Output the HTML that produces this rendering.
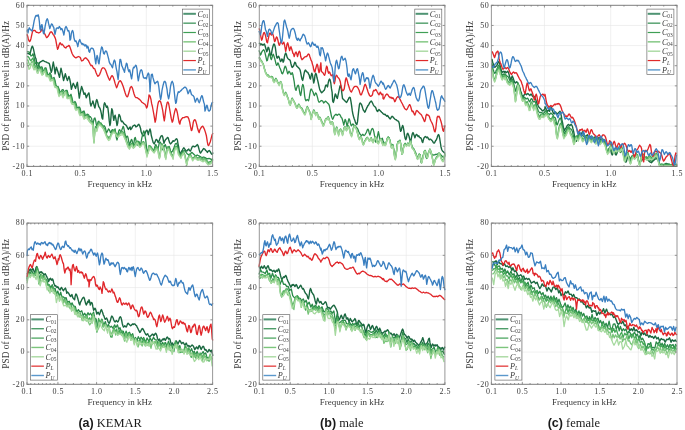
<!DOCTYPE html>
<html><head><meta charset="utf-8"><style>
html,body{margin:0;padding:0;background:#fff;width:685px;height:430px;overflow:hidden}
svg{display:block;will-change:transform;font-family:"Liberation Serif",serif}
</style></head><body>
<svg width="685" height="430" viewBox="0 0 685 430">
<line x1="80.03" y1="5.30" x2="80.03" y2="166.40" stroke="#e6e6e6" stroke-width="0.6"/>
<line x1="146.31" y1="5.30" x2="146.31" y2="166.40" stroke="#e6e6e6" stroke-width="0.6"/>
<line x1="27.00" y1="146.26" x2="212.60" y2="146.26" stroke="#e6e6e6" stroke-width="0.6"/>
<line x1="27.00" y1="126.12" x2="212.60" y2="126.12" stroke="#e6e6e6" stroke-width="0.6"/>
<line x1="27.00" y1="105.99" x2="212.60" y2="105.99" stroke="#e6e6e6" stroke-width="0.6"/>
<line x1="27.00" y1="85.85" x2="212.60" y2="85.85" stroke="#e6e6e6" stroke-width="0.6"/>
<line x1="27.00" y1="65.71" x2="212.60" y2="65.71" stroke="#e6e6e6" stroke-width="0.6"/>
<line x1="27.00" y1="45.58" x2="212.60" y2="45.58" stroke="#e6e6e6" stroke-width="0.6"/>
<line x1="27.00" y1="25.44" x2="212.60" y2="25.44" stroke="#e6e6e6" stroke-width="0.6"/>
<polyline points="27.0,53.1 27.7,53.3 28.4,53.6 29.1,54.0 29.8,54.3 30.5,52.0 31.2,49.0 31.8,47.0 32.3,46.2 32.9,47.2 33.5,49.1 34.3,53.1 35.1,56.4 35.6,58.0 36.0,58.8 36.4,61.3 36.8,65.4 37.2,69.4 37.5,70.9 37.9,68.8 38.3,66.0 38.9,64.0 39.6,62.6 40.3,62.0 41.0,61.7 41.7,61.2 42.4,60.6 43.0,60.5 43.7,60.8 44.4,61.3 45.1,61.7 45.8,61.9 46.5,62.2 47.2,62.6 47.9,62.8 48.6,63.1 49.3,63.6 50.0,66.3 50.6,69.5 51.3,72.3 52.0,70.0 52.6,66.0 53.3,62.0 54.2,67.0 55.1,73.8 55.8,70.0 56.4,67.2 58.0,72.0 59.5,77.4 60.2,73.0 61.0,68.2 62.3,74.0 63.6,80.5 64.5,77.0 65.3,73.8 66.4,77.5 67.4,80.5 68.2,78.5 68.9,76.4 69.7,79.0 70.5,83.0 71.4,89.3 72.3,86.0 73.3,83.3 74.5,86.0 75.6,88.4 76.5,85.0 77.4,82.3 78.3,90.0 79.3,98.1 80.4,92.0 81.6,86.5 82.8,90.0 84.0,94.4 85.0,93.0 85.6,95.0 86.3,97.7 87.5,95.0 88.6,93.0 89.0,93.0 89.7,98.2 90.3,103.5 91.0,106.1 91.6,104.1 92.3,102.8 92.9,100.9 93.6,103.5 94.2,106.1 94.9,108.0 95.5,104.8 96.2,100.9 96.8,99.6 97.5,101.5 98.1,104.1 98.8,106.7 99.4,107.4 100.1,108.7 100.7,110.6 101.4,113.9 102.0,117.8 102.7,119.1 103.3,111.3 104.0,104.8 104.6,102.8 105.3,104.1 105.9,106.1 106.6,107.4 107.2,106.1 107.9,108.0 108.6,113.9 109.2,120.4 109.9,125.6 110.5,123.0 111.2,113.9 111.8,108.7 112.5,110.6 113.1,115.8 113.8,120.4 114.4,117.1 115.1,115.2 115.7,117.8 116.4,121.7 117.0,125.6 117.7,123.0 118.3,117.8 119.0,114.5 119.6,115.2 120.3,117.1 120.9,120.4 121.6,121.7 122.2,121.1 123.2,122.4 123.9,123.7 124.8,124.3 125.8,125.0 126.8,126.3 127.6,128.2 128.4,129.5 129.1,128.2 130.1,126.9 130.7,129.5 131.8,128.2 132.7,126.3 133.6,125.6 134.6,125.0 135.3,125.6 135.9,126.9 137.0,126.3 137.9,125.0 138.8,124.3 139.6,125.6 140.5,128.2 141.1,131.5 141.8,133.4 142.4,134.7 143.1,136.0 144.0,135.4 145.0,133.4 146.1,130.8 147.0,130.2 147.7,132.1 148.3,134.7 149.0,131.6 150.0,128.9 150.6,130.9 151.3,135.5 152.3,139.4 153.2,142.6 154.2,143.9 155.3,141.3 156.2,139.4 157.1,140.0 158.1,142.6 159.2,140.7 160.1,138.1 161.0,136.1 162.0,135.5 162.7,136.8 163.3,140.0 164.0,143.3 164.6,141.3 165.7,139.4 166.6,138.7 167.5,137.4 168.3,138.1 168.8,140.0 169.6,142.6 170.5,143.9 171.2,143.3 172.2,142.0 173.1,140.7 174.0,141.3 174.8,140.7 175.7,139.4 176.6,138.7 177.4,140.0 177.9,143.3 178.7,147.2 179.2,151.1 179.9,153.7 180.9,152.4 182.2,150.5 183.2,148.5 183.9,147.8 184.8,149.1 185.8,150.5 186.8,151.1 187.8,149.8 188.8,149.1 189.4,150.5 190.4,151.1 191.0,149.8 191.8,147.8 192.4,146.5 193.3,146.2 194.4,146.9 195.3,146.5 196.2,145.9 197.2,144.6 197.9,145.2 198.5,147.2 199.2,149.8 199.8,151.8 200.5,153.1 201.8,151.1 202.7,149.8 203.7,148.5 204.8,149.1 205.7,150.5 206.6,151.1 207.4,152.4 208.3,151.1 209.2,150.5 210.3,151.8 211.3,153.7 212.2,154.4 213.0,152.4" fill="none" stroke="#1a6840" stroke-width="1.40" stroke-linejoin="round"/>
<polyline points="27.0,51.5 28.0,51.8 29.0,51.9 30.0,53.5 31.0,56.0 32.0,55.6 33.0,53.8 34.0,57.1 35.0,62.4 36.0,63.9 37.0,62.8 38.0,62.7 39.0,65.6 40.0,68.0 41.0,67.0 42.0,67.0 43.0,70.3 44.0,71.1 45.0,68.0 46.0,67.8 47.0,71.7 48.0,75.2 49.0,74.7 50.0,72.8 51.0,75.0 52.0,78.6 53.0,78.3 54.0,77.5 55.0,80.4 56.0,85.3 57.0,86.9 58.0,86.4 59.0,88.9 60.0,91.9 61.0,92.3 62.0,89.9 63.0,89.5 64.0,91.3 65.0,91.6 66.0,90.5 67.0,90.3 68.0,93.7 69.0,96.7 70.0,95.7 71.0,94.3 72.0,98.0 73.0,102.6 74.0,102.8 75.0,101.5 76.0,103.4 77.0,107.3 78.0,108.4 79.0,106.9 80.0,107.9 81.0,111.9 82.0,113.3 83.0,111.4 84.0,111.0 85.0,114.3 86.0,116.1 87.0,114.2 88.0,114.3 89.0,115.5 89.0,117.2 90.3,116.6 91.6,118.5 92.3,122.4 92.9,124.4 93.6,121.1 94.2,118.5 94.9,117.9 95.5,119.8 96.2,123.7 96.8,125.7 97.5,123.7 98.1,121.8 98.8,121.1 99.4,122.4 100.1,124.4 100.7,123.1 101.4,123.7 102.0,125.0 103.1,126.3 104.0,125.7 104.6,126.3 105.3,127.6 105.9,130.2 106.6,132.9 107.2,131.6 107.9,130.2 108.6,128.9 109.2,129.6 109.9,130.9 110.5,132.9 111.2,132.2 111.8,130.2 112.5,129.6 113.1,130.2 113.8,131.6 114.4,130.2 115.1,128.9 115.7,133.5 116.4,138.1 117.0,140.0 117.7,136.8 118.3,132.9 119.0,130.2 119.6,129.6 120.3,130.9 120.9,131.6 121.6,130.9 122.2,128.9 123.2,126.3 123.9,128.3 124.8,132.9 125.5,136.1 126.1,138.1 126.8,136.1 127.5,136.1 128.1,138.1 128.8,142.0 129.4,145.2 130.1,143.3 130.7,141.3 131.4,139.4 132.0,140.0 132.7,143.3 133.3,145.9 134.0,142.6 134.6,138.1 135.3,137.4 135.9,140.0 136.6,143.9 137.2,145.2 137.9,143.3 138.5,141.3 139.2,142.0 139.8,144.6 140.5,145.9 141.1,142.0 141.8,138.1 142.4,135.5 143.1,132.9 143.7,130.9 144.4,132.2 145.0,136.1 145.7,140.0 146.4,145.9 147.0,151.1 147.7,153.7 148.3,149.8 149.0,146.5 149.0,147.2 150.0,145.9 151.0,147.2 151.9,149.1 152.9,151.1 154.0,149.8 154.9,146.5 155.8,144.6 156.6,146.5 157.5,149.1 158.4,147.2 159.2,143.3 160.1,142.0 161.0,143.3 161.8,147.2 162.7,149.8 163.6,147.8 164.4,145.9 165.3,144.6 166.2,147.2 167.0,150.5 167.9,149.8 168.6,147.2 169.2,146.5 169.9,148.5 170.5,151.1 171.4,152.4 172.5,151.1 173.5,149.1 174.4,146.5 175.3,143.9 176.4,143.3 177.4,145.2 178.3,149.8 179.2,153.7 180.3,155.0 181.3,153.7 182.2,151.8 183.2,151.1 184.2,150.5 185.2,151.1 186.1,152.4 187.1,153.7 188.1,154.4 189.1,155.0 190.1,154.4 191.0,153.1 192.0,152.4 193.3,153.7 194.6,155.0 195.9,155.7 197.2,155.0 198.5,155.7 199.8,156.3 201.1,157.0 202.4,157.6 203.7,157.0 205.0,157.6 206.4,158.3 207.7,158.9 209.0,158.3 210.3,158.9 211.6,159.6 213.0,158.9" fill="none" stroke="#2a8a48" stroke-width="1.30" stroke-linejoin="round"/>
<polyline points="27.0,56.9 28.0,56.5 29.0,57.6 30.0,59.7 31.0,60.7 32.0,59.1 33.0,58.0 34.0,62.1 35.0,66.3 36.0,66.2 37.0,65.6 38.0,66.6 39.0,68.7 40.0,69.3 41.0,68.3 42.0,69.6 43.0,72.8 44.0,72.1 45.0,68.8 46.0,70.1 47.0,74.3 48.0,76.4 49.0,75.3 50.0,74.8 51.0,77.8 52.0,80.1 53.0,78.9 54.0,79.2 55.0,83.2 56.0,87.2 57.0,87.5 58.0,87.8 59.0,91.6 60.0,94.1 61.0,93.1 62.0,91.0 63.0,92.1 64.0,93.8 65.0,92.6 66.0,91.3 67.0,92.6 68.0,96.3 69.0,97.9 70.0,96.3 71.0,96.3 72.0,100.8 73.0,104.1 74.0,103.4 75.0,103.2 76.0,106.2 77.0,109.2 78.0,109.0 79.0,108.3 80.0,110.6 81.0,114.1 82.0,114.1 83.0,112.5 84.0,113.6 85.0,116.8 86.0,117.1 87.0,115.3 88.0,116.2 89.0,117.2 89.0,118.6 90.3,120.7 91.6,121.9 92.9,123.3 93.6,137.3 94.0,141.1 94.5,134.8 94.9,129.8 95.5,126.4 96.2,126.9 96.8,129.2 98.1,124.2 99.4,122.6 100.7,123.0 102.0,124.8 103.3,127.1 104.6,129.1 105.9,133.2 107.2,136.4 108.6,137.4 109.9,136.7 111.2,134.1 112.5,131.3 113.8,130.0 115.1,131.1 116.4,133.9 117.7,134.1 119.0,133.7 120.3,132.6 121.6,132.1 122.9,131.7 124.2,134.3 125.5,137.6 126.8,141.1 128.1,144.8 129.4,145.8 130.7,144.8 132.0,143.2 133.3,146.6 134.6,144.7 135.9,142.4 137.2,141.0 138.5,142.7 139.8,144.9 141.1,144.1 142.4,142.1 143.7,141.7 145.0,145.0 146.4,152.0 147.0,154.4 147.7,151.4 149.0,147.8 149.0,145.5 150.3,146.2 151.6,147.7 152.9,149.8 154.2,149.7 155.5,147.4 156.8,146.7 158.1,148.9 158.8,153.8 159.4,156.9 160.1,154.5 160.7,149.2 161.4,144.9 162.0,143.7 163.3,146.4 164.6,150.6 165.3,155.5 165.9,156.7 166.6,151.6 167.2,147.1 168.6,146.5 169.9,150.5 171.2,153.5 172.5,155.6 173.1,156.7 173.8,151.2 175.1,147.0 176.4,146.3 177.4,148.0 178.3,151.7 179.6,154.6 180.9,155.2 182.2,152.9 183.5,152.1 184.8,154.3 186.1,160.7 186.8,163.1 187.5,159.5 188.8,156.1 190.1,153.6 191.4,156.5 192.7,158.5 194.0,157.3 195.3,155.8 196.6,157.2 197.9,158.1 199.2,157.5 200.5,158.0 201.8,158.2 203.1,159.9 204.4,158.2 205.7,159.1 207.0,160.7 208.3,162.7 209.6,161.9 210.9,161.2 212.2,160.1 213.0,159.6" fill="none" stroke="#45a858" stroke-width="1.30" stroke-linejoin="round"/>
<polyline points="27.0,60.1 28.0,60.0 29.0,63.6 30.0,65.2 31.0,63.3 32.0,61.2 33.0,62.6 34.0,67.1 35.0,68.4 36.0,67.1 37.0,68.7 38.0,70.9 39.0,70.5 40.0,69.2 41.0,70.0 42.0,73.0 43.0,74.5 44.0,71.5 45.0,69.7 46.0,73.4 47.0,76.6 48.0,76.1 49.0,75.6 50.0,77.8 51.0,80.5 52.0,80.2 53.0,78.7 54.0,81.7 55.0,86.3 56.0,87.7 57.0,87.0 58.0,89.7 59.0,95.0 60.0,95.2 61.0,92.5 62.0,92.4 63.0,95.5 64.0,95.5 65.0,92.0 66.0,92.2 67.0,95.9 68.0,98.6 69.0,97.6 70.0,96.6 71.0,99.3 72.0,103.5 73.0,104.2 74.0,103.2 75.0,105.7 76.0,109.3 77.0,109.7 78.0,108.5 79.0,110.2 80.0,114.0 81.0,115.2 82.0,113.5 83.0,113.9 84.0,117.0 85.0,118.5 86.0,116.5 87.0,116.3 88.0,118.2 89.0,118.6 89.0,120.9 90.3,122.2 91.6,122.4 92.9,124.4 93.6,139.0 94.0,142.8 94.5,136.2 94.9,130.5 95.5,128.3 96.2,128.9 96.8,130.2 98.1,125.1 99.4,123.5 100.7,124.8 102.0,126.5 103.3,128.7 104.6,131.3 105.9,134.1 107.2,137.2 108.6,138.9 109.9,138.0 111.2,134.7 112.5,132.0 113.8,131.2 115.1,132.6 116.4,135.8 117.7,136.0 119.0,135.4 120.3,133.7 121.6,132.8 122.9,133.1 124.2,135.5 125.5,139.2 126.8,143.1 128.1,146.6 129.4,147.3 130.7,146.2 132.0,144.8 133.3,148.0 134.6,146.9 135.9,143.4 137.2,142.2 138.5,144.3 139.8,147.0 141.1,145.6 142.4,142.7 143.7,142.8 145.0,146.6 146.4,152.9 147.0,155.5 147.7,152.9 149.0,149.5 149.0,146.4 150.3,147.4 151.6,148.8 152.9,151.4 154.2,152.1 155.5,148.9 156.8,147.8 158.1,150.8 158.8,155.8 159.4,158.1 160.1,155.2 160.7,150.1 161.4,146.6 162.0,144.7 163.3,148.2 164.6,151.3 165.3,157.3 165.9,157.9 166.6,153.5 167.2,149.2 168.6,148.3 169.9,151.6 171.2,154.4 172.5,156.9 173.1,157.9 173.8,152.6 175.1,148.4 176.4,147.6 177.4,149.1 178.3,152.4 179.6,155.9 180.9,157.1 182.2,154.7 183.5,152.5 184.8,155.8 186.1,161.5 186.8,164.8 187.5,160.5 188.8,156.5 190.1,156.0 191.4,157.0 192.7,159.5 194.0,158.5 195.3,156.5 196.6,157.8 197.9,159.9 199.2,158.7 200.5,159.7 201.8,159.5 203.1,160.6 204.4,159.0 205.7,160.9 207.0,161.5 208.3,164.5 209.6,162.8 210.9,163.0 212.2,160.8 213.0,160.4" fill="none" stroke="#78c47a" stroke-width="1.30" stroke-linejoin="round"/>
<polyline points="27.0,62.6 28.0,64.9 29.0,69.3 30.0,68.3 31.0,64.7 32.0,64.7 33.0,67.6 34.0,69.9 35.0,69.0 36.0,69.2 37.0,72.9 38.0,73.4 39.0,70.4 40.0,69.9 41.0,73.1 42.0,75.3 43.0,74.1 44.0,71.4 45.0,72.2 46.0,76.2 47.0,76.7 48.0,75.6 49.0,77.7 50.0,80.9 51.0,81.2 52.0,79.4 53.0,80.2 54.0,84.9 55.0,87.5 56.0,86.9 57.0,87.9 58.0,92.9 59.0,96.7 60.0,94.5 61.0,92.8 62.0,95.3 63.0,97.8 64.0,95.1 65.0,91.9 66.0,94.7 67.0,98.7 68.0,98.7 69.0,97.1 70.0,98.7 71.0,102.4 72.0,104.2 73.0,103.4 74.0,104.7 75.0,108.9 76.0,110.5 77.0,108.9 78.0,109.4 79.0,113.4 80.0,115.7 81.0,114.5 82.0,113.8 83.0,116.8 84.0,119.3 85.0,118.1 86.0,116.4 87.0,118.4 88.0,119.9 89.0,119.8 89.0,121.0 90.3,122.7 91.6,123.8 92.9,126.0 93.6,139.7 94.0,143.0 94.5,136.4 94.9,132.2 95.5,128.9 96.2,129.5 96.8,131.7 98.1,126.5 99.4,125.0 100.7,125.9 102.0,127.4 103.3,128.7 104.6,131.9 105.9,135.4 107.2,138.3 108.6,140.5 109.9,139.8 111.2,135.8 112.5,133.4 113.8,132.5 115.1,133.5 116.4,135.7 117.7,137.4 119.0,136.3 120.3,135.3 121.6,134.8 122.9,134.6 124.2,137.5 125.5,140.1 126.8,143.8 128.1,147.3 129.4,149.2 130.7,147.2 132.0,145.0 133.3,148.3 134.6,147.0 135.9,144.7 137.2,142.8 138.5,145.6 139.8,147.2 141.1,146.1 142.4,144.0 143.7,143.3 145.0,147.5 146.4,154.0 147.0,157.0 147.7,154.1 149.0,150.5 149.0,147.8 150.3,148.6 151.6,150.2 152.9,151.5 154.2,153.0 155.5,150.6 156.8,149.2 158.1,151.4 158.8,156.8 159.4,158.8 160.1,156.9 160.7,151.4 161.4,147.1 162.0,145.6 163.3,149.1 164.6,153.2 165.3,157.3 165.9,159.5 166.6,153.8 167.2,149.6 168.6,149.1 169.9,152.9 171.2,155.7 172.5,157.3 173.1,159.3 173.8,153.4 175.1,149.6 176.4,147.8 177.4,150.5 178.3,154.5 179.6,156.5 180.9,158.4 182.2,155.0 183.5,153.4 184.8,156.6 186.1,162.5 186.8,165.3 187.5,161.6 188.8,157.9 190.1,156.1 191.4,157.9 192.7,160.9 194.0,158.9 195.3,158.4 196.6,159.6 197.9,160.3 199.2,159.7 200.5,160.4 201.8,161.2 203.1,161.8 204.4,160.5 205.7,161.9 207.0,163.6 208.3,165.0 209.6,164.3 210.9,163.9 212.2,162.1 213.0,161.5" fill="none" stroke="#a5d99e" stroke-width="1.30" stroke-linejoin="round"/>
<polyline points="27.0,34.3 27.7,36.3 28.3,38.9 29.0,40.8 29.6,41.5 30.3,40.8 30.9,38.9 31.6,35.6 32.5,31.7 33.5,30.4 34.6,30.4 35.5,31.1 36.4,32.4 37.4,32.4 38.7,33.0 40.0,32.4 41.1,31.1 41.7,29.1 42.4,29.8 43.3,31.1 43.9,33.0 45.0,34.3 45.9,36.3 46.6,37.6 47.2,37.3 48.1,36.3 49.2,34.3 50.2,32.4 51.1,31.7 52.0,32.4 53.1,34.3 54.1,35.6 55.0,37.6 55.7,39.5 56.3,42.8 57.0,46.7 57.6,49.3 58.3,48.0 58.9,45.4 59.6,43.5 60.2,42.8 60.9,44.1 61.5,44.8 62.2,44.1 63.2,45.4 64.1,46.7 64.8,47.4 65.8,48.0 66.8,46.7 68.1,46.1 69.0,45.4 69.8,46.7 70.7,49.3 72.0,53.2 73.3,55.8 74.6,57.1 75.9,57.8 77.2,57.1 78.5,56.5 79.8,57.1 80.4,57.8 81.1,59.7 81.7,61.0 83.0,60.4 84.4,58.4 85.7,57.8 87.0,59.1 88.3,60.4 89.7,63.2 90.3,64.5 91.0,65.8 91.6,65.2 92.3,65.8 92.9,67.1 93.6,68.5 94.2,68.5 94.9,69.1 95.5,71.1 96.2,73.0 97.1,75.0 97.9,76.3 98.8,75.6 99.7,74.3 100.7,71.7 101.6,69.1 102.7,67.8 103.6,67.8 104.6,68.5 105.7,70.4 106.6,73.0 107.5,75.6 108.6,78.2 109.6,80.2 110.5,78.2 111.4,76.3 112.2,75.6 113.1,76.9 113.8,78.9 114.4,80.8 115.1,83.4 116.6,87.8 117.4,85.9 118.3,83.3 119.2,81.3 120.3,80.7 121.3,82.0 122.2,83.9 123.2,86.5 124.2,89.8 125.2,93.0 126.1,95.6 127.1,96.9 127.8,96.3 128.8,93.0 129.7,89.8 130.4,87.2 131.4,86.5 132.3,87.8 133.1,90.4 134.0,93.7 134.9,96.3 135.9,97.6 137.0,97.6 137.9,98.2 138.8,98.9 139.8,99.6 140.9,100.9 141.8,102.2 142.7,102.8 143.7,103.5 144.8,104.1 145.7,105.4 146.6,108.0 147.3,106.7 147.9,102.8 148.7,98.2 149.0,95.0 149.7,95.6 150.3,96.9 151.0,99.5 151.6,103.4 152.3,106.0 153.6,113.0 154.5,118.2 155.1,122.2 155.8,119.6 156.6,113.0 157.5,106.5 158.1,103.3 158.8,101.3 159.7,100.7 160.7,102.0 161.6,105.2 162.7,110.4 163.6,116.9 164.3,120.9 164.9,116.9 165.7,110.4 166.6,105.2 167.2,102.6 167.9,102.0 168.6,103.3 169.2,106.5 170.1,111.7 171.2,118.2 172.2,122.2 172.9,120.9 173.8,115.6 174.8,111.1 175.7,108.5 176.6,109.8 177.4,113.0 178.3,118.2 179.2,122.8 179.9,124.1 180.5,120.9 181.6,118.9 182.9,117.6 184.2,117.6 185.5,116.9 186.8,116.7 187.8,116.9 188.8,118.9 189.7,122.2 190.4,126.1 191.4,130.6 192.0,130.0 192.7,126.1 193.3,122.2 194.0,120.2 194.9,119.6 195.7,120.9 196.6,124.1 197.5,128.0 198.5,131.3 199.2,132.6 199.8,130.0 200.9,128.0 201.8,126.7 202.7,126.1 203.5,127.4 204.4,129.3 205.3,131.9 206.4,135.8 207.3,141.7 207.9,145.0 208.6,145.6 209.2,144.3 210.3,141.7 211.3,137.8 212.2,134.5 213.0,133.2" fill="none" stroke="#e0262a" stroke-width="1.35" stroke-linejoin="round"/>
<polyline points="27.0,31.7 27.5,29.8 28.0,33.0 28.6,29.8 29.3,27.8 30.6,29.8 32.0,31.1 32.9,27.8 34.2,20.6 35.1,17.4 36.1,15.4 37.2,16.1 38.1,14.8 38.7,16.7 39.4,21.9 40.0,29.1 40.7,30.4 41.3,25.2 42.0,24.6 42.6,27.8 43.3,33.0 43.9,33.7 44.6,29.8 45.2,25.9 46.3,20.6 47.2,18.7 47.9,20.0 48.5,23.2 49.2,25.9 49.8,28.5 50.7,25.9 51.5,23.9 52.4,24.6 53.1,26.5 53.7,27.2 54.4,31.1 55.0,34.3 55.7,31.1 56.3,28.5 57.2,27.8 58.3,28.5 59.3,26.5 60.2,27.8 60.9,29.8 61.5,28.5 62.2,29.1 63.2,32.4 63.9,35.0 64.5,31.1 65.2,27.8 66.1,26.5 66.8,27.8 67.4,29.8 68.1,31.1 68.7,30.4 69.4,33.0 70.0,40.2 70.7,38.9 71.3,33.7 72.0,31.1 72.6,30.4 73.3,32.4 73.9,37.6 74.6,40.2 75.2,41.5 75.9,40.8 76.5,42.1 77.2,44.1 77.8,46.7 78.5,42.8 79.1,40.8 79.8,39.5 80.4,41.5 81.1,42.8 81.7,44.1 82.4,43.5 83.0,44.8 83.7,44.1 84.4,45.4 85.0,46.1 85.7,44.8 86.3,45.4 87.0,48.0 87.6,46.1 88.3,47.4 88.9,51.3 89.7,52.2 90.3,49.6 91.3,48.2 92.3,48.2 93.2,48.9 94.0,50.9 94.5,54.1 95.1,59.3 95.8,63.9 96.4,58.7 97.1,55.4 97.7,57.4 98.4,62.6 99.0,63.9 99.7,58.7 100.3,53.5 101.0,49.6 101.6,46.9 102.3,47.6 102.9,50.2 103.6,53.5 104.3,54.1 104.9,52.2 105.7,50.9 106.6,51.5 107.2,53.5 107.9,56.1 108.6,58.7 109.2,61.9 110.1,63.9 110.9,64.5 111.8,66.5 112.5,67.8 113.1,64.5 113.8,61.3 114.4,60.0 115.1,61.3 115.7,65.2 116.4,69.1 117.0,71.7 117.7,76.9 118.1,79.5 118.7,74.3 119.4,65.2 120.0,59.3 120.5,59.3 121.2,61.9 121.8,65.8 122.5,67.1 123.2,69.1 123.9,70.4 124.5,72.4 125.1,68.5 125.8,65.8 126.4,63.2 127.1,63.9 127.7,67.8 128.4,70.4 129.0,71.7 129.7,69.8 130.4,73.0 131.0,76.3 131.6,78.9 132.3,74.3 132.9,69.1 133.6,67.1 134.2,67.8 134.9,66.5 135.7,65.2 136.3,65.8 137.0,69.1 137.6,76.3 138.3,80.8 138.9,77.6 139.6,73.7 140.5,70.4 141.4,69.8 142.1,71.1 142.7,74.3 143.5,77.6 144.4,78.2 145.3,77.6 146.4,78.9 147.0,76.3 147.7,74.3 148.3,73.0 149.0,74.3 149.0,76.1 149.7,83.9 150.0,91.7 150.6,82.6 151.3,74.8 152.3,74.1 152.9,77.4 154.0,81.3 154.9,83.9 155.8,82.6 156.8,81.9 157.6,81.3 158.1,82.6 158.8,86.5 159.4,91.7 160.1,96.9 160.7,99.5 161.4,95.6 162.0,90.4 163.1,85.2 164.0,81.9 164.9,81.3 165.7,82.6 166.3,85.8 167.0,89.1 167.6,94.3 168.6,98.9 169.2,96.3 169.9,91.7 170.5,86.5 171.4,82.6 172.2,81.3 173.1,83.2 173.8,87.1 174.4,93.0 175.1,99.5 175.7,103.4 176.4,102.1 177.0,96.9 177.7,93.7 178.3,91.7 179.2,92.4 180.3,91.1 181.3,90.4 182.2,89.1 183.2,88.5 183.9,87.8 184.8,87.1 185.8,87.5 186.8,89.1 187.5,91.7 188.1,93.7 188.8,92.4 189.4,90.4 190.1,89.8 190.7,91.7 191.4,94.3 192.0,95.0 193.1,95.6 194.0,96.9 194.6,99.5 195.3,102.1 195.9,100.8 196.6,98.9 197.2,98.2 197.9,99.5 198.5,101.5 199.2,102.8 199.8,101.5 200.9,97.6 201.8,95.6 202.4,96.3 203.1,99.5 203.7,102.1 204.4,104.1 205.0,111.1 205.7,109.1 206.4,105.9 207.0,105.2 207.7,107.8 208.3,110.4 209.2,111.1 210.3,109.8 210.9,106.5 211.6,103.9 212.2,102.6 213.0,102.0" fill="none" stroke="#3a7fc0" stroke-width="1.35" stroke-linejoin="round"/>
<path d="M27.00 166.40v-2.20M27.00 5.30v2.20M33.63 166.40v-1.30M33.63 5.30v1.30M40.26 166.40v-1.30M40.26 5.30v1.30M46.89 166.40v-1.30M46.89 5.30v1.30M53.51 166.40v-1.30M53.51 5.30v1.30M60.14 166.40v-1.30M60.14 5.30v1.30M66.77 166.40v-1.30M66.77 5.30v1.30M73.40 166.40v-1.30M73.40 5.30v1.30M80.03 166.40v-2.20M80.03 5.30v2.20M93.29 166.40v-1.30M93.29 5.30v1.30M106.54 166.40v-1.30M106.54 5.30v1.30M119.80 166.40v-1.30M119.80 5.30v1.30M133.06 166.40v-1.30M133.06 5.30v1.30M146.31 166.40v-2.20M146.31 5.30v2.20M159.57 166.40v-1.30M159.57 5.30v1.30M172.83 166.40v-1.30M172.83 5.30v1.30M186.09 166.40v-1.30M186.09 5.30v1.30M199.34 166.40v-1.30M199.34 5.30v1.30M212.60 166.40v-2.20M212.60 5.30v2.20M27.00 166.40h2.20M212.60 166.40h-2.20M27.00 146.26h2.20M212.60 146.26h-2.20M27.00 126.12h2.20M212.60 126.12h-2.20M27.00 105.99h2.20M212.60 105.99h-2.20M27.00 85.85h2.20M212.60 85.85h-2.20M27.00 65.71h2.20M212.60 65.71h-2.20M27.00 45.58h2.20M212.60 45.58h-2.20M27.00 25.44h2.20M212.60 25.44h-2.20M27.00 5.30h2.20M212.60 5.30h-2.20" stroke="#555" stroke-width="0.6" fill="none"/>
<path d="M26.50 5.30H213.10M26.50 166.40H213.10" stroke="#6e6e6e" stroke-width="0.9" fill="none"/>
<path d="M27.00 5.30V166.40M212.60 5.30V166.40" stroke="#8c8c8c" stroke-width="0.9" fill="none"/>
<g font-size="8" fill="#3a3a3a"><text x="27.25" y="176.40" text-anchor="middle" letter-spacing="0.5">0.1</text><text x="80.28" y="176.40" text-anchor="middle" letter-spacing="0.5">0.5</text><text x="146.56" y="176.40" text-anchor="middle" letter-spacing="0.5">1.0</text><text x="212.85" y="176.40" text-anchor="middle" letter-spacing="0.5">1.5</text><text x="25.00" y="168.70" text-anchor="end" letter-spacing="0.6">-20</text><text x="25.00" y="148.56" text-anchor="end" letter-spacing="0.6">-10</text><text x="25.00" y="128.43" text-anchor="end" letter-spacing="0.6">0</text><text x="25.00" y="108.29" text-anchor="end" letter-spacing="0.6">10</text><text x="25.00" y="88.15" text-anchor="end" letter-spacing="0.6">20</text><text x="25.00" y="68.01" text-anchor="end" letter-spacing="0.6">30</text><text x="25.00" y="47.88" text-anchor="end" letter-spacing="0.6">40</text><text x="25.00" y="27.74" text-anchor="end" letter-spacing="0.6">50</text><text x="25.00" y="7.60" text-anchor="end" letter-spacing="0.6">60</text></g>
<text x="119.80" y="186.80" text-anchor="middle" font-size="9" fill="#3a3a3a">Frequency in kHz</text>
<text transform="translate(8.70 85.85) rotate(-90)" text-anchor="middle" font-size="9.3" fill="#3a3a3a">PSD of pressure level in dB(A)/Hz</text>
<rect x="182.50" y="9.10" width="27.00" height="65.40" fill="#fff" stroke="#555" stroke-width="0.6"/>
<line x1="183.30" y1="13.80" x2="195.90" y2="13.80" stroke="#4f9473" stroke-width="2.00"/>
<text x="197.50" y="16.60" font-size="8.2" fill="#3a3a3a"><tspan font-style="italic">C</tspan><tspan font-size="5.4" dy="1.5">01</tspan></text>
<line x1="183.30" y1="23.15" x2="195.90" y2="23.15" stroke="#2f8c4e" stroke-width="1.20"/>
<text x="197.50" y="25.95" font-size="8.2" fill="#3a3a3a"><tspan font-style="italic">C</tspan><tspan font-size="5.4" dy="1.5">02</tspan></text>
<line x1="183.30" y1="32.50" x2="195.90" y2="32.50" stroke="#3f9f55" stroke-width="1.20"/>
<text x="197.50" y="35.30" font-size="8.2" fill="#3a3a3a"><tspan font-style="italic">C</tspan><tspan font-size="5.4" dy="1.5">03</tspan></text>
<line x1="183.30" y1="41.85" x2="195.90" y2="41.85" stroke="#7cc57c" stroke-width="1.40"/>
<text x="197.50" y="44.65" font-size="8.2" fill="#3a3a3a"><tspan font-style="italic">C</tspan><tspan font-size="5.4" dy="1.5">04</tspan></text>
<line x1="183.30" y1="51.20" x2="195.90" y2="51.20" stroke="#a8d9a0" stroke-width="1.40"/>
<text x="197.50" y="54.00" font-size="8.2" fill="#3a3a3a"><tspan font-style="italic">C</tspan><tspan font-size="5.4" dy="1.5">05</tspan></text>
<line x1="183.30" y1="60.55" x2="195.90" y2="60.55" stroke="#e02a2a" stroke-width="1.20"/>
<text x="197.50" y="63.35" font-size="8.2" fill="#3a3a3a"><tspan font-style="italic">P</tspan><tspan font-size="5.4" dy="1.5" font-style="italic">L</tspan></text>
<line x1="183.30" y1="69.90" x2="195.90" y2="69.90" stroke="#5a98cc" stroke-width="1.40"/>
<text x="197.50" y="72.70" font-size="8.2" fill="#3a3a3a"><tspan font-style="italic">P</tspan><tspan font-size="5.4" dy="1.5" font-style="italic">U</tspan></text>
<line x1="312.33" y1="5.30" x2="312.33" y2="166.40" stroke="#e6e6e6" stroke-width="0.6"/>
<line x1="378.61" y1="5.30" x2="378.61" y2="166.40" stroke="#e6e6e6" stroke-width="0.6"/>
<line x1="259.30" y1="146.26" x2="444.90" y2="146.26" stroke="#e6e6e6" stroke-width="0.6"/>
<line x1="259.30" y1="126.12" x2="444.90" y2="126.12" stroke="#e6e6e6" stroke-width="0.6"/>
<line x1="259.30" y1="105.99" x2="444.90" y2="105.99" stroke="#e6e6e6" stroke-width="0.6"/>
<line x1="259.30" y1="85.85" x2="444.90" y2="85.85" stroke="#e6e6e6" stroke-width="0.6"/>
<line x1="259.30" y1="65.71" x2="444.90" y2="65.71" stroke="#e6e6e6" stroke-width="0.6"/>
<line x1="259.30" y1="45.58" x2="444.90" y2="45.58" stroke="#e6e6e6" stroke-width="0.6"/>
<line x1="259.30" y1="25.44" x2="444.90" y2="25.44" stroke="#e6e6e6" stroke-width="0.6"/>
<polyline points="259.0,43.9 259.7,43.3 260.3,43.9 261.0,44.6 261.6,43.9 262.3,44.6 262.9,45.2 263.6,44.6 264.2,43.9 264.9,45.2 265.5,47.2 266.2,49.8 266.8,51.7 267.5,49.8 268.1,47.2 268.8,47.8 269.4,50.4 270.1,53.7 270.7,55.6 271.4,54.3 272.0,50.4 272.7,47.2 273.3,45.2 274.0,43.9 274.6,44.6 275.3,47.2 275.9,51.7 276.6,56.9 277.2,58.2 277.9,56.9 278.6,56.3 279.2,57.6 279.9,59.6 280.5,61.5 281.2,60.9 281.8,58.9 282.5,59.6 283.1,62.2 283.8,60.9 284.4,56.9 285.1,54.3 285.7,53.0 286.4,54.3 287.0,56.9 287.7,58.2 288.3,58.9 289.0,59.6 289.6,59.6 290.3,60.9 290.9,63.5 291.6,66.1 292.2,67.4 292.9,66.7 293.5,66.1 294.2,64.1 294.8,62.2 295.5,62.8 296.1,64.8 296.8,66.1 297.5,66.7 298.1,67.4 298.8,68.0 299.4,68.7 300.1,70.0 300.7,72.6 301.4,76.5 302.0,79.1 302.7,80.4 303.3,77.8 304.0,73.9 304.6,71.3 305.3,70.0 305.9,70.6 306.6,71.9 307.2,71.9 307.9,72.6 308.5,73.9 309.2,75.2 309.8,77.8 310.5,79.1 311.1,75.8 311.8,73.2 312.4,74.5 313.1,79.1 313.7,83.0 314.4,80.4 315.0,75.2 315.7,73.2 316.4,74.5 317.0,77.8 317.7,80.4 318.3,83.0 319.0,86.3 319.6,88.9 320.3,90.8 320.9,91.5 321.0,92.1 321.7,92.8 322.3,92.1 323.0,91.5 323.6,90.8 324.3,90.2 324.9,88.2 325.6,85.6 326.2,85.0 326.9,85.6 327.5,86.9 328.2,83.0 328.8,80.4 329.5,79.1 330.1,79.8 330.8,83.0 331.4,88.2 332.1,92.1 332.7,101.1 333.4,102.4 334.0,100.4 334.7,96.5 335.3,93.9 336.0,95.2 336.6,97.2 337.3,98.5 337.9,95.9 338.6,92.6 339.9,86.3 340.6,85.0 341.2,88.2 342.5,98.5 343.2,99.1 343.8,99.8 344.5,100.4 345.1,101.1 345.8,101.7 346.4,102.4 347.1,101.7 347.7,100.4 348.4,99.1 349.0,97.8 349.7,97.2 350.3,97.8 351.0,101.7 351.6,105.6 352.3,110.9 352.9,114.1 353.6,116.7 354.2,118.7 354.9,120.6 355.5,122.6 356.2,123.9 356.8,124.5 357.5,121.9 358.1,116.1 358.8,109.6 359.5,104.3 360.1,103.0 360.8,103.7 361.4,104.3 362.1,106.3 362.7,108.2 363.4,110.2 364.0,110.9 364.7,112.2 365.3,111.5 366.0,109.6 366.6,108.2 367.3,106.9 367.9,105.6 368.6,105.0 369.2,103.7 369.9,102.4 370.5,101.7 371.2,101.1 371.8,101.7 372.5,103.0 373.1,104.3 373.8,105.6 374.4,106.3 375.1,106.9 375.7,107.6 376.4,109.6 377.0,110.9 377.7,111.5 378.4,110.2 379.0,109.6 379.7,110.2 380.3,110.9 381.0,111.5 381.6,112.2 382.3,112.8 382.9,113.5 383.6,114.1 384.2,114.5 385.0,114.1 385.6,115.0 386.3,115.6 386.9,116.3 387.6,115.6 388.2,116.3 388.9,117.6 389.5,118.2 390.2,118.9 390.8,118.2 391.5,116.9 392.1,116.3 392.8,116.7 393.4,117.6 394.1,118.2 394.7,118.9 395.4,119.6 396.0,119.6 396.7,120.2 397.3,120.9 398.0,120.9 398.6,121.5 399.3,123.5 399.9,128.0 400.6,131.3 401.2,130.6 401.9,127.4 402.6,125.4 403.2,126.7 403.9,130.6 404.5,135.2 405.2,138.5 405.8,139.8 406.5,137.8 407.1,133.9 407.8,133.2 408.4,134.5 409.1,136.5 409.7,139.1 410.4,141.7 411.0,140.4 411.7,136.5 412.3,133.9 413.0,132.6 413.6,133.9 414.3,135.8 414.9,137.8 415.6,135.8 416.2,134.5 416.9,134.5 417.5,135.8 418.2,136.5 418.8,135.8 419.5,137.1 420.1,137.8 420.8,137.8 421.5,139.1 422.1,141.7 422.8,142.4 423.4,139.8 424.1,137.8 424.7,137.1 425.4,136.5 426.0,137.1 426.7,137.8 427.3,137.1 428.0,137.8 428.6,139.1 429.3,139.8 429.9,139.1 430.6,139.1 431.2,139.8 431.9,140.4 432.5,141.1 433.2,142.4 433.8,143.0 434.5,143.0 435.1,141.7 435.8,140.4 436.4,139.8 437.1,137.8 437.7,135.8 438.4,134.5 439.0,135.2 439.7,138.5 440.4,143.0 441.0,146.9 441.7,149.5 442.3,150.8 443.0,151.5 443.6,152.1 444.3,152.8 445.0,153.4" fill="none" stroke="#1a6840" stroke-width="1.40" stroke-linejoin="round"/>
<polyline points="259.0,50.4 259.7,52.4 260.3,55.0 261.0,54.3 261.6,52.4 262.3,51.1 262.9,50.4 263.6,49.8 264.2,50.4 264.9,52.4 265.5,55.0 266.2,58.2 266.8,60.9 267.5,60.2 268.1,56.9 268.8,54.3 269.4,53.0 270.1,55.6 270.7,58.2 271.4,59.6 272.0,57.6 272.7,55.0 273.3,54.3 274.0,56.3 274.6,58.2 275.3,60.9 275.9,63.5 276.6,65.4 277.2,64.8 277.9,62.8 278.6,64.1 279.2,66.1 279.9,68.0 280.5,69.3 281.2,71.3 281.8,73.2 282.5,73.9 283.1,72.6 283.8,70.6 284.4,68.0 285.1,66.1 285.7,66.7 286.4,68.7 287.0,71.3 287.7,73.9 288.3,72.6 289.0,71.3 289.6,71.9 290.3,73.2 290.9,74.5 291.6,73.9 292.2,72.6 292.9,74.5 293.5,77.8 294.2,81.7 294.8,86.4 295.5,89.7 296.1,90.3 296.8,87.7 297.5,85.8 298.1,85.1 298.8,86.4 299.4,90.3 300.1,94.2 300.7,95.6 301.4,91.6 302.0,87.1 302.7,84.5 303.3,85.1 304.0,89.0 304.6,95.6 305.3,99.5 305.9,100.8 306.6,100.1 307.2,99.5 307.9,100.1 308.5,100.8 309.2,98.2 309.8,94.2 310.5,90.3 311.1,89.0 311.8,89.7 312.4,91.0 313.1,92.3 313.7,94.2 314.4,95.6 315.0,94.2 315.7,92.9 316.4,93.6 317.0,95.6 317.7,98.2 318.3,100.8 319.0,102.1 319.6,102.1 320.3,101.4 320.9,100.8 321.6,100.5 322.2,100.8 323.0,101.4 323.6,103.0 324.3,102.4 324.9,101.7 325.6,101.1 326.2,101.7 326.9,102.4 327.5,103.0 328.2,103.7 328.8,104.3 329.5,106.3 330.1,109.6 330.8,112.8 331.4,116.1 332.1,118.0 332.7,119.3 333.4,118.0 334.0,116.1 334.7,115.4 335.3,114.8 336.0,114.1 336.6,114.8 337.3,115.4 337.9,114.8 338.6,114.1 339.2,114.1 339.9,114.8 340.6,116.1 341.2,117.4 341.9,118.0 342.5,120.0 343.2,122.6 343.8,125.2 344.5,121.9 345.1,119.3 345.8,120.6 346.4,123.2 347.1,126.5 347.7,123.9 348.4,120.6 349.0,118.7 349.7,120.0 350.3,122.6 351.0,125.2 351.6,125.8 352.3,124.5 352.9,123.9 353.6,124.5 354.2,125.8 354.9,126.5 355.5,125.8 356.2,127.1 356.8,127.8 357.5,128.5 358.1,129.8 358.8,131.7 359.5,133.0 360.1,134.3 360.8,135.0 361.4,135.6 362.1,135.0 362.7,134.3 363.4,135.0 364.0,135.6 364.7,135.0 365.3,134.3 366.0,133.0 366.6,131.7 367.3,129.8 367.9,129.1 368.6,130.4 369.2,133.0 369.9,135.0 370.5,133.0 371.2,130.4 371.8,129.1 372.5,128.5 373.1,129.1 373.8,131.7 374.4,135.0 375.1,139.5 375.7,142.1 376.4,140.8 377.0,138.2 377.7,135.0 378.4,131.7 379.0,134.3 379.7,138.2 380.3,140.2 381.0,139.5 381.6,138.9 382.3,138.2 382.9,140.2 383.6,142.1 384.2,143.4 385.0,144.1 385.6,144.1 386.3,142.2 386.9,139.6 387.6,137.6 388.2,136.9 388.9,137.6 389.5,138.9 390.2,141.5 390.8,144.1 391.5,146.7 392.1,145.4 392.8,144.8 393.4,147.4 394.1,151.3 394.7,155.2 395.4,156.5 396.0,153.9 396.7,149.3 397.3,144.1 398.0,141.5 398.6,142.2 399.3,140.9 399.9,140.6 400.6,143.5 401.2,149.3 401.9,154.2 402.6,152.6 403.2,148.7 403.9,145.8 404.5,144.5 405.2,143.9 405.8,144.5 406.5,144.8 407.1,144.1 407.8,143.2 408.4,143.5 409.1,144.8 409.7,142.4 410.4,141.1 411.0,142.4 411.7,145.4 412.3,147.4 413.0,148.0 413.6,148.7 414.3,149.7 414.9,151.3 415.6,152.6 416.2,154.2 416.9,156.5 417.5,157.8 418.2,157.1 418.8,154.9 419.5,154.2 420.1,154.9 420.8,161.7 421.5,163.0 422.1,160.4 422.8,157.1 423.4,154.9 424.1,152.6 424.7,151.3 425.4,152.6 426.0,157.1 426.7,158.5 427.3,156.5 428.0,154.2 428.6,152.6 429.3,151.3 429.9,150.6 430.6,151.9 431.2,154.2 431.9,154.9 432.5,154.7 433.8,155.2 435.1,154.5 436.4,154.5 437.7,153.9 439.0,153.2 440.4,154.5 441.7,155.8 443.0,157.1 444.3,157.8 445.0,155.2" fill="none" stroke="#2a8a48" stroke-width="1.30" stroke-linejoin="round"/>
<polyline points="259.0,57.0 259.7,57.8 260.3,59.5 261.0,60.3 261.6,61.0 262.3,62.4 262.9,63.3 263.6,64.9 264.2,67.7 264.9,69.8 265.5,71.7 266.2,73.2 266.8,74.3 267.5,75.7 268.1,74.9 268.8,75.5 269.4,77.1 270.1,76.6 270.7,77.0 271.4,76.3 272.0,76.5 272.7,77.0 273.3,80.1 274.0,80.9 274.6,80.4 275.3,79.2 275.9,78.3 276.6,79.4 277.2,80.7 277.9,82.4 278.6,83.3 279.2,84.8 279.9,82.7 280.5,81.5 281.2,82.0 281.8,84.4 282.5,89.0 283.1,91.6 283.8,94.1 284.4,94.6 285.1,92.9 285.7,92.2 286.4,93.5 287.0,95.3 287.7,97.3 288.3,98.9 289.0,101.9 289.6,103.4 290.3,104.6 290.9,102.6 291.6,99.1 292.2,98.0 292.9,99.4 293.5,100.2 294.2,102.0 294.8,102.8 295.5,104.4 296.1,106.3 296.8,107.7 297.5,106.6 298.1,105.1 298.8,104.0 299.4,105.3 300.1,106.4 300.7,107.1 301.4,107.8 302.0,108.3 302.7,109.6 303.3,111.6 304.0,112.3 304.6,114.0 305.3,113.2 305.9,110.4 306.6,108.3 307.2,106.4 307.9,107.6 308.5,109.0 309.2,110.6 309.8,111.7 310.5,114.4 311.1,119.0 311.8,116.2 312.4,113.1 313.1,111.7 313.7,109.8 314.4,110.6 315.0,113.0 315.7,114.7 316.4,112.9 317.0,112.5 317.7,114.3 318.3,117.0 319.0,118.8 319.6,117.0 320.3,117.7 320.9,119.4 321.6,120.7 322.2,122.5 323.0,124.8 323.6,124.8 324.3,123.3 324.9,120.7 325.6,119.3 326.2,118.2 326.9,118.9 327.5,117.9 328.2,116.6 328.8,117.8 329.5,120.5 330.1,122.4 330.8,123.1 331.4,122.4 332.1,121.7 332.7,122.5 333.4,124.4 334.0,129.1 334.7,134.2 335.3,132.6 336.0,128.5 336.6,126.9 337.3,128.1 337.9,131.7 338.6,134.2 339.2,132.7 339.9,129.7 340.6,128.9 341.2,130.0 341.9,131.0 342.5,134.1 343.2,132.7 343.8,128.2 344.5,127.0 345.1,126.7 345.8,128.3 346.4,130.0 347.1,128.4 347.7,127.1 348.4,125.7 349.0,126.8 349.7,129.0 350.3,132.5 351.0,134.0 351.6,135.4 352.3,132.4 352.9,129.3 353.6,126.9 354.2,125.9 354.9,125.7 355.5,127.1 356.2,128.1 356.8,130.1 357.5,132.6 358.1,134.8 358.8,137.3 359.5,138.5 360.1,138.1 360.8,136.6 361.4,137.5 362.1,139.2 362.7,143.1 363.4,144.2 364.0,143.2 364.7,140.8 365.3,140.2 366.0,138.6 366.6,137.8 367.3,137.3 367.9,138.1 368.6,139.3 369.2,140.5 369.9,140.0 370.5,138.8 371.2,137.6 371.8,139.2 372.5,141.4 373.1,142.0 373.8,140.3 374.4,138.7 375.1,136.8 375.7,137.1 376.4,139.2 377.0,140.9 377.7,142.4 378.4,143.0 379.0,141.2 379.7,139.8 380.3,138.9 381.0,139.4 381.6,141.2 382.3,142.8 382.9,144.5 383.6,143.7 384.2,142.9 385.0,144.6 385.6,143.8 386.3,142.6 386.9,139.2 387.6,137.8 388.2,137.1 388.9,137.5 389.5,139.2 390.2,141.7 390.8,144.4 391.5,147.3 392.1,145.3 392.8,144.4 393.4,147.3 394.1,152.3 394.7,157.0 395.4,158.3 396.0,155.1 396.7,149.6 397.3,144.2 398.0,142.1 398.6,142.1 399.3,141.2 399.9,140.1 400.6,142.9 401.2,148.5 401.9,153.8 402.6,153.1 403.2,148.7 403.9,145.7 404.5,144.1 405.2,143.2 405.8,144.3 406.5,145.3 407.1,144.6 407.8,143.2 408.4,144.1 409.1,144.7 409.7,142.0 410.4,141.0 411.0,142.1 411.7,145.3 412.3,147.4 413.0,148.3 413.6,148.8 414.3,149.9 414.9,152.4 415.6,153.9 416.2,154.6 416.9,156.9 417.5,158.1 418.2,157.7 418.8,154.2 419.5,154.2 420.1,154.8 420.8,158.4 421.5,162.2 422.1,160.1 422.8,156.9 423.4,154.6 424.1,151.6 424.7,150.5 425.4,150.5 426.0,153.0 426.7,155.5 427.3,157.4 428.0,155.3 428.6,152.2 429.3,150.3 429.9,149.1 430.6,150.6 431.2,152.3 431.9,154.4 432.5,158.6 433.2,162.2 433.8,164.0 434.5,162.5 435.1,160.1 435.8,158.3 436.4,157.1 437.1,156.5 437.7,156.2 438.4,154.1 439.0,152.9 439.7,153.6 440.4,155.2 441.0,157.6 441.7,159.0 442.3,159.5 443.0,161.0 443.6,159.5 444.3,155.6 445.0,153.3" fill="none" stroke="#45a858" stroke-width="1.30" stroke-linejoin="round"/>
<polyline points="259.0,57.7 259.7,58.5 260.3,59.8 261.0,60.6 261.6,61.1 262.3,62.8 262.9,64.0 263.6,65.8 264.2,68.3 264.9,70.2 265.5,72.7 266.2,74.2 266.8,74.9 267.5,75.9 268.1,75.0 268.8,77.0 269.4,76.8 270.1,77.1 270.7,77.0 271.4,76.9 272.0,77.2 272.7,78.0 273.3,81.0 274.0,81.5 274.6,80.9 275.3,80.4 275.9,79.4 276.6,79.6 277.2,81.8 277.9,83.1 278.6,83.5 279.2,85.1 279.9,82.9 280.5,81.8 281.2,82.7 281.8,84.9 282.5,89.3 283.1,91.3 283.8,94.0 284.4,95.3 285.1,93.6 285.7,93.0 286.4,94.4 287.0,96.3 287.7,97.5 288.3,99.1 289.0,102.4 289.6,104.6 290.3,105.3 290.9,103.0 291.6,100.1 292.2,98.8 292.9,99.8 293.5,101.0 294.2,101.8 294.8,103.2 295.5,105.3 296.1,106.7 296.8,108.3 297.5,107.4 298.1,105.6 298.8,105.1 299.4,105.4 300.1,106.7 300.7,107.8 301.4,108.6 302.0,109.2 302.7,110.9 303.3,111.5 304.0,113.3 304.6,114.2 305.3,114.1 305.9,110.8 306.6,108.5 307.2,107.2 307.9,108.2 308.5,109.5 309.2,111.3 309.8,112.3 310.5,115.0 311.1,119.1 311.8,117.0 312.4,113.9 313.1,112.4 313.7,110.3 314.4,111.7 315.0,113.1 315.7,114.9 316.4,114.1 317.0,113.0 317.7,114.7 318.3,117.6 319.0,119.4 319.6,117.7 320.3,118.2 320.9,119.9 321.6,121.3 322.2,123.1 323.0,126.1 323.6,125.8 324.3,124.0 324.9,120.9 325.6,119.2 326.2,119.1 326.9,119.8 327.5,118.3 328.2,117.2 328.8,118.8 329.5,120.7 330.1,122.8 330.8,123.8 331.4,123.8 332.1,122.4 332.7,122.3 333.4,125.1 334.0,129.6 334.7,134.2 335.3,133.6 336.0,129.2 336.6,128.1 337.3,129.4 337.9,131.5 338.6,134.9 339.2,132.9 339.9,130.7 340.6,129.4 341.2,130.1 341.9,132.2 342.5,135.0 343.2,132.9 343.8,129.1 344.5,128.4 345.1,127.3 345.8,128.7 346.4,130.9 347.1,129.7 347.7,127.5 348.4,126.5 349.0,128.0 349.7,130.3 350.3,133.4 351.0,135.1 351.6,136.2 352.3,133.0 352.9,130.1 353.6,128.0 354.2,126.1 354.9,126.2 355.5,127.7 356.2,128.8 356.8,130.9 357.5,133.5 358.1,135.8 358.8,138.6 359.5,139.5 360.1,137.9 360.8,136.9 361.4,137.5 362.1,140.7 362.7,143.7 363.4,144.9 364.0,143.7 364.7,141.2 365.3,140.3 366.0,139.8 366.6,138.2 367.3,137.4 367.9,138.2 368.6,139.5 369.2,141.1 369.9,139.9 370.5,138.6 371.2,138.1 371.8,139.8 372.5,141.8 373.1,142.4 373.8,141.4 374.4,138.8 375.1,136.6 375.7,137.7 376.4,139.6 377.0,141.3 377.7,143.1 378.4,143.4 379.0,142.0 379.7,140.1 380.3,139.4 381.0,139.1 381.6,141.4 382.3,143.3 382.9,144.5 383.6,144.1 384.2,143.3 385.0,145.3 385.6,144.9 386.3,143.1 386.9,140.0 387.6,138.3 388.2,137.8 388.9,138.7 389.5,139.4 390.2,142.2 390.8,145.2 391.5,147.8 392.1,145.9 392.8,145.6 393.4,148.4 394.1,152.6 394.7,158.1 395.4,159.4 396.0,155.8 396.7,150.1 397.3,145.0 398.0,142.1 398.6,143.1 399.3,141.4 399.9,141.0 400.6,143.4 401.2,148.6 401.9,153.6 402.6,153.1 403.2,149.5 403.9,145.9 404.5,144.4 405.2,144.5 405.8,144.7 406.5,146.0 407.1,145.0 407.8,143.5 408.4,144.6 409.1,145.9 409.7,142.7 410.4,141.2 411.0,143.1 411.7,146.5 412.3,148.2 413.0,149.1 413.6,149.3 414.3,150.8 414.9,152.4 415.6,153.9 416.2,155.2 416.9,157.8 417.5,159.1 418.2,158.2 418.8,155.0 419.5,154.3 420.1,155.0 420.8,159.7 421.5,162.5 422.1,160.7 422.8,158.2 423.4,155.7 424.1,153.0 424.7,150.6 425.4,151.6 426.0,153.8 426.7,156.2 427.3,158.3 428.0,156.3 428.6,152.4 429.3,151.1 429.9,149.0 430.6,150.5 431.2,152.2 431.9,155.0 432.5,158.9 433.2,163.3 433.8,164.9 434.5,162.8 435.1,160.2 435.8,159.0 436.4,158.3 437.1,157.4 437.7,156.2 438.4,154.8 439.0,153.4 439.7,153.9 440.4,156.0 441.0,158.1 441.7,159.5 442.3,160.5 443.0,161.3 443.6,159.8 444.3,156.7 445.0,153.9" fill="none" stroke="#78c47a" stroke-width="1.30" stroke-linejoin="round"/>
<polyline points="259.0,58.0 259.7,59.0 260.3,60.3 261.0,61.8 261.6,61.8 262.3,63.1 262.9,64.4 263.6,65.7 264.2,68.9 264.9,70.2 265.5,73.2 266.2,74.2 266.8,75.6 267.5,76.4 268.1,76.1 268.8,77.2 269.4,77.3 270.1,77.0 270.7,77.6 271.4,77.6 272.0,78.2 272.7,78.9 273.3,81.5 274.0,82.7 274.6,82.3 275.3,80.8 275.9,79.6 276.6,80.9 277.2,81.8 277.9,83.4 278.6,84.5 279.2,85.7 279.9,83.6 280.5,82.4 281.2,82.9 281.8,85.3 282.5,90.0 283.1,92.5 283.8,95.3 284.4,95.7 285.1,94.3 285.7,93.8 286.4,94.5 287.0,97.0 287.7,98.1 288.3,99.7 289.0,102.4 289.6,104.6 290.3,105.0 290.9,103.3 291.6,100.8 292.2,99.3 292.9,99.7 293.5,101.4 294.2,102.4 294.8,103.7 295.5,105.6 296.1,107.1 296.8,108.1 297.5,108.0 298.1,107.0 298.8,105.2 299.4,106.1 300.1,107.7 300.7,108.1 301.4,108.8 302.0,110.1 302.7,111.5 303.3,112.6 304.0,113.4 304.6,115.0 305.3,114.8 305.9,112.2 306.6,109.5 307.2,107.6 307.9,108.9 308.5,110.4 309.2,112.0 309.8,112.7 310.5,116.2 311.1,119.7 311.8,117.2 312.4,114.1 313.1,112.6 313.7,111.2 314.4,111.9 315.0,113.6 315.7,115.9 316.4,114.2 317.0,112.9 317.7,115.4 318.3,118.5 319.0,119.2 319.6,118.0 320.3,118.5 320.9,121.1 321.6,122.3 322.2,123.6 323.0,125.7 323.6,125.7 324.3,124.3 324.9,121.5 325.6,119.4 326.2,119.8 326.9,119.5 327.5,118.4 328.2,117.7 328.8,119.4 329.5,120.8 330.1,123.2 330.8,124.4 331.4,124.2 332.1,122.0 332.7,123.0 333.4,125.8 334.0,130.2 334.7,134.9 335.3,133.6 336.0,129.9 336.6,128.2 337.3,129.2 337.9,132.3 338.6,136.0 339.2,133.9 339.9,130.8 340.6,129.9 341.2,131.4 341.9,132.1 342.5,135.7 343.2,133.5 343.8,129.4 344.5,128.2 345.1,127.5 345.8,128.9 346.4,130.5 347.1,129.6 347.7,127.3 348.4,127.4 349.0,128.5 349.7,129.9 350.3,133.9 351.0,135.3 351.6,136.9 352.3,133.7 352.9,130.2 353.6,128.2 354.2,127.0 354.9,126.1 355.5,128.1 356.2,128.7 356.8,131.3 357.5,133.3 358.1,136.0 358.8,138.7 359.5,139.7 360.1,138.5 360.8,137.4 361.4,138.1 362.1,141.2 362.7,144.5 363.4,144.9 364.0,144.1 364.7,141.7 365.3,141.1 366.0,140.0 366.6,139.2 367.3,138.2 367.9,138.5 368.6,139.6 369.2,141.2 369.9,141.2 370.5,139.1 371.2,138.8 371.8,140.0 372.5,141.9 373.1,143.0 373.8,141.1 374.4,139.7 375.1,137.7 375.7,138.6 376.4,140.2 377.0,142.5 377.7,143.3 378.4,144.1 379.0,142.9 379.7,141.1 380.3,139.9 381.0,139.7 381.6,141.7 382.3,144.1 382.9,145.7 383.6,144.7 384.2,143.8 385.0,145.8 385.6,145.2 386.3,143.0 386.9,140.4 387.6,138.4 388.2,138.4 388.9,138.5 389.5,140.4 390.2,143.1 390.8,145.9 391.5,148.3 392.1,146.6 392.8,146.1 393.4,149.0 394.1,153.4 394.7,158.2 395.4,160.0 396.0,155.4 396.7,150.4 397.3,145.9 398.0,142.7 398.6,143.2 399.3,142.4 399.9,141.4 400.6,143.6 401.2,148.8 401.9,154.2 402.6,153.7 403.2,150.4 403.9,146.4 404.5,145.7 405.2,145.1 405.8,145.3 406.5,146.5 407.1,145.6 407.8,144.0 408.4,144.5 409.1,146.0 409.7,143.8 410.4,142.1 411.0,143.1 411.7,146.5 412.3,148.6 413.0,149.0 413.6,150.0 414.3,150.8 414.9,153.5 415.6,154.2 416.2,155.4 416.9,158.5 417.5,159.5 418.2,158.8 418.8,155.8 419.5,155.2 420.1,156.1 420.8,159.4 421.5,163.2 422.1,161.8 422.8,158.3 423.4,156.3 424.1,152.7 424.7,151.6 425.4,151.5 426.0,154.8 426.7,156.8 427.3,158.0 428.0,156.4 428.6,153.6 429.3,151.0 429.9,149.9 430.6,151.3 431.2,152.9 431.9,155.8 432.5,159.2 433.2,163.6 433.8,165.5 434.5,163.5 435.1,160.7 435.8,159.3 436.4,158.6 437.1,157.7 437.7,157.5 438.4,155.4 439.0,153.4 439.7,154.9 440.4,156.9 441.0,158.7 441.7,160.0 442.3,161.2 443.0,161.9 443.6,160.5 444.3,157.2 445.0,154.2" fill="none" stroke="#a5d99e" stroke-width="1.30" stroke-linejoin="round"/>
<polyline points="259.0,28.5 259.7,29.8 260.3,33.0 261.0,37.6 261.6,40.2 262.3,38.9 262.9,35.6 263.6,33.0 264.2,32.4 264.9,33.7 265.5,35.6 266.2,38.9 266.8,42.1 267.5,42.8 268.1,39.5 268.8,36.3 269.4,33.7 270.1,33.0 270.7,34.3 271.4,35.0 272.0,34.3 272.7,33.7 273.3,35.6 274.0,38.9 274.6,41.5 275.3,40.8 275.9,38.2 276.6,36.9 277.2,37.6 277.9,40.2 278.6,43.5 279.2,45.4 279.9,44.1 280.5,42.1 281.2,41.5 281.8,42.8 282.5,44.1 283.1,43.5 283.8,42.1 284.4,44.1 285.1,48.0 285.7,51.3 286.4,48.0 287.0,44.1 287.7,42.8 288.3,44.8 289.0,48.0 289.6,50.6 290.3,48.0 290.9,46.7 291.6,48.7 292.2,50.6 292.9,53.2 293.5,53.9 294.2,56.5 294.8,54.5 295.5,52.6 296.1,51.9 296.8,53.9 297.5,56.5 298.1,54.5 298.8,51.9 299.4,51.3 300.1,52.6 300.7,56.5 301.4,58.4 302.0,59.7 303.3,58.4 304.6,57.1 305.9,56.5 306.6,56.5 307.2,55.8 307.9,54.5 308.5,53.9 309.2,54.5 309.8,56.5 310.5,58.4 311.1,60.4 311.8,61.5 312.4,64.1 313.1,66.1 313.7,69.3 314.4,71.9 315.0,71.9 315.7,68.7 316.4,66.1 317.0,64.1 317.7,65.4 318.3,69.3 319.0,72.6 319.6,71.3 320.3,66.1 320.9,62.8 321.0,64.8 321.4,71.3 322.0,71.9 322.6,72.6 323.3,73.2 323.9,74.5 324.6,75.2 325.3,73.2 326.0,68.7 326.6,66.1 327.3,67.4 327.9,71.3 328.6,73.2 329.2,71.9 329.9,72.6 330.5,74.5 331.2,75.8 331.8,75.2 332.5,74.5 333.1,76.5 333.8,81.7 334.4,83.7 335.1,80.4 335.7,76.5 336.4,75.2 337.0,75.8 337.7,77.1 338.3,77.8 339.0,78.5 339.6,79.8 340.3,81.7 340.9,85.6 341.6,88.2 342.2,90.2 342.9,90.8 343.5,90.2 344.2,88.9 344.9,84.3 345.5,79.8 346.2,77.8 346.8,79.1 347.5,81.7 348.1,84.3 348.8,86.3 349.4,88.2 350.1,90.2 350.7,91.5 351.4,92.1 352.0,90.8 352.7,89.5 353.3,88.2 354.2,86.9 355.2,86.3 356.2,86.3 357.2,86.9 358.1,88.2 359.1,90.2 359.8,92.8 360.5,94.7 361.4,94.7 362.4,92.1 363.4,89.5 364.0,86.9 364.7,85.0 365.3,84.3 366.0,85.6 366.6,87.6 367.3,89.5 367.9,91.5 368.6,93.4 369.5,95.4 370.5,96.3 371.6,95.8 372.5,94.7 373.1,91.5 373.8,90.2 374.4,90.8 375.1,90.2 375.7,89.5 376.4,90.2 377.0,91.5 377.7,92.8 378.4,94.1 379.0,94.7 379.7,93.4 380.3,92.1 381.0,93.4 381.6,94.7 382.9,94.1 383.0,98.5 383.7,99.1 384.3,97.8 385.0,96.5 385.6,95.2 386.3,94.5 386.9,93.9 387.6,94.5 388.2,95.2 388.9,96.5 389.5,97.1 390.2,97.8 390.8,97.1 391.5,97.8 392.1,98.5 392.8,97.8 393.4,98.5 394.1,99.8 394.7,101.7 395.4,101.1 396.0,99.1 396.7,97.8 397.3,97.1 398.0,96.5 398.6,97.1 399.3,97.8 399.9,99.1 400.6,100.4 401.2,101.7 401.9,103.0 402.6,104.3 403.2,105.6 403.9,106.9 404.5,108.2 405.2,108.9 405.8,109.4 406.5,109.8 407.1,109.1 407.8,107.8 408.4,106.5 409.1,105.2 409.7,104.6 410.4,105.9 411.0,107.8 411.7,110.4 412.3,111.7 413.0,111.1 413.6,112.4 414.3,114.3 414.9,115.0 415.6,113.0 416.2,111.1 416.9,110.4 417.5,111.1 418.2,111.7 418.8,112.4 419.5,113.0 420.1,113.7 420.8,114.3 421.5,115.0 422.1,116.3 422.8,117.6 423.4,118.9 424.1,120.9 424.7,121.5 425.4,119.6 426.0,115.6 426.7,114.3 427.3,115.0 428.0,115.0 428.6,115.6 429.3,116.3 429.9,118.2 430.6,120.2 431.2,121.5 431.9,122.8 432.5,124.1 433.2,126.1 433.8,128.7 434.5,131.3 435.1,131.9 435.8,128.7 436.4,122.8 437.1,117.6 437.7,116.3 438.4,116.9 439.0,116.3 439.7,117.6 440.4,119.6 441.0,121.5 441.7,124.1 442.3,127.4 443.0,130.6 443.6,131.3 444.3,128.0 445.0,125.4" fill="none" stroke="#e0262a" stroke-width="1.35" stroke-linejoin="round"/>
<polyline points="259.0,31.1 259.7,33.0 260.3,35.0 261.0,32.4 261.6,27.2 262.3,23.2 262.9,21.3 263.6,20.6 264.2,21.9 264.9,25.9 265.5,29.8 266.2,31.1 266.8,33.7 267.5,36.3 268.1,32.4 268.8,29.8 269.4,29.1 270.1,29.8 270.7,30.4 271.4,32.4 272.0,34.3 272.7,33.0 273.3,31.1 274.0,29.1 274.6,27.2 275.7,25.2 276.6,23.2 277.5,22.6 278.3,23.9 278.8,27.8 279.6,33.0 280.2,37.6 280.9,40.8 281.4,42.8 282.1,40.8 282.7,35.0 283.4,27.2 284.0,21.3 284.7,20.0 285.3,21.9 286.0,24.6 286.6,27.2 287.3,29.1 287.9,31.7 288.6,35.6 289.2,38.2 289.9,35.6 290.5,31.7 291.2,29.8 291.8,29.1 292.6,28.5 293.5,28.5 294.2,29.8 294.8,31.7 295.5,34.3 296.1,37.6 296.8,39.5 297.5,40.2 298.1,38.2 298.8,38.9 299.4,40.2 300.1,40.8 300.7,38.9 301.4,38.2 302.0,36.9 302.7,35.0 303.3,34.3 304.0,35.0 304.6,35.6 305.3,37.6 305.9,40.2 306.6,42.8 307.2,44.1 307.9,43.5 308.5,42.8 309.2,44.1 309.8,45.4 310.5,46.7 311.1,46.1 311.8,43.5 312.4,42.1 313.1,43.5 313.7,44.8 314.4,45.4 315.0,44.1 315.7,45.4 316.4,46.7 317.0,47.4 317.7,46.1 318.3,47.4 319.0,50.0 319.6,54.5 320.3,55.8 320.9,51.9 321.0,47.8 321.7,48.5 322.3,47.8 323.0,49.1 323.6,51.7 324.3,54.3 324.9,56.9 325.6,60.9 326.2,58.2 326.9,54.3 327.5,53.0 328.2,54.3 328.8,56.9 329.5,59.6 330.1,62.2 330.8,64.1 331.4,65.4 332.1,67.4 332.7,71.3 333.4,77.8 334.0,81.7 334.7,75.2 335.3,66.1 336.0,61.5 336.6,60.2 337.3,62.8 337.9,66.1 338.6,68.7 339.2,68.0 339.9,63.5 340.6,59.6 341.2,56.9 341.9,56.3 342.5,58.2 343.2,60.2 343.8,59.6 344.5,58.9 345.1,58.2 345.8,60.2 346.4,63.5 347.1,68.7 347.7,75.2 348.4,76.5 349.0,73.9 349.7,75.2 350.3,77.8 351.0,79.8 351.6,76.5 352.3,71.3 352.9,69.3 353.6,68.7 354.2,70.6 354.9,72.6 355.5,73.9 356.2,71.3 356.8,69.3 357.5,68.7 358.1,71.3 358.8,75.2 359.5,79.1 360.1,84.3 360.8,80.4 361.4,76.5 362.1,73.9 362.7,72.6 363.4,74.5 364.0,79.1 364.7,81.7 365.3,80.4 366.0,78.5 366.6,77.8 367.3,78.5 367.9,77.8 368.6,79.1 369.2,83.0 369.9,88.2 370.5,85.6 371.2,81.7 371.8,79.1 372.5,76.5 373.1,75.2 373.8,76.5 374.4,79.1 375.1,81.7 375.7,83.0 376.4,83.7 377.0,84.3 377.7,85.6 378.4,86.3 379.0,85.0 379.7,83.7 380.3,82.4 381.0,81.1 381.6,81.7 382.3,83.0 382.9,84.3 383.0,82.8 383.7,84.1 384.3,86.1 385.0,88.0 385.6,89.3 386.3,88.7 386.9,87.4 387.6,86.1 388.2,85.4 388.9,86.1 389.5,87.4 390.2,88.0 390.8,86.7 391.5,85.4 392.1,84.1 392.8,82.8 393.4,81.5 394.1,80.2 394.7,80.9 395.4,82.2 396.0,83.5 396.7,84.8 397.3,87.4 398.0,90.6 398.6,94.5 399.3,97.1 399.9,97.8 400.6,97.1 401.2,95.8 401.9,92.6 402.6,88.0 403.2,85.4 403.9,84.8 404.5,86.1 405.2,88.0 405.8,90.6 406.5,92.6 407.1,93.9 407.8,95.2 408.4,94.5 409.1,93.2 409.7,94.5 410.4,95.2 411.0,93.2 411.7,91.3 412.3,89.3 413.0,88.0 413.6,87.4 414.3,88.7 414.9,91.9 415.6,95.2 416.2,97.8 416.9,99.1 417.5,100.4 418.2,101.1 418.8,100.4 419.5,97.8 420.1,93.2 420.8,90.0 421.5,88.7 422.1,88.0 422.8,86.7 423.4,86.1 424.1,86.7 424.7,88.7 425.4,92.6 426.0,96.5 426.7,100.4 427.3,104.3 428.0,107.6 428.6,108.2 429.3,105.6 429.9,101.1 430.6,97.1 431.2,93.2 431.9,90.6 432.5,90.6 433.2,92.6 433.8,95.2 434.5,97.8 435.1,100.4 435.8,103.0 436.4,106.9 437.1,109.5 437.7,110.2 438.4,109.5 439.0,108.9 439.7,105.6 440.4,100.4 441.0,97.1 441.7,95.8 442.3,97.1 443.0,98.5 443.6,99.1 444.3,100.4 445.0,101.7" fill="none" stroke="#3a7fc0" stroke-width="1.35" stroke-linejoin="round"/>
<path d="M259.30 166.40v-2.20M259.30 5.30v2.20M265.93 166.40v-1.30M265.93 5.30v1.30M272.56 166.40v-1.30M272.56 5.30v1.30M279.19 166.40v-1.30M279.19 5.30v1.30M285.81 166.40v-1.30M285.81 5.30v1.30M292.44 166.40v-1.30M292.44 5.30v1.30M299.07 166.40v-1.30M299.07 5.30v1.30M305.70 166.40v-1.30M305.70 5.30v1.30M312.33 166.40v-2.20M312.33 5.30v2.20M325.59 166.40v-1.30M325.59 5.30v1.30M338.84 166.40v-1.30M338.84 5.30v1.30M352.10 166.40v-1.30M352.10 5.30v1.30M365.36 166.40v-1.30M365.36 5.30v1.30M378.61 166.40v-2.20M378.61 5.30v2.20M391.87 166.40v-1.30M391.87 5.30v1.30M405.13 166.40v-1.30M405.13 5.30v1.30M418.39 166.40v-1.30M418.39 5.30v1.30M431.64 166.40v-1.30M431.64 5.30v1.30M444.90 166.40v-2.20M444.90 5.30v2.20M259.30 166.40h2.20M444.90 166.40h-2.20M259.30 146.26h2.20M444.90 146.26h-2.20M259.30 126.12h2.20M444.90 126.12h-2.20M259.30 105.99h2.20M444.90 105.99h-2.20M259.30 85.85h2.20M444.90 85.85h-2.20M259.30 65.71h2.20M444.90 65.71h-2.20M259.30 45.58h2.20M444.90 45.58h-2.20M259.30 25.44h2.20M444.90 25.44h-2.20M259.30 5.30h2.20M444.90 5.30h-2.20" stroke="#555" stroke-width="0.6" fill="none"/>
<path d="M258.80 5.30H445.40M258.80 166.40H445.40" stroke="#6e6e6e" stroke-width="0.9" fill="none"/>
<path d="M259.30 5.30V166.40M444.90 5.30V166.40" stroke="#8c8c8c" stroke-width="0.9" fill="none"/>
<g font-size="8" fill="#3a3a3a"><text x="259.55" y="176.40" text-anchor="middle" letter-spacing="0.5">0.1</text><text x="312.58" y="176.40" text-anchor="middle" letter-spacing="0.5">0.5</text><text x="378.86" y="176.40" text-anchor="middle" letter-spacing="0.5">1.0</text><text x="445.15" y="176.40" text-anchor="middle" letter-spacing="0.5">1.5</text><text x="257.30" y="168.70" text-anchor="end" letter-spacing="0.6">-20</text><text x="257.30" y="148.56" text-anchor="end" letter-spacing="0.6">-10</text><text x="257.30" y="128.43" text-anchor="end" letter-spacing="0.6">0</text><text x="257.30" y="108.29" text-anchor="end" letter-spacing="0.6">10</text><text x="257.30" y="88.15" text-anchor="end" letter-spacing="0.6">20</text><text x="257.30" y="68.01" text-anchor="end" letter-spacing="0.6">30</text><text x="257.30" y="47.88" text-anchor="end" letter-spacing="0.6">40</text><text x="257.30" y="27.74" text-anchor="end" letter-spacing="0.6">50</text><text x="257.30" y="7.60" text-anchor="end" letter-spacing="0.6">60</text></g>
<text x="352.10" y="186.80" text-anchor="middle" font-size="9" fill="#3a3a3a">Frequency in kHz</text>
<text transform="translate(241.00 85.85) rotate(-90)" text-anchor="middle" font-size="9.3" fill="#3a3a3a">PSD of pressure level in dB(A)/Hz</text>
<rect x="414.80" y="9.10" width="27.00" height="65.40" fill="#fff" stroke="#555" stroke-width="0.6"/>
<line x1="415.60" y1="13.80" x2="428.20" y2="13.80" stroke="#4f9473" stroke-width="2.00"/>
<text x="429.80" y="16.60" font-size="8.2" fill="#3a3a3a"><tspan font-style="italic">C</tspan><tspan font-size="5.4" dy="1.5">01</tspan></text>
<line x1="415.60" y1="23.15" x2="428.20" y2="23.15" stroke="#2f8c4e" stroke-width="1.20"/>
<text x="429.80" y="25.95" font-size="8.2" fill="#3a3a3a"><tspan font-style="italic">C</tspan><tspan font-size="5.4" dy="1.5">02</tspan></text>
<line x1="415.60" y1="32.50" x2="428.20" y2="32.50" stroke="#3f9f55" stroke-width="1.20"/>
<text x="429.80" y="35.30" font-size="8.2" fill="#3a3a3a"><tspan font-style="italic">C</tspan><tspan font-size="5.4" dy="1.5">03</tspan></text>
<line x1="415.60" y1="41.85" x2="428.20" y2="41.85" stroke="#7cc57c" stroke-width="1.40"/>
<text x="429.80" y="44.65" font-size="8.2" fill="#3a3a3a"><tspan font-style="italic">C</tspan><tspan font-size="5.4" dy="1.5">04</tspan></text>
<line x1="415.60" y1="51.20" x2="428.20" y2="51.20" stroke="#a8d9a0" stroke-width="1.40"/>
<text x="429.80" y="54.00" font-size="8.2" fill="#3a3a3a"><tspan font-style="italic">C</tspan><tspan font-size="5.4" dy="1.5">05</tspan></text>
<line x1="415.60" y1="60.55" x2="428.20" y2="60.55" stroke="#e02a2a" stroke-width="1.20"/>
<text x="429.80" y="63.35" font-size="8.2" fill="#3a3a3a"><tspan font-style="italic">P</tspan><tspan font-size="5.4" dy="1.5" font-style="italic">L</tspan></text>
<line x1="415.60" y1="69.90" x2="428.20" y2="69.90" stroke="#5a98cc" stroke-width="1.40"/>
<text x="429.80" y="72.70" font-size="8.2" fill="#3a3a3a"><tspan font-style="italic">P</tspan><tspan font-size="5.4" dy="1.5" font-style="italic">U</tspan></text>
<line x1="544.43" y1="5.30" x2="544.43" y2="166.40" stroke="#e6e6e6" stroke-width="0.6"/>
<line x1="610.71" y1="5.30" x2="610.71" y2="166.40" stroke="#e6e6e6" stroke-width="0.6"/>
<line x1="491.40" y1="146.26" x2="677.00" y2="146.26" stroke="#e6e6e6" stroke-width="0.6"/>
<line x1="491.40" y1="126.12" x2="677.00" y2="126.12" stroke="#e6e6e6" stroke-width="0.6"/>
<line x1="491.40" y1="105.99" x2="677.00" y2="105.99" stroke="#e6e6e6" stroke-width="0.6"/>
<line x1="491.40" y1="85.85" x2="677.00" y2="85.85" stroke="#e6e6e6" stroke-width="0.6"/>
<line x1="491.40" y1="65.71" x2="677.00" y2="65.71" stroke="#e6e6e6" stroke-width="0.6"/>
<line x1="491.40" y1="45.58" x2="677.00" y2="45.58" stroke="#e6e6e6" stroke-width="0.6"/>
<line x1="491.40" y1="25.44" x2="677.00" y2="25.44" stroke="#e6e6e6" stroke-width="0.6"/>
<polyline points="491.9,58.9 492.5,61.5 492.9,62.8 493.6,64.8 494.2,66.1 494.9,67.4 495.5,66.7 496.2,66.1 496.8,65.4 497.5,64.1 498.1,62.2 498.8,61.5 499.4,62.8 500.1,65.4 500.7,68.0 501.4,70.6 502.0,72.6 502.7,71.9 503.3,71.3 504.0,71.9 504.6,72.6 505.0,71.3 505.7,72.0 506.3,72.6 507.0,72.0 507.6,71.3 508.3,72.0 508.9,73.9 509.6,76.5 510.2,78.5 510.9,79.8 511.5,77.8 512.2,75.9 512.8,77.2 513.5,79.1 514.1,81.1 514.8,82.4 515.4,83.0 516.1,82.4 516.7,81.7 517.4,82.4 518.0,83.7 518.7,85.0 519.3,86.3 520.0,88.2 520.6,90.9 521.3,92.8 521.9,94.8 522.6,96.1 523.2,96.7 523.9,95.4 524.6,94.1 525.2,93.5 525.9,94.1 526.5,94.8 527.2,94.1 527.8,93.5 528.5,94.1 529.1,94.8 529.8,95.4 530.4,94.8 531.1,94.1 531.7,94.8 532.4,96.1 533.0,96.7 533.7,96.1 534.3,96.7 535.0,98.0 535.6,99.3 536.3,101.3 536.9,103.2 537.6,104.5 538.2,105.8 538.9,107.1 539.5,107.8 540.2,108.5 540.8,109.1 541.5,109.8 542.1,110.4 542.8,111.1 543.5,110.4 544.1,109.8 544.8,109.1 545.0,106.7 545.7,108.0 546.3,109.3 547.0,110.6 547.6,111.3 548.3,110.6 548.9,110.0 549.6,111.3 550.2,108.7 550.9,106.7 551.5,108.0 552.2,110.0 552.8,111.9 553.5,113.2 554.1,113.9 554.8,112.6 555.4,111.9 556.1,112.6 556.7,114.5 557.4,113.9 558.0,113.2 558.7,112.6 559.3,111.9 560.0,111.3 560.6,112.6 561.3,115.8 561.9,119.8 562.6,123.0 563.2,126.3 563.9,129.5 564.6,130.8 565.2,128.9 565.9,128.3 566.5,127.0 567.2,125.7 567.8,125.0 568.5,124.4 569.1,125.0 569.8,125.7 570.4,125.0 571.1,124.4 571.7,125.0 572.4,126.3 573.0,128.9 573.7,131.6 574.3,134.8 575.0,138.1 575.6,140.7 576.3,141.3 576.9,139.4 577.6,136.8 578.2,134.8 578.9,133.5 579.5,132.9 580.2,134.2 580.8,135.5 581.5,134.2 582.1,132.2 582.8,131.6 583.5,132.9 584.1,134.8 584.8,136.1 585.4,136.8 586.1,136.1 586.7,135.5 587.4,134.8 588.0,136.1 588.7,138.1 589.3,139.4 590.0,138.1 590.6,136.8 591.3,136.1 591.9,136.8 592.6,138.1 593.2,138.7 593.9,138.1 594.5,137.4 595.2,136.8 595.8,137.4 596.5,138.7 597.1,139.4 597.8,138.7 598.4,138.1 599.1,137.4 599.7,138.1 600.4,139.4 601.0,140.0 601.7,139.4 602.4,138.7 603.0,139.4 603.7,140.0 604.3,140.7 605.0,142.0 605.6,144.6 606.3,147.8 606.9,151.1 607.6,152.4 608.2,151.1 609.0,148.5 609.6,147.8 610.3,149.1 610.9,151.1 611.6,153.7 612.2,155.0 612.9,153.7 613.5,151.8 614.2,151.1 614.8,152.4 615.5,154.4 616.1,155.0 616.8,153.7 617.4,151.8 618.1,150.5 618.7,149.8 619.4,150.5 620.0,151.8 620.7,152.4 621.3,151.1 622.0,150.5 622.6,151.1 623.3,153.1 623.9,155.0 624.6,157.6 625.2,160.2 625.9,162.2 626.6,160.9 627.2,158.3 627.9,157.0 628.5,156.3 629.2,157.0 629.8,158.3 630.5,158.9 631.1,157.6 631.8,156.3 632.4,155.7 633.1,156.3 633.7,157.0 634.4,157.6 635.0,158.3 635.7,157.0 636.3,156.3 637.0,157.0 637.6,158.3 638.3,160.2 638.9,162.8 639.6,163.5 640.2,162.2 641.6,160.2 643.3,159.4 644.9,158.6 646.5,157.0 647.3,158.6 648.1,160.2 649.8,161.9 651.4,162.7 653.0,161.1 654.7,159.4 656.3,158.6 657.9,159.4 659.5,164.3 661.2,165.5 662.8,165.1 664.4,164.3 666.1,163.5 667.7,163.9 669.3,164.7 670.9,165.5 672.6,165.9 674.2,166.2 675.8,165.9 676.6,165.3" fill="none" stroke="#1a6840" stroke-width="1.40" stroke-linejoin="round"/>
<polyline points="491.9,63.3 492.5,66.5 492.9,68.3 493.2,69.4 493.6,70.7 493.8,71.5 494.2,72.5 494.5,73.1 494.9,73.4 495.1,73.1 495.5,72.2 495.8,71.6 496.2,70.6 496.4,70.0 496.8,69.3 497.1,68.6 497.5,67.7 497.7,66.9 498.1,65.9 498.4,65.5 498.8,65.1 499.0,65.3 499.4,66.3 499.7,67.2 500.1,68.8 500.3,69.8 500.7,71.2 501.0,72.1 501.4,73.5 501.6,74.3 502.0,75.3 502.3,75.4 502.7,74.8 502.9,74.4 503.3,74.0 503.6,74.1 504.0,74.5 504.3,74.7 504.6,75.1 504.9,74.7 505.0,73.6 505.7,74.6 506.3,75.5 507.0,76.1 507.6,76.3 508.3,76.9 508.9,78.3 509.6,80.0 510.2,80.8 510.9,81.2 511.5,79.9 512.2,79.1 512.8,80.4 513.5,82.4 514.1,85.5 514.8,88.5 515.4,91.2 516.1,90.0 516.7,87.0 517.4,85.0 518.0,84.3 518.7,85.6 519.3,87.8 520.0,90.3 520.6,92.6 521.3,94.6 521.9,96.5 522.6,98.1 523.2,98.2 523.9,97.2 524.6,97.3 525.2,97.9 525.9,98.8 526.5,98.9 527.2,98.2 527.8,98.4 528.5,99.7 529.1,101.2 529.8,101.9 530.4,100.3 531.1,98.8 531.7,98.6 532.4,99.9 533.0,101.4 533.7,101.9 534.3,101.7 535.0,101.5 535.6,102.8 536.3,104.8 536.9,107.1 537.6,108.9 538.2,110.5 538.9,111.8 539.5,112.5 540.2,112.6 540.8,112.3 541.5,112.4 542.1,112.9 542.8,113.4 543.5,113.3 544.1,112.7 544.8,112.0 545.0,110.6 545.4,110.9 545.7,111.0 546.1,111.3 546.3,111.5 546.7,111.7 547.0,112.2 547.4,112.8 547.6,113.3 548.0,113.6 548.3,113.7 548.7,113.8 548.9,113.8 549.3,114.4 549.6,114.8 550.0,114.1 550.2,113.7 550.6,113.2 550.9,112.9 551.3,113.5 551.5,113.6 551.9,113.9 552.2,114.1 552.6,114.4 552.8,114.9 553.2,115.5 553.5,116.1 553.9,116.9 554.1,117.5 554.5,117.7 554.8,117.7 555.4,117.8 556.1,121.1 556.7,124.5 557.4,124.8 558.0,122.9 558.7,120.8 559.3,119.3 560.0,118.1 560.6,118.2 561.3,120.6 561.9,123.9 562.6,127.1 563.2,130.4 563.9,133.1 564.6,133.5 565.2,131.9 565.9,131.2 566.5,129.9 567.2,128.3 567.8,127.4 568.5,126.7 569.1,127.4 569.8,128.3 570.4,128.8 571.1,129.1 571.7,130.0 572.4,131.6 573.0,134.2 573.7,136.8 574.3,138.9 575.0,139.5 575.6,139.8 576.3,139.6 576.9,138.8 577.6,137.9 578.2,137.2 578.9,135.9 579.5,134.6 580.2,134.7 580.8,135.8 581.5,135.9 582.1,135.7 582.8,135.7 583.5,136.1 584.1,136.9 584.8,137.3 585.4,137.4 586.1,137.6 586.7,138.1 587.4,138.0 588.0,138.2 588.7,138.7 589.3,139.1 590.0,138.7 590.6,138.5 591.3,138.8 591.9,138.8 592.6,138.9 593.2,139.0 593.9,138.9 594.5,139.2 595.2,139.4 595.8,140.1 596.5,140.2 597.1,140.0 597.8,139.3 598.4,139.2 599.1,139.5 599.7,140.4 600.4,141.4 601.0,141.2 601.7,140.3 602.4,139.6 603.0,140.3 603.7,141.2 604.3,142.1 605.0,143.2 605.6,145.5 606.3,148.4 606.9,151.4 607.6,152.7 608.2,151.7 609.0,149.7 609.6,148.7 610.3,148.3 610.9,148.8 611.6,150.5 612.2,152.1 612.9,152.5 613.5,152.0 614.2,151.4 614.8,151.5 615.5,152.3 616.1,153.0 616.8,152.5 617.4,150.9 618.1,149.6 618.7,149.5 619.4,150.7 620.0,151.2 620.7,150.9 621.3,149.9 622.0,149.9 622.6,151.1 623.3,153.9 623.9,156.8 624.6,159.1 625.2,159.9 625.9,159.8 626.6,158.2 627.2,156.2 627.9,155.8 628.5,156.3 629.2,158.1 629.8,160.0 630.5,161.0 631.1,159.4 631.8,157.5 632.4,156.3 633.1,156.3 633.7,157.0 634.4,157.9 635.0,158.0 635.7,156.7 636.3,155.7 637.0,156.4 637.6,157.7 638.3,159.9 638.9,163.1 639.6,164.4 640.2,162.8 641.6,157.7 643.3,158.0 644.9,158.2 646.5,158.1 647.3,158.8 648.1,159.5 649.8,160.0 651.4,161.2 653.0,159.6 654.7,158.0 656.3,156.8 657.1,157.4 657.9,159.1 658.7,162.2 659.5,165.0 661.2,165.8 662.8,165.4 664.4,164.8 666.1,164.5 667.7,164.8 669.3,165.2 670.9,165.8 672.6,165.9 674.2,165.9 675.8,165.9 676.6,165.5" fill="none" stroke="#2a8a48" stroke-width="1.30" stroke-linejoin="round"/>
<polyline points="491.9,66.5 492.5,71.3 493.2,75.1 493.8,77.5 494.5,79.0 495.1,79.3 495.8,76.7 496.4,73.6 497.1,71.6 497.7,69.3 498.4,67.6 499.0,67.5 499.7,69.8 500.3,71.6 501.0,74.7 501.6,75.8 502.3,77.1 502.9,75.5 503.6,76.3 504.3,76.6 504.9,77.5 505.0,75.1 505.7,75.5 506.3,77.3 507.0,79.5 507.6,80.2 508.3,82.2 508.9,81.9 509.6,82.2 510.2,82.6 510.9,80.8 511.5,81.5 512.2,81.4 512.8,82.8 513.5,84.4 514.1,89.2 514.8,94.0 515.4,98.9 516.1,98.3 516.7,91.4 517.4,87.1 518.0,82.9 518.7,85.4 519.3,88.6 520.0,91.6 520.6,93.6 521.3,95.2 521.9,97.4 522.6,98.4 523.2,98.3 523.9,98.3 524.6,99.2 525.2,102.3 525.9,103.6 526.5,102.1 527.2,101.4 527.8,102.9 528.5,104.7 529.1,108.3 529.8,108.0 530.4,104.8 531.1,102.3 531.7,102.0 532.4,103.7 533.0,105.5 533.7,107.5 534.3,106.3 535.0,104.6 535.6,105.1 536.3,107.7 536.9,110.2 537.6,112.9 538.2,114.2 538.9,115.4 539.5,116.4 540.2,116.7 540.8,114.4 541.5,114.2 542.1,114.0 542.8,114.0 543.5,114.6 544.1,115.2 544.8,114.5 545.4,113.2 546.1,113.0 546.7,112.3 547.4,114.0 548.0,116.1 548.7,116.5 549.3,118.1 550.0,118.7 550.6,118.7 551.3,119.8 551.9,117.9 552.6,116.4 553.2,116.9 553.9,119.8 554.5,121.3 555.4,122.7 556.1,130.4 556.7,135.6 557.4,136.4 558.0,133.7 558.7,128.6 559.3,126.3 560.0,124.4 560.6,123.3 561.3,124.2 561.9,126.7 562.6,130.3 563.2,134.5 563.9,136.6 564.6,135.6 565.2,133.8 565.9,132.8 566.5,132.6 567.2,130.0 567.8,129.0 568.5,127.2 569.1,128.2 569.8,130.5 570.4,132.4 571.1,133.8 571.7,134.7 572.4,136.4 573.0,139.2 573.7,142.2 574.3,142.0 575.0,139.8 575.6,136.8 576.3,136.2 576.9,135.7 577.6,138.1 578.2,139.2 578.9,136.4 579.5,135.3 580.2,134.1 580.8,135.1 581.5,136.6 582.1,138.0 582.8,138.9 583.5,139.2 584.1,138.4 584.8,136.5 585.4,135.8 586.1,137.1 586.7,139.0 587.4,140.3 588.0,138.5 588.7,138.4 589.3,137.4 590.0,137.2 590.6,139.1 591.3,140.1 591.9,139.7 592.6,138.0 593.2,137.2 593.9,137.9 594.5,139.5 595.2,141.4 595.8,141.8 596.5,139.7 597.1,139.4 597.8,139.0 598.4,139.5 599.1,140.8 599.7,140.9 600.4,142.3 601.0,140.3 601.7,140.1 602.4,138.6 603.0,140.1 603.7,140.6 604.3,142.6 605.0,142.7 605.6,144.2 606.3,147.4 606.9,149.9 607.6,152.1 608.2,150.5 609.0,149.5 609.6,148.3 610.3,146.3 610.9,143.6 611.6,145.1 612.2,146.9 612.9,149.9 613.5,151.6 614.2,149.9 614.8,149.2 615.5,148.2 616.1,148.9 616.8,148.8 617.4,148.7 618.1,147.7 618.7,147.3 619.4,149.2 620.0,149.6 620.7,146.9 621.3,146.2 622.0,146.9 622.6,150.0 623.3,153.8 623.9,157.2 624.6,159.5 625.2,157.2 625.9,155.6 626.6,153.3 627.2,152.1 627.9,152.6 628.5,154.6 629.2,157.5 629.8,159.9 630.5,161.8 631.1,159.5 631.8,157.7 632.4,155.9 633.1,155.1 633.7,155.3 634.4,156.3 635.0,155.8 635.7,154.7 636.3,153.6 637.0,154.8 637.6,154.7 638.3,157.9 638.9,161.9 639.6,164.2 640.2,162.5 641.6,153.5 643.3,154.1 644.9,157.0 646.5,157.3 648.1,157.3 649.8,155.5 651.4,158.2 653.0,155.6 654.7,154.9 656.3,153.3 657.1,154.2 657.9,156.9 658.7,161.7 659.5,165.0 661.2,163.9 662.8,164.2 664.4,164.4 666.1,164.4 667.7,164.3 669.3,163.9 670.9,165.2 672.6,163.7 674.2,164.4 675.8,164.9 676.6,163.6" fill="none" stroke="#45a858" stroke-width="1.30" stroke-linejoin="round"/>
<polyline points="491.9,69.2 492.5,72.2 493.2,75.9 493.8,79.7 494.5,80.7 495.1,80.0 495.8,78.0 496.4,75.0 497.1,73.7 497.7,71.0 498.4,70.5 499.0,69.1 499.7,71.4 500.3,74.4 501.0,76.1 501.6,78.3 502.3,79.4 502.9,77.3 503.6,77.6 504.3,77.9 504.9,78.2 505.0,76.1 505.7,78.2 506.3,79.2 507.0,81.6 507.6,82.7 508.3,83.6 508.9,83.8 509.6,84.6 510.2,83.8 510.9,82.7 511.5,82.9 512.2,82.8 512.8,84.7 513.5,86.8 514.1,91.0 514.8,95.6 515.4,101.7 516.1,99.5 516.7,93.1 517.4,87.7 518.0,85.0 518.7,85.7 519.3,90.1 520.0,92.8 520.6,94.8 521.3,96.6 521.9,98.9 522.6,101.1 523.2,99.7 523.9,99.2 524.6,101.4 525.2,103.0 525.9,104.7 526.5,103.9 527.2,103.2 527.8,104.7 528.5,106.5 529.1,108.6 529.8,110.4 530.4,107.0 531.1,104.5 531.7,103.1 532.4,105.1 533.0,107.7 533.7,109.1 534.3,107.7 535.0,105.4 535.6,107.6 536.3,108.7 536.9,111.8 537.6,114.1 538.2,116.1 538.9,117.4 539.5,117.9 540.2,117.0 540.8,116.3 541.5,116.0 542.1,116.1 542.8,115.9 543.5,117.2 544.1,115.7 544.8,115.5 545.4,115.4 546.1,114.8 546.7,113.6 547.4,115.4 548.0,116.9 548.7,118.3 549.3,119.0 550.0,120.1 550.6,120.5 551.3,120.8 551.9,119.8 552.6,118.4 553.2,118.7 553.9,121.2 554.5,123.8 555.4,125.2 556.1,132.1 556.7,136.2 557.4,138.1 558.0,135.0 558.7,130.7 559.3,127.9 560.0,126.6 560.6,125.0 561.3,126.1 561.9,128.4 562.6,132.8 563.2,135.3 563.9,137.0 564.6,136.4 565.2,135.2 565.9,135.2 566.5,133.1 567.2,131.3 567.8,129.8 568.5,129.6 569.1,129.9 569.8,131.4 570.4,133.8 571.1,135.3 571.7,136.5 572.4,137.5 573.0,140.5 573.7,143.7 574.3,143.4 575.0,141.0 575.6,138.7 576.3,137.3 576.9,138.4 577.6,139.6 578.2,140.0 578.9,138.4 579.5,136.4 580.2,135.2 580.8,135.6 581.5,138.3 582.1,139.6 582.8,141.1 583.5,140.2 584.1,138.8 584.8,138.7 585.4,138.2 586.1,138.8 586.7,141.3 587.4,141.4 588.0,141.0 588.7,138.8 589.3,138.9 590.0,140.0 590.6,141.1 591.3,141.7 591.9,141.4 592.6,139.6 593.2,139.2 593.9,140.5 594.5,141.7 595.2,142.0 595.8,143.1 596.5,142.1 597.1,140.3 597.8,140.4 598.4,141.1 599.1,142.0 599.7,143.1 600.4,144.4 601.0,142.6 601.7,141.0 602.4,140.4 603.0,140.9 603.7,143.0 604.3,143.9 605.0,144.8 605.6,146.9 606.3,149.7 606.9,151.4 607.6,152.9 608.2,152.9 609.0,151.4 609.6,149.7 610.3,147.4 610.9,145.5 611.6,146.1 612.2,148.0 612.9,151.0 613.5,152.1 614.2,151.8 614.8,151.0 615.5,149.4 616.1,150.5 616.8,151.5 617.4,149.9 618.1,148.5 618.7,149.5 619.4,150.5 620.0,151.0 620.7,149.4 621.3,148.9 622.0,149.5 622.6,150.6 623.3,154.5 623.9,158.5 624.6,160.9 625.2,160.1 625.9,157.5 626.6,154.9 627.2,153.9 627.9,154.6 628.5,156.1 629.2,160.1 629.8,162.7 630.5,163.8 631.1,162.0 631.8,159.3 632.4,157.2 633.1,156.1 633.7,156.7 634.4,158.0 635.0,157.1 635.7,156.8 636.3,154.8 637.0,155.1 637.6,156.7 638.3,159.1 638.9,163.4 639.6,165.2 640.2,163.1 641.6,155.1 643.3,156.6 644.9,157.5 646.5,159.9 648.1,158.8 649.8,157.3 651.4,160.0 653.0,157.5 654.7,155.9 656.3,154.5 657.1,155.5 657.9,158.2 658.7,162.9 659.5,165.8 661.2,165.8 662.8,165.8 664.4,165.4 666.1,165.8 667.7,165.6 669.3,165.6 670.9,165.8 672.6,165.5 674.2,165.8 675.8,165.8 676.6,165.3" fill="none" stroke="#78c47a" stroke-width="1.30" stroke-linejoin="round"/>
<polyline points="491.9,70.2 492.5,74.1 493.2,78.0 493.8,79.6 494.5,82.2 495.1,81.3 495.8,78.8 496.4,75.7 497.1,73.9 497.7,72.2 498.4,70.6 499.0,70.3 499.7,71.7 500.3,74.4 501.0,77.1 501.6,78.7 502.3,80.1 502.9,79.1 503.6,78.0 504.3,78.3 504.9,79.8 505.0,77.6 505.7,79.0 506.3,80.3 507.0,82.6 507.6,83.2 508.3,84.3 508.9,84.5 509.6,85.4 510.2,84.9 510.9,83.8 511.5,82.9 512.2,84.0 512.8,85.6 513.5,87.4 514.1,91.8 514.8,97.2 515.4,101.9 516.1,99.9 516.7,94.3 517.4,89.6 518.0,85.6 518.7,86.8 519.3,90.1 520.0,93.3 520.6,95.5 521.3,97.8 521.9,100.1 522.6,101.4 523.2,100.8 523.9,100.1 524.6,102.0 525.2,104.6 525.9,105.6 526.5,104.6 527.2,103.8 527.8,105.9 528.5,107.7 529.1,110.5 529.8,110.4 530.4,108.2 531.1,106.0 531.7,104.3 532.4,106.1 533.0,107.7 533.7,110.7 534.3,108.3 535.0,106.7 535.6,107.6 536.3,110.5 536.9,112.9 537.6,115.9 538.2,117.6 538.9,119.1 539.5,119.3 540.2,119.2 540.8,117.6 541.5,116.4 542.1,117.5 542.8,117.1 543.5,117.6 544.1,116.8 544.8,116.6 545.4,115.6 546.1,115.8 546.7,115.2 547.4,115.6 548.0,117.4 548.7,119.3 549.3,119.5 550.0,120.6 550.6,121.6 551.3,121.5 551.9,120.4 552.6,119.7 553.2,119.8 553.9,121.6 554.5,124.9 555.4,126.4 556.1,133.0 556.7,138.0 557.4,139.0 558.0,136.0 558.7,132.3 559.3,129.5 560.0,127.0 560.6,125.8 561.3,127.2 561.9,130.3 562.6,133.3 563.2,136.5 563.9,138.8 564.6,137.3 565.2,136.6 565.9,135.6 566.5,134.6 567.2,133.0 567.8,130.9 568.5,131.1 569.1,130.7 569.8,132.6 570.4,134.6 571.1,135.5 571.7,137.2 572.4,139.0 573.0,141.6 573.7,144.5 574.3,144.3 575.0,142.2 575.6,140.1 576.3,138.0 576.9,139.5 577.6,140.0 578.2,141.2 578.9,139.3 579.5,137.7 580.2,136.4 580.8,136.6 581.5,139.3 582.1,141.0 582.8,141.9 583.5,141.1 584.1,140.4 584.8,139.8 585.4,138.8 586.1,140.9 586.7,141.8 587.4,143.4 588.0,142.1 588.7,140.4 589.3,140.1 590.0,140.6 590.6,141.8 591.3,142.7 591.9,142.1 592.6,140.8 593.2,140.1 593.9,141.6 594.5,142.1 595.2,143.5 595.8,144.2 596.5,143.4 597.1,141.6 597.8,141.1 598.4,141.4 599.1,142.7 599.7,143.8 600.4,144.6 601.0,143.3 601.7,142.8 602.4,141.7 603.0,141.9 603.7,143.6 604.3,144.5 605.0,145.7 605.6,147.5 606.3,150.6 606.9,152.5 607.6,154.5 608.2,153.1 609.0,152.7 609.6,151.0 610.3,147.6 610.9,147.3 611.6,147.3 612.2,149.3 612.9,151.7 613.5,153.8 614.2,152.3 614.8,151.7 615.5,150.7 616.1,151.7 616.8,151.9 617.4,150.3 618.1,150.0 618.7,150.3 619.4,151.7 620.0,152.0 620.7,150.6 621.3,149.1 622.0,149.6 622.6,152.2 623.3,155.6 623.9,160.2 624.6,161.8 625.2,160.8 625.9,158.1 626.6,156.3 627.2,155.1 627.9,155.5 628.5,157.4 629.2,160.4 629.8,162.7 630.5,164.0 631.1,163.0 631.8,159.6 632.4,157.9 633.1,157.1 633.7,158.1 634.4,159.3 635.0,159.1 635.7,157.2 636.3,155.8 637.0,156.8 637.6,158.3 638.3,161.1 638.9,164.3 639.6,165.5 640.2,165.1 641.6,155.2 643.3,156.8 644.9,158.9 646.5,159.9 648.1,159.9 649.8,159.1 651.4,159.9 653.0,159.0 654.7,157.2 656.3,155.7 657.1,156.9 657.9,160.2 658.7,163.6 659.5,165.8 661.2,165.8 662.8,165.8 664.4,165.7 666.1,165.8 667.7,165.8 669.3,165.8 670.9,165.8 672.6,165.8 674.2,165.8 675.8,165.8 676.6,165.8" fill="none" stroke="#a5d99e" stroke-width="1.30" stroke-linejoin="round"/>
<polyline points="491.9,51.5 492.6,52.4 493.3,54.3 494.0,56.3 494.5,57.6 495.1,56.3 495.8,53.7 496.4,52.4 497.1,51.7 497.7,51.1 498.1,51.7 498.5,54.3 499.0,58.2 499.7,60.9 500.3,62.8 501.0,64.1 501.6,66.1 502.3,68.0 502.9,69.3 503.6,68.7 504.3,68.0 504.9,67.4 505.6,68.0 506.2,68.7 506.9,68.0 507.5,67.4 508.2,68.0 508.8,69.3 509.5,71.3 510.2,72.6 510.9,73.9 511.5,74.6 512.2,73.3 512.8,72.6 513.5,72.0 514.1,72.6 514.8,73.3 515.4,72.9 516.1,72.6 516.7,73.3 517.4,74.6 518.0,75.9 518.7,77.2 519.3,78.5 520.0,79.8 520.6,80.4 521.3,81.7 521.9,83.7 522.6,85.6 523.2,88.2 523.9,90.9 524.6,92.8 525.2,93.5 525.9,89.6 526.5,85.6 527.2,83.0 527.8,84.3 528.5,87.6 529.1,90.2 529.8,90.9 530.4,88.9 531.1,88.9 531.7,90.9 532.4,92.8 533.0,94.8 533.7,97.4 534.3,100.0 535.0,98.7 535.6,95.4 536.3,94.1 536.9,96.1 537.6,100.0 538.2,103.9 538.9,103.2 539.5,100.0 540.2,96.7 540.8,95.4 541.5,94.8 542.1,94.5 542.8,94.1 543.5,94.8 544.1,95.4 544.8,96.1 545.0,94.3 545.7,98.2 546.3,101.5 547.0,104.1 547.6,105.4 548.3,106.1 548.9,107.4 549.6,106.7 550.2,106.1 550.9,105.4 551.5,106.1 552.2,106.7 552.8,106.1 553.5,105.4 554.1,104.8 554.8,104.1 555.4,104.8 556.1,104.1 556.7,104.1 557.4,103.7 558.0,104.1 558.7,103.5 559.3,104.1 560.0,104.8 560.6,106.1 561.3,108.0 561.9,110.0 562.6,111.9 563.2,113.2 563.9,113.9 564.6,114.5 565.2,115.9 565.9,116.6 566.5,115.9 567.2,116.6 567.8,115.9 568.5,114.6 569.1,114.0 569.8,114.6 570.4,115.9 571.1,117.2 571.7,117.9 572.4,117.2 573.0,117.9 573.7,119.2 574.3,120.5 575.0,122.4 575.6,124.4 576.3,126.3 576.9,128.9 577.6,131.6 578.2,133.5 578.9,131.6 579.5,130.2 580.2,129.6 580.8,130.2 581.5,129.6 582.1,128.9 582.8,130.2 583.5,131.6 584.1,130.9 584.8,130.2 585.4,131.6 586.1,132.2 586.7,130.2 587.4,128.9 588.0,130.2 588.7,132.9 589.3,134.8 590.0,133.5 590.6,130.9 591.3,129.6 591.9,130.2 592.6,132.2 593.2,133.5 593.9,134.2 594.5,134.8 595.2,135.5 595.8,136.8 596.5,138.1 597.1,137.4 597.8,136.1 598.4,135.5 599.1,134.8 599.7,135.5 600.4,136.8 601.0,138.1 601.7,136.8 602.4,135.5 603.0,134.8 603.7,134.8 604.3,135.5 605.0,136.1 605.6,137.4 606.3,140.0 606.9,142.6 607.6,145.2 608.2,144.6 609.0,143.3 609.6,140.7 610.3,141.3 610.9,142.6 611.6,144.6 612.2,145.9 612.9,144.6 613.5,142.6 614.2,141.3 614.8,142.6 615.5,145.2 616.1,147.2 616.8,147.8 617.4,145.9 618.1,143.9 618.7,143.3 619.4,143.9 620.0,145.9 620.7,147.8 621.3,146.5 622.0,144.6 622.6,143.9 623.3,144.6 623.9,143.9 624.6,143.3 625.2,143.9 625.9,145.2 626.6,147.2 627.2,149.1 627.9,150.5 628.5,151.8 629.2,151.1 629.8,150.5 630.5,151.8 631.1,152.4 631.8,151.1 632.4,150.5 633.1,151.8 633.7,155.0 634.4,157.0 635.0,155.7 635.7,153.1 636.3,151.1 637.0,149.8 637.6,149.1 638.3,147.8 638.9,146.5 639.6,145.2 640.2,145.9 640.8,146.4 641.6,148.8 642.4,155.4 643.3,161.1 643.7,161.9 644.1,157.8 644.5,152.9 644.9,150.5 645.7,150.5 646.5,151.3 647.3,150.5 648.1,148.8 649.0,146.4 649.8,144.4 650.6,145.6 651.4,151.3 652.2,155.4 653.0,156.2 653.8,154.5 654.7,152.1 655.5,150.9 656.3,151.3 657.1,152.1 657.9,151.7 658.7,151.3 659.5,152.5 660.4,152.9 661.2,153.7 662.0,156.2 662.8,159.4 663.6,161.1 664.4,160.2 665.2,158.6 666.1,157.0 666.9,156.2 667.7,155.4 668.5,154.5 669.3,153.7 670.1,154.5 670.9,157.8 671.8,161.1 672.6,164.3 673.4,165.9 674.2,163.5 675.0,156.2 675.8,152.9 676.6,153.7" fill="none" stroke="#e0262a" stroke-width="1.35" stroke-linejoin="round"/>
<polyline points="491.9,66.1 492.5,66.7 493.2,67.4 493.8,66.7 494.5,65.4 495.1,64.1 495.8,63.5 496.4,62.8 497.1,62.2 497.7,60.9 498.4,58.2 499.0,55.0 499.7,53.0 500.3,52.0 501.0,52.4 501.6,53.7 502.3,57.6 502.9,62.8 503.6,66.1 504.3,68.0 504.9,65.4 505.6,62.8 506.2,60.9 506.9,59.6 507.5,60.2 508.2,62.8 508.8,66.1 509.5,68.0 510.1,67.4 510.8,64.8 511.4,61.5 512.1,58.2 512.7,56.7 513.4,56.9 514.0,58.2 514.7,60.2 515.3,61.5 516.0,60.9 516.6,60.2 517.3,60.9 517.9,60.2 518.6,60.9 519.2,62.2 519.9,63.5 520.5,64.8 521.2,66.1 521.8,68.0 522.6,70.7 523.2,72.0 523.9,73.3 524.6,75.2 525.2,76.5 525.9,77.8 526.5,79.1 527.2,80.4 527.8,81.7 528.5,83.0 529.1,83.7 529.8,83.0 530.4,82.4 531.1,83.0 531.7,84.3 532.4,85.6 533.0,86.3 533.7,86.9 534.3,87.6 535.0,86.9 535.6,86.3 536.3,86.3 536.9,86.9 537.6,88.2 538.2,89.6 538.9,90.9 539.5,92.2 540.2,93.5 540.8,94.8 541.5,95.4 542.1,96.1 542.8,96.7 543.5,98.0 544.1,99.3 544.8,100.6 545.0,103.5 545.7,104.1 546.3,105.4 547.0,106.7 547.6,108.0 548.3,108.7 548.9,109.3 549.6,108.0 550.2,107.4 550.9,108.7 551.5,110.0 552.2,109.3 552.8,108.7 553.5,109.3 554.1,110.6 554.8,111.9 555.4,113.2 556.1,113.9 556.7,114.5 557.4,116.5 558.0,117.8 558.7,115.8 559.3,113.2 560.0,112.6 560.6,113.9 561.3,113.2 561.9,112.6 562.6,111.9 563.2,112.6 563.9,114.5 564.6,117.8 565.2,119.1 565.9,118.5 566.5,117.8 567.2,118.5 567.8,119.1 568.5,119.8 569.1,119.1 569.8,118.5 570.4,119.8 571.1,121.7 571.7,123.0 572.4,122.4 573.0,121.1 573.7,121.7 574.3,123.0 575.0,125.0 575.6,125.7 576.3,127.6 576.9,129.6 577.6,132.9 578.2,134.2 578.9,132.2 579.5,131.6 580.2,132.9 580.8,134.8 581.5,136.1 582.1,134.8 582.8,132.9 583.5,131.6 584.1,133.5 584.8,136.8 585.4,139.4 586.1,142.6 586.7,144.6 587.4,142.6 588.0,138.7 588.7,136.1 589.3,135.5 590.0,136.8 590.6,138.7 591.3,137.4 591.9,136.1 592.6,137.4 593.2,139.4 593.9,141.3 594.5,142.6 595.2,140.7 595.8,138.1 596.5,136.1 597.1,138.1 597.8,143.3 598.4,145.9 599.1,142.6 599.7,139.4 600.4,136.8 601.0,136.1 601.7,137.4 602.4,140.0 603.0,142.0 603.7,140.0 604.3,139.4 605.0,140.0 605.6,141.3 606.3,143.3 606.9,145.2 607.6,145.9 608.2,145.2 609.0,144.6 609.6,143.9 610.3,142.6 610.9,142.0 611.6,142.6 612.2,144.6 612.9,147.2 613.5,149.8 614.2,150.5 614.8,148.5 615.5,147.2 616.1,147.8 616.8,149.1 617.4,149.8 618.1,149.1 618.7,147.8 619.4,146.5 620.0,145.9 620.7,145.2 621.3,144.6 622.0,143.9 622.6,143.9 623.3,145.2 623.9,147.8 624.6,152.4 625.2,155.7 625.9,155.0 626.6,151.1 627.2,147.8 627.9,145.9 628.5,144.6 629.2,145.2 629.8,146.5 630.5,145.2 631.1,144.6 631.8,145.9 632.4,149.8 633.1,153.7 633.7,152.4 634.4,149.8 635.0,148.5 635.7,149.1 636.3,151.1 637.0,152.4 637.6,151.8 638.3,151.1 638.9,152.4 639.6,154.4 640.2,156.3 640.8,156.2 641.6,152.9 642.4,151.3 643.3,150.5 644.1,151.3 644.9,152.1 645.7,151.3 646.5,150.5 647.3,152.1 648.1,154.5 649.0,155.4 649.8,153.7 650.6,152.9 651.4,154.5 652.2,155.4 653.0,154.5 653.8,152.9 654.7,151.3 655.5,149.7 656.3,148.8 657.1,150.1 657.9,152.1 658.7,156.2 659.5,161.1 660.4,158.6 661.2,152.9 662.0,149.7 662.8,150.1 663.6,152.5 664.4,154.5 665.2,152.9 666.1,151.7 666.9,152.5 667.7,154.5 668.5,153.7 669.3,152.5 670.1,152.9 670.9,154.5 671.8,156.2 672.6,157.8 673.4,161.1 674.2,165.1 675.0,164.3 675.8,159.4 676.6,154.5" fill="none" stroke="#3a7fc0" stroke-width="1.35" stroke-linejoin="round"/>
<path d="M491.40 166.40v-2.20M491.40 5.30v2.20M498.03 166.40v-1.30M498.03 5.30v1.30M504.66 166.40v-1.30M504.66 5.30v1.30M511.29 166.40v-1.30M511.29 5.30v1.30M517.91 166.40v-1.30M517.91 5.30v1.30M524.54 166.40v-1.30M524.54 5.30v1.30M531.17 166.40v-1.30M531.17 5.30v1.30M537.80 166.40v-1.30M537.80 5.30v1.30M544.43 166.40v-2.20M544.43 5.30v2.20M557.69 166.40v-1.30M557.69 5.30v1.30M570.94 166.40v-1.30M570.94 5.30v1.30M584.20 166.40v-1.30M584.20 5.30v1.30M597.46 166.40v-1.30M597.46 5.30v1.30M610.71 166.40v-2.20M610.71 5.30v2.20M623.97 166.40v-1.30M623.97 5.30v1.30M637.23 166.40v-1.30M637.23 5.30v1.30M650.49 166.40v-1.30M650.49 5.30v1.30M663.74 166.40v-1.30M663.74 5.30v1.30M677.00 166.40v-2.20M677.00 5.30v2.20M491.40 166.40h2.20M677.00 166.40h-2.20M491.40 146.26h2.20M677.00 146.26h-2.20M491.40 126.12h2.20M677.00 126.12h-2.20M491.40 105.99h2.20M677.00 105.99h-2.20M491.40 85.85h2.20M677.00 85.85h-2.20M491.40 65.71h2.20M677.00 65.71h-2.20M491.40 45.58h2.20M677.00 45.58h-2.20M491.40 25.44h2.20M677.00 25.44h-2.20M491.40 5.30h2.20M677.00 5.30h-2.20" stroke="#555" stroke-width="0.6" fill="none"/>
<path d="M490.90 5.30H677.50M490.90 166.40H677.50" stroke="#6e6e6e" stroke-width="0.9" fill="none"/>
<path d="M491.40 5.30V166.40M677.00 5.30V166.40" stroke="#8c8c8c" stroke-width="0.9" fill="none"/>
<g font-size="8" fill="#3a3a3a"><text x="491.65" y="176.40" text-anchor="middle" letter-spacing="0.5">0.1</text><text x="544.68" y="176.40" text-anchor="middle" letter-spacing="0.5">0.5</text><text x="610.96" y="176.40" text-anchor="middle" letter-spacing="0.5">1.0</text><text x="677.25" y="176.40" text-anchor="middle" letter-spacing="0.5">1.5</text><text x="489.40" y="168.70" text-anchor="end" letter-spacing="0.6">-20</text><text x="489.40" y="148.56" text-anchor="end" letter-spacing="0.6">-10</text><text x="489.40" y="128.43" text-anchor="end" letter-spacing="0.6">0</text><text x="489.40" y="108.29" text-anchor="end" letter-spacing="0.6">10</text><text x="489.40" y="88.15" text-anchor="end" letter-spacing="0.6">20</text><text x="489.40" y="68.01" text-anchor="end" letter-spacing="0.6">30</text><text x="489.40" y="47.88" text-anchor="end" letter-spacing="0.6">40</text><text x="489.40" y="27.74" text-anchor="end" letter-spacing="0.6">50</text><text x="489.40" y="7.60" text-anchor="end" letter-spacing="0.6">60</text></g>
<text x="584.20" y="186.80" text-anchor="middle" font-size="9" fill="#3a3a3a">Frequency in kHz</text>
<text transform="translate(473.10 85.85) rotate(-90)" text-anchor="middle" font-size="9.3" fill="#3a3a3a">PSD of pressure level in dB(A)/Hz</text>
<rect x="646.90" y="9.10" width="27.00" height="65.40" fill="#fff" stroke="#555" stroke-width="0.6"/>
<line x1="647.70" y1="13.80" x2="660.30" y2="13.80" stroke="#4f9473" stroke-width="2.00"/>
<text x="661.90" y="16.60" font-size="8.2" fill="#3a3a3a"><tspan font-style="italic">C</tspan><tspan font-size="5.4" dy="1.5">01</tspan></text>
<line x1="647.70" y1="23.15" x2="660.30" y2="23.15" stroke="#2f8c4e" stroke-width="1.20"/>
<text x="661.90" y="25.95" font-size="8.2" fill="#3a3a3a"><tspan font-style="italic">C</tspan><tspan font-size="5.4" dy="1.5">02</tspan></text>
<line x1="647.70" y1="32.50" x2="660.30" y2="32.50" stroke="#3f9f55" stroke-width="1.20"/>
<text x="661.90" y="35.30" font-size="8.2" fill="#3a3a3a"><tspan font-style="italic">C</tspan><tspan font-size="5.4" dy="1.5">03</tspan></text>
<line x1="647.70" y1="41.85" x2="660.30" y2="41.85" stroke="#7cc57c" stroke-width="1.40"/>
<text x="661.90" y="44.65" font-size="8.2" fill="#3a3a3a"><tspan font-style="italic">C</tspan><tspan font-size="5.4" dy="1.5">04</tspan></text>
<line x1="647.70" y1="51.20" x2="660.30" y2="51.20" stroke="#a8d9a0" stroke-width="1.40"/>
<text x="661.90" y="54.00" font-size="8.2" fill="#3a3a3a"><tspan font-style="italic">C</tspan><tspan font-size="5.4" dy="1.5">05</tspan></text>
<line x1="647.70" y1="60.55" x2="660.30" y2="60.55" stroke="#e02a2a" stroke-width="1.20"/>
<text x="661.90" y="63.35" font-size="8.2" fill="#3a3a3a"><tspan font-style="italic">P</tspan><tspan font-size="5.4" dy="1.5" font-style="italic">L</tspan></text>
<line x1="647.70" y1="69.90" x2="660.30" y2="69.90" stroke="#5a98cc" stroke-width="1.40"/>
<text x="661.90" y="72.70" font-size="8.2" fill="#3a3a3a"><tspan font-style="italic">P</tspan><tspan font-size="5.4" dy="1.5" font-style="italic">U</tspan></text>
<line x1="57.93" y1="223.10" x2="57.93" y2="384.30" stroke="#e6e6e6" stroke-width="0.6"/>
<line x1="96.60" y1="223.10" x2="96.60" y2="384.30" stroke="#e6e6e6" stroke-width="0.6"/>
<line x1="135.27" y1="223.10" x2="135.27" y2="384.30" stroke="#e6e6e6" stroke-width="0.6"/>
<line x1="173.93" y1="223.10" x2="173.93" y2="384.30" stroke="#e6e6e6" stroke-width="0.6"/>
<line x1="27.00" y1="352.06" x2="212.60" y2="352.06" stroke="#e6e6e6" stroke-width="0.6"/>
<line x1="27.00" y1="319.82" x2="212.60" y2="319.82" stroke="#e6e6e6" stroke-width="0.6"/>
<line x1="27.00" y1="287.58" x2="212.60" y2="287.58" stroke="#e6e6e6" stroke-width="0.6"/>
<line x1="27.00" y1="255.34" x2="212.60" y2="255.34" stroke="#e6e6e6" stroke-width="0.6"/>
<polyline points="27.0,274.3 27.7,273.0 28.3,271.7 29.0,271.1 29.6,269.8 30.3,269.1 30.9,270.4 31.6,271.1 32.2,269.1 32.9,268.5 33.5,269.8 34.2,271.7 34.8,273.0 35.5,270.4 36.1,267.2 36.8,266.6 37.4,267.9 38.1,271.1 38.7,273.7 39.4,273.1 40.0,271.8 40.7,272.4 41.3,271.8 42.0,272.4 42.6,273.1 43.3,273.7 43.9,275.0 44.6,274.4 45.2,273.7 45.9,275.0 46.6,276.3 47.2,277.6 47.9,278.9 48.5,281.6 49.2,280.2 49.8,278.9 50.5,278.3 51.1,279.6 51.8,280.2 52.4,278.9 53.1,280.2 53.7,282.9 54.4,284.8 55.0,286.1 55.7,285.5 56.3,286.8 57.0,287.4 57.6,286.8 58.3,287.4 58.9,288.7 59.6,289.4 60.2,290.0 60.9,288.1 61.5,287.4 62.2,288.7 62.8,290.0 63.5,290.7 64.1,289.4 64.8,288.7 65.5,288.1 66.1,290.0 66.8,293.3 67.4,292.0 68.1,292.6 68.7,293.3 69.4,294.6 70.0,295.9 70.7,296.5 71.3,295.2 72.0,294.6 72.6,297.2 73.3,298.5 73.9,299.1 74.6,299.8 75.2,295.9 75.9,293.9 76.5,294.6 77.2,296.5 77.8,298.5 78.5,301.1 79.1,303.7 79.8,305.0 80.4,302.4 81.1,301.1 81.7,299.8 82.4,298.5 83.0,297.8 83.7,297.2 84.4,298.5 85.0,301.1 85.7,303.7 86.3,305.0 87.0,303.7 87.6,301.8 88.3,301.1 88.9,302.4 89.0,299.8 89.7,301.7 90.3,305.0 91.0,303.0 91.6,302.4 92.3,303.7 92.9,306.9 93.6,310.2 94.2,309.6 94.9,308.2 95.5,308.9 96.2,311.5 96.8,314.1 97.5,312.8 98.1,312.2 98.8,313.5 99.4,314.8 100.1,312.8 100.7,310.9 101.4,309.6 102.0,310.9 102.7,312.8 103.3,314.8 104.0,316.1 104.6,318.0 105.3,319.3 105.9,318.7 106.6,318.0 107.2,319.3 107.9,321.3 108.6,322.6 109.2,323.2 109.9,321.9 110.5,320.0 111.2,317.4 111.8,316.1 112.5,316.7 113.1,318.0 113.8,320.0 114.4,321.3 115.1,321.9 115.7,321.3 116.4,320.6 117.0,321.3 117.7,321.9 118.3,321.3 119.0,319.3 119.6,317.4 120.3,316.7 120.9,317.4 121.6,320.0 122.2,323.2 122.9,325.8 123.5,327.1 124.2,326.5 124.8,325.8 125.5,326.5 126.1,327.1 126.8,325.8 127.5,323.9 128.1,323.2 128.8,323.9 129.4,324.5 130.1,325.2 130.7,325.8 131.4,325.2 132.0,324.5 132.7,323.9 133.3,324.5 134.0,323.9 134.6,323.9 135.3,324.5 135.9,325.2 136.6,325.8 137.2,327.1 137.9,328.5 138.5,329.8 139.2,331.1 139.8,332.4 140.5,331.7 141.1,330.4 141.8,329.1 142.4,328.5 143.1,329.1 143.7,330.4 144.4,331.7 145.0,333.0 145.7,334.3 146.4,335.0 147.0,334.3 147.7,333.7 148.3,335.0 149.0,336.3 149.6,336.9 150.3,336.3 150.9,335.6 151.6,335.0 152.2,334.3 153.0,334.3 153.6,335.8 154.3,335.2 154.9,333.9 155.6,333.2 156.2,333.9 156.9,335.8 157.5,338.5 158.2,339.8 158.8,340.4 159.5,339.1 160.1,340.4 160.8,341.7 161.4,341.1 162.1,339.8 162.7,339.1 163.4,339.8 164.0,338.5 164.7,339.1 165.3,340.4 166.0,339.1 166.6,337.8 167.3,337.1 167.9,337.8 168.6,339.1 169.2,338.5 169.9,339.1 170.6,341.7 171.2,343.7 171.9,344.3 172.5,343.0 173.2,344.3 173.8,345.6 174.5,345.0 175.1,343.0 175.8,341.7 176.4,341.1 177.1,342.4 177.7,344.3 178.4,343.0 179.0,341.7 179.7,340.4 180.3,341.1 181.0,342.4 181.6,343.7 182.3,343.0 182.9,342.4 183.6,343.0 184.2,344.3 184.9,345.0 185.5,344.3 186.2,343.0 186.8,344.3 187.5,345.6 188.1,346.3 188.8,345.6 189.5,346.3 190.1,346.9 190.8,346.3 191.4,345.6 192.1,345.0 192.7,345.6 193.4,346.3 194.0,347.6 194.7,349.5 195.3,348.9 196.0,347.6 196.6,346.9 197.3,348.2 197.9,348.9 198.6,346.9 199.2,345.6 199.9,346.3 200.5,348.2 201.2,349.5 201.8,348.2 202.5,346.9 203.1,346.3 203.8,346.9 204.4,348.9 205.1,350.2 205.7,349.5 206.4,350.2 207.0,351.5 207.7,352.1 208.4,350.8 209.0,349.5 209.7,350.2 210.3,351.5 211.0,350.8 211.6,350.2 212.3,353.4 212.8,356.0" fill="none" stroke="#1a6840" stroke-width="1.40" stroke-linejoin="round"/>
<polyline points="27.0,278.6 28.6,271.7 29.9,273.6 31.6,270.6 33.2,273.6 34.8,273.8 36.3,273.0 37.5,268.3 38.9,280.0 40.3,274.3 41.9,277.5 43.6,275.3 45.3,279.2 46.6,279.7 47.9,284.5 49.3,284.9 50.8,287.9 52.2,284.7 53.5,289.5 55.1,288.4 56.4,294.5 57.8,291.1 59.4,296.2 60.7,292.2 62.0,297.7 63.5,296.9 64.8,298.4 66.1,297.6 67.4,302.1 69.2,301.3 70.7,305.1 72.1,302.9 73.7,306.5 75.3,306.4 76.7,311.8 78.4,309.6 80.0,312.1 81.8,310.8 83.1,315.5 84.7,313.3 86.3,316.1 88.0,312.7 89.2,314.9 90.6,313.2 91.8,315.5 93.6,312.0 94.9,318.8 96.1,319.0 97.8,326.1 99.2,324.9 100.5,322.9 102.0,319.3 103.7,325.0 105.4,321.6 106.9,327.3 108.4,324.2 109.7,327.5 111.3,326.2 112.9,328.1 114.7,324.9 115.9,327.5 117.4,324.9 118.7,329.1 120.0,327.8 121.6,332.5 123.3,331.3 124.7,336.1 126.1,331.2 127.7,335.6 129.5,332.3 131.2,336.2 132.7,333.7 134.1,339.6 135.5,337.5 137.0,340.5 138.3,336.7 139.8,339.5 141.2,337.2 142.5,339.5 143.7,337.5 145.4,342.2 147.1,338.0 148.9,341.5 150.1,337.9 151.7,341.3 153.5,337.3 155.0,339.7 156.5,339.9 158.2,343.8 159.6,341.4 161.1,345.4 162.4,342.4 163.9,344.8 165.6,342.6 166.9,346.3 168.5,341.2 170.0,345.8 171.5,344.5 173.0,349.1 174.5,344.8 175.9,344.8 177.1,343.4 178.4,348.7 179.8,345.6 181.3,351.5 183.0,352.4 184.4,349.6 185.7,346.1 187.4,351.0 188.8,347.9 190.1,352.1 191.6,348.6 193.0,352.9 194.2,351.3 195.6,354.7 197.1,351.4 198.6,354.9 199.8,356.1 201.4,354.2 203.1,351.6 204.4,354.4 205.7,352.9 206.9,357.2 208.5,358.2 210.2,355.8 211.8,359.7" fill="none" stroke="#2a8a48" stroke-width="1.30" stroke-linejoin="round"/>
<polyline points="27.0,279.6 28.3,273.7 30.0,273.5 31.3,273.4 32.8,274.3 34.3,273.0 35.5,275.3 37.1,267.2 38.8,283.9 40.2,280.2 41.5,276.4 42.9,275.6 44.5,279.1 46.3,279.5 48.0,285.7 49.2,284.9 51.0,291.5 52.7,286.3 54.4,291.9 55.8,291.6 57.1,296.2 58.7,294.8 60.3,299.7 62.0,296.3 63.3,300.9 65.1,299.3 66.3,304.2 67.6,302.3 69.4,304.8 71.0,305.0 72.4,309.6 74.1,306.2 75.9,311.6 77.5,311.2 78.8,313.7 80.4,313.7 82.0,318.5 83.5,315.8 85.1,318.2 86.8,315.0 88.1,320.5 89.7,317.7 91.1,321.3 92.5,314.2 94.1,319.4 95.5,321.2 96.9,332.1 98.6,318.4 100.3,322.9 101.6,319.2 103.0,327.0 104.8,324.7 106.4,326.3 108.2,326.6 109.4,328.6 110.7,336.8 112.0,337.2 113.8,326.6 115.4,332.2 116.7,329.0 117.9,335.2 119.2,329.6 120.4,334.3 121.9,330.4 123.5,337.0 125.1,333.7 126.7,337.0 128.4,332.6 130.2,336.8 131.5,334.6 132.9,338.7 134.3,338.6 136.1,341.6 137.5,340.6 138.9,341.6 140.5,338.5 141.7,344.8 143.4,338.5 144.8,344.6 146.0,340.5 147.6,343.7 149.3,340.8 150.8,344.5 152.3,344.2 153.8,342.3 155.4,341.7 156.9,345.1 158.3,342.1 160.1,345.6 161.5,345.0 162.8,346.2 164.3,342.8 165.9,349.3 167.5,343.6 169.1,347.0 170.3,345.6 171.6,347.0 172.8,345.7 174.0,351.5 175.4,341.0 177.2,348.3 178.8,346.8 180.2,352.5 181.7,351.7 183.5,352.5 185.0,345.9 186.8,351.3 188.2,348.0 189.8,353.0 191.2,357.4 192.7,355.4 194.0,353.0 195.7,358.1 197.0,354.5 198.5,357.5 200.1,352.9 201.8,357.7 203.4,354.6 204.9,357.2 206.1,356.3 207.6,360.5 209.3,361.1 210.9,356.9 212.2,359.3" fill="none" stroke="#45a858" stroke-width="1.30" stroke-linejoin="round"/>
<polyline points="27.0,281.2 28.7,273.5 30.4,276.8 31.7,273.7 33.3,275.8 34.8,274.9 36.5,273.3 38.1,273.7 39.6,283.6 41.4,273.6 43.1,281.6 44.8,276.7 46.5,286.5 47.9,289.3 49.6,292.1 51.3,288.7 52.6,290.8 53.8,289.3 55.1,294.5 56.5,294.4 57.8,297.0 59.1,296.2 60.8,299.2 62.2,297.7 63.7,303.0 65.4,299.7 67.1,306.8 68.4,302.7 70.1,308.8 71.8,307.3 73.1,310.2 74.4,307.8 76.1,314.6 77.6,312.5 79.1,317.1 80.7,314.7 82.2,320.6 83.6,316.7 85.2,320.1 86.5,316.7 88.1,321.4 89.7,324.9 91.3,322.6 93.1,314.0 94.5,321.0 96.0,326.2 97.2,330.9 98.9,327.6 100.2,323.9 101.9,320.7 103.6,326.7 105.3,324.5 106.9,330.1 108.7,328.7 109.9,332.0 111.4,333.8 112.9,330.9 114.1,329.3 115.7,335.0 117.2,331.3 119.0,333.3 120.3,333.1 122.0,335.5 123.2,334.1 124.5,341.1 126.0,333.4 127.6,340.4 129.2,333.9 130.8,340.2 132.5,336.0 134.2,343.4 135.4,338.7 136.7,343.3 138.1,347.0 139.4,341.6 140.9,341.4 142.2,346.0 143.8,341.5 145.3,346.0 146.6,341.6 147.9,345.6 149.5,342.9 151.0,348.3 152.4,341.3 154.2,343.6 156.0,340.6 157.7,348.8 159.1,342.0 160.7,348.7 162.2,345.1 163.8,345.5 165.3,347.2 166.8,349.6 168.3,344.1 169.8,349.6 171.6,351.8 173.0,350.6 174.7,344.4 176.2,346.0 177.5,344.8 179.0,352.9 180.3,348.1 182.1,352.3 183.5,350.2 185.0,352.2 186.6,347.8 188.0,353.6 189.4,350.2 190.9,354.7 192.1,352.5 193.8,357.5 195.3,354.2 196.6,358.3 198.3,354.2 199.8,357.9 201.4,354.9 202.7,360.4 204.2,354.6 205.8,358.8 207.5,358.7 208.8,358.5 210.1,353.9 211.3,358.3" fill="none" stroke="#78c47a" stroke-width="1.30" stroke-linejoin="round"/>
<polyline points="27.0,283.4 28.7,274.7 30.2,277.6 32.0,274.3 33.6,277.1 34.8,276.6 36.1,279.6 37.5,270.8 38.9,282.7 40.2,285.8 41.5,280.6 42.8,279.7 44.1,282.1 45.6,281.1 47.1,289.9 48.6,286.5 49.9,293.2 51.7,288.6 53.4,293.4 55.1,292.4 56.4,302.7 58.1,295.3 59.4,301.3 60.8,296.8 62.4,302.3 63.7,305.8 65.1,305.4 66.8,305.8 68.5,307.1 70.0,305.2 71.6,311.3 73.1,307.0 74.8,314.3 76.1,312.2 77.6,316.9 79.0,313.1 80.4,317.4 81.7,316.6 83.3,320.8 84.9,318.1 86.3,321.3 87.6,319.5 89.1,321.5 90.8,320.1 92.3,323.3 93.7,316.3 95.4,326.7 96.7,330.9 98.2,327.3 99.7,322.3 101.1,326.5 102.8,329.3 104.4,330.7 105.8,325.1 107.6,333.0 109.0,326.9 110.3,334.8 111.8,334.9 113.6,332.3 115.2,332.1 116.6,333.4 117.8,334.6 119.4,334.0 120.9,334.6 122.2,334.8 124.0,339.2 125.3,339.9 126.8,342.2 128.3,337.7 129.7,336.4 131.0,340.4 132.8,338.6 134.3,344.8 135.7,339.2 137.3,345.9 138.6,341.1 139.9,344.8 141.4,343.7 143.0,343.5 144.5,343.3 146.0,346.0 147.4,343.5 149.2,346.3 150.8,341.6 152.1,344.5 153.3,342.0 154.6,344.3 156.1,349.2 157.9,348.1 159.1,348.5 160.5,351.0 161.9,347.5 163.4,347.2 165.2,347.3 166.4,352.4 167.7,346.0 169.1,350.4 170.7,346.2 172.2,354.3 174.0,346.5 175.2,347.7 176.4,344.1 178.1,352.3 179.5,350.5 180.9,351.2 182.6,349.4 184.1,354.2 185.6,348.6 187.0,354.3 188.6,352.3 190.2,355.4 191.7,354.2 193.2,358.2 194.4,361.5 195.9,359.6 197.3,357.3 198.8,359.7 200.2,356.0 201.6,360.6 202.9,362.0 204.1,361.8 205.3,357.8 206.6,360.9 207.9,359.1 209.6,360.0 210.8,356.0 212.2,366.3" fill="none" stroke="#a5d99e" stroke-width="1.30" stroke-linejoin="round"/>
<polyline points="27.0,276.9 27.7,273.0 28.3,269.1 29.0,267.1 29.6,265.8 30.3,264.5 30.9,265.2 31.6,267.1 32.2,267.8 32.9,265.2 33.5,262.6 34.2,260.6 34.8,260.0 35.5,261.3 36.1,257.4 36.8,254.1 37.4,253.5 38.1,256.1 38.7,258.0 39.4,258.7 40.0,256.7 40.7,255.4 41.3,256.1 42.0,258.0 42.6,259.3 43.3,257.4 43.9,256.1 44.6,254.8 45.2,252.2 45.9,255.4 46.6,257.4 47.2,258.0 47.9,256.1 48.5,255.4 49.2,256.7 49.8,257.4 50.5,256.1 51.1,255.4 51.8,254.1 52.4,255.4 53.1,257.4 53.7,258.7 54.4,258.0 55.0,256.7 55.7,259.3 56.3,261.3 57.0,264.5 57.6,262.6 58.3,258.7 58.9,260.0 59.6,255.4 60.2,254.8 60.9,256.1 61.5,258.0 62.2,260.6 62.8,262.6 63.5,263.9 64.1,269.1 64.8,273.0 65.5,270.4 66.1,268.5 66.8,269.1 67.4,267.8 68.1,267.1 68.7,268.5 69.4,270.4 70.0,269.1 70.7,274.3 71.1,284.7 71.6,275.6 72.0,269.1 72.6,265.2 73.3,264.5 73.9,267.8 74.6,270.4 75.2,271.1 75.9,268.5 76.5,266.5 77.2,269.1 77.8,272.4 78.5,270.4 79.1,271.7 79.8,273.0 80.4,272.4 81.1,271.7 81.7,273.0 82.4,272.4 83.0,274.3 83.7,276.3 84.4,278.2 85.0,275.6 85.7,273.7 86.3,275.0 87.0,278.2 87.6,280.2 88.3,281.5 88.9,279.5 89.0,286.9 89.7,281.7 90.3,279.8 91.0,280.4 91.6,279.1 92.3,277.8 92.9,277.1 93.6,276.5 94.2,277.1 94.9,279.1 95.5,284.3 96.2,286.3 96.8,285.0 97.5,285.6 98.1,287.6 98.8,288.9 99.4,289.5 100.1,286.9 100.7,288.2 101.4,289.5 102.0,293.4 102.7,286.9 103.3,281.7 104.0,283.0 104.6,286.3 105.3,288.2 105.9,289.5 106.6,288.9 107.2,290.2 107.9,291.5 108.6,292.1 109.2,290.8 109.9,291.5 110.5,292.1 111.2,290.8 111.8,288.9 112.5,290.2 113.1,292.8 113.8,292.1 114.4,293.4 115.1,295.9 115.7,297.2 116.4,299.8 117.0,301.7 117.7,302.4 118.3,301.1 119.0,299.1 119.6,297.8 120.3,299.1 120.9,301.7 121.6,304.3 122.2,305.0 122.9,303.7 123.5,303.0 124.2,303.7 124.8,304.3 125.5,303.7 126.1,303.0 126.8,304.3 127.5,305.0 128.1,303.7 128.8,303.0 129.4,304.3 130.1,306.3 130.7,308.9 131.4,308.2 132.0,305.6 132.7,305.0 133.3,306.3 134.0,308.2 134.6,309.6 135.3,310.2 135.9,310.9 136.6,310.2 137.2,311.5 137.9,314.8 138.5,316.7 139.2,316.1 139.8,312.8 140.5,309.6 141.1,307.6 141.8,306.9 142.4,308.2 143.1,311.5 143.7,314.1 144.4,312.8 145.0,310.9 145.7,311.5 146.4,313.5 147.0,316.1 147.7,317.4 148.3,316.7 149.0,315.4 149.6,313.5 150.3,312.2 150.9,312.8 151.6,314.1 152.2,316.1 153.0,317.4 153.6,319.6 154.3,318.9 154.9,319.6 155.6,321.5 156.2,324.8 156.9,326.7 157.5,323.5 158.2,319.6 158.8,316.3 159.5,315.0 160.1,318.2 160.8,321.5 161.4,320.2 162.1,316.9 162.7,315.0 163.4,316.9 164.0,320.2 164.7,322.2 165.3,320.9 166.0,319.6 166.6,318.2 167.3,316.3 167.9,317.6 168.6,320.9 169.2,319.6 169.9,318.2 170.6,319.6 171.2,323.5 171.9,327.4 172.5,328.7 173.2,327.4 173.8,326.7 174.5,327.4 175.1,325.4 175.8,322.8 176.4,320.2 177.1,319.6 177.7,322.2 178.4,324.8 179.0,324.1 179.7,322.2 180.3,320.9 181.0,321.5 181.6,322.8 182.3,323.5 182.9,322.2 183.6,322.8 184.2,324.1 184.9,323.5 185.5,325.4 186.2,328.0 186.8,330.6 187.5,331.9 188.1,328.7 188.8,325.4 189.5,326.1 190.1,329.3 190.8,332.6 191.4,331.9 192.1,328.0 192.7,326.1 193.4,326.7 194.0,324.8 194.7,324.1 195.3,325.4 196.0,330.0 196.6,333.9 197.3,334.5 197.9,331.3 198.6,327.4 199.2,325.4 199.9,328.0 200.5,332.6 201.2,335.2 201.8,332.6 202.5,328.7 203.1,326.7 203.8,326.1 204.4,327.4 205.1,329.3 205.7,330.6 206.4,328.0 207.0,326.7 207.7,329.3 208.4,332.6 209.0,331.3 209.7,327.4 210.3,325.4 211.0,324.1 211.6,330.0 212.3,339.1 212.8,340.4" fill="none" stroke="#e0262a" stroke-width="1.35" stroke-linejoin="round"/>
<polyline points="27.0,256.1 27.4,250.9 28.0,249.6 28.7,248.9 29.3,249.6 30.0,248.2 30.6,247.6 31.3,246.9 32.0,249.6 32.6,248.9 33.3,250.2 33.9,245.6 34.6,242.4 35.2,241.7 35.9,243.0 36.5,244.3 37.2,243.7 37.8,243.0 38.5,243.7 39.1,244.3 39.8,243.7 40.4,245.0 41.1,243.0 41.7,242.4 42.4,243.0 43.0,243.7 43.7,243.0 44.3,242.4 45.0,241.7 45.6,243.7 46.3,245.0 46.9,244.3 47.6,245.6 48.2,243.7 48.9,243.0 49.5,242.4 50.2,243.7 50.9,243.0 51.5,243.7 52.2,245.0 52.8,244.3 53.5,245.6 54.1,246.9 54.8,248.2 55.4,249.6 56.1,248.9 56.7,246.3 57.4,244.3 58.0,243.0 58.7,243.7 59.3,246.3 60.0,248.2 60.6,249.6 61.3,248.9 61.9,246.9 62.6,246.3 63.2,246.9 63.9,247.6 64.5,245.6 65.2,241.7 65.8,241.1 66.5,244.3 67.1,245.0 67.8,246.3 68.4,245.6 69.1,246.9 69.8,248.2 70.4,247.6 71.1,248.9 71.7,249.6 72.4,250.9 73.0,250.2 73.7,251.5 74.3,252.2 75.0,250.2 75.6,250.9 76.3,252.8 76.9,253.5 77.6,251.5 78.2,250.2 78.9,248.2 79.5,249.6 80.2,250.9 80.8,248.9 81.5,249.6 82.1,252.2 82.8,254.1 83.4,252.2 84.1,251.5 84.7,250.9 85.4,252.2 86.0,255.4 86.7,258.0 87.3,256.7 88.0,253.5 88.7,252.2 89.0,253.0 89.7,251.7 90.3,250.4 91.0,249.1 91.6,249.8 92.3,251.7 92.9,253.0 93.6,255.0 94.2,253.7 94.9,253.0 95.5,255.0 96.2,256.3 96.8,254.3 97.5,253.0 98.1,255.6 98.8,260.9 99.4,264.8 100.1,262.2 100.7,256.9 101.4,254.3 102.0,253.0 102.7,254.3 103.3,259.6 104.0,264.1 104.6,262.8 105.3,259.6 105.9,258.2 106.6,259.6 107.2,260.2 107.9,259.6 108.6,261.5 109.2,263.5 109.9,265.4 110.5,264.1 111.2,262.8 111.8,264.1 112.5,263.5 113.1,262.8 113.8,264.1 114.4,265.4 115.1,266.7 115.7,265.4 116.4,264.1 117.0,262.8 117.7,262.2 118.3,262.8 119.0,264.1 119.6,270.0 120.3,274.5 120.9,271.3 121.6,268.0 122.2,267.4 122.9,268.0 123.5,268.7 124.2,267.4 124.8,268.0 125.5,269.3 126.1,268.7 126.8,271.3 127.5,271.9 128.1,269.3 128.8,267.4 129.4,268.0 130.1,270.0 130.7,268.7 131.4,267.4 132.0,270.6 132.7,267.4 133.3,266.7 134.0,269.3 134.6,273.2 135.3,276.5 135.9,272.6 136.6,269.3 137.2,268.0 137.9,267.4 138.5,268.7 139.2,270.0 139.8,270.6 140.5,269.3 141.1,268.0 141.8,268.7 142.4,270.0 143.1,272.6 143.7,273.2 144.4,271.9 145.0,271.3 145.7,270.6 146.4,271.3 147.0,272.6 147.7,274.5 148.3,276.5 149.0,278.5 149.6,280.4 150.3,279.8 150.9,277.8 151.6,275.2 152.2,273.9 153.0,273.2 153.6,273.2 154.3,273.9 154.9,274.6 155.6,274.3 156.2,273.9 156.9,274.6 157.5,275.9 158.2,277.2 158.8,278.5 159.5,280.4 160.1,282.4 160.8,284.3 161.4,285.0 162.1,283.0 162.7,280.4 163.4,278.5 164.0,277.2 164.7,275.9 165.3,275.2 166.0,275.9 166.6,276.5 167.3,277.2 167.9,279.1 168.6,281.1 169.2,282.4 169.9,281.1 170.6,281.7 171.2,283.7 171.9,285.0 172.5,285.6 173.2,285.2 173.8,285.6 174.5,285.0 175.1,281.1 175.8,278.5 176.4,280.4 177.1,284.3 177.7,286.3 178.4,284.3 179.0,282.4 179.7,283.0 180.3,281.7 181.0,280.4 181.6,281.7 182.3,283.0 182.9,282.4 183.6,284.3 184.2,287.6 184.9,290.2 185.5,292.1 186.2,292.8 186.8,293.5 187.5,294.1 188.1,290.8 188.8,287.6 189.5,288.2 190.1,290.2 190.8,288.2 191.4,286.9 192.1,285.6 192.7,285.0 193.4,287.6 194.0,291.5 194.7,294.8 195.3,296.7 196.0,295.4 196.6,294.1 197.3,294.8 197.9,296.7 198.6,298.7 199.2,300.0 199.9,296.7 200.5,293.5 201.2,291.5 201.8,290.2 202.5,289.5 203.1,291.5 203.8,294.1 204.4,296.7 205.1,298.0 205.7,297.4 206.4,296.7 207.0,296.1 207.7,297.4 208.4,300.0 209.0,303.2 209.7,304.5 210.3,303.9 211.0,304.5 211.6,305.2 212.3,303.9 213.0,303.2" fill="none" stroke="#3a7fc0" stroke-width="1.35" stroke-linejoin="round"/>
<path d="M27.00 384.30v-2.20M27.00 223.10v2.20M30.87 384.30v-1.30M30.87 223.10v1.30M34.73 384.30v-1.30M34.73 223.10v1.30M38.60 384.30v-1.30M38.60 223.10v1.30M42.47 384.30v-1.30M42.47 223.10v1.30M46.33 384.30v-1.30M46.33 223.10v1.30M50.20 384.30v-1.30M50.20 223.10v1.30M54.07 384.30v-1.30M54.07 223.10v1.30M57.93 384.30v-2.20M57.93 223.10v2.20M65.67 384.30v-1.30M65.67 223.10v1.30M73.40 384.30v-1.30M73.40 223.10v1.30M81.13 384.30v-1.30M81.13 223.10v1.30M88.87 384.30v-1.30M88.87 223.10v1.30M96.60 384.30v-2.20M96.60 223.10v2.20M104.33 384.30v-1.30M104.33 223.10v1.30M112.07 384.30v-1.30M112.07 223.10v1.30M119.80 384.30v-1.30M119.80 223.10v1.30M127.53 384.30v-1.30M127.53 223.10v1.30M135.27 384.30v-2.20M135.27 223.10v2.20M143.00 384.30v-1.30M143.00 223.10v1.30M150.73 384.30v-1.30M150.73 223.10v1.30M158.47 384.30v-1.30M158.47 223.10v1.30M166.20 384.30v-1.30M166.20 223.10v1.30M173.93 384.30v-2.20M173.93 223.10v2.20M181.67 384.30v-1.30M181.67 223.10v1.30M189.40 384.30v-1.30M189.40 223.10v1.30M197.13 384.30v-1.30M197.13 223.10v1.30M204.87 384.30v-1.30M204.87 223.10v1.30M212.60 384.30v-2.20M212.60 223.10v2.20M27.00 384.30h2.20M212.60 384.30h-2.20M27.00 352.06h2.20M212.60 352.06h-2.20M27.00 319.82h2.20M212.60 319.82h-2.20M27.00 287.58h2.20M212.60 287.58h-2.20M27.00 255.34h2.20M212.60 255.34h-2.20M27.00 223.10h2.20M212.60 223.10h-2.20" stroke="#555" stroke-width="0.6" fill="none"/>
<path d="M26.50 223.10H213.10M26.50 384.30H213.10" stroke="#6e6e6e" stroke-width="0.9" fill="none"/>
<path d="M27.00 223.10V384.30M212.60 223.10V384.30" stroke="#8c8c8c" stroke-width="0.9" fill="none"/>
<g font-size="8" fill="#3a3a3a"><text x="27.25" y="394.30" text-anchor="middle" letter-spacing="0.5">0.1</text><text x="58.18" y="394.30" text-anchor="middle" letter-spacing="0.5">0.5</text><text x="96.85" y="394.30" text-anchor="middle" letter-spacing="0.5">1.0</text><text x="135.52" y="394.30" text-anchor="middle" letter-spacing="0.5">1.5</text><text x="174.18" y="394.30" text-anchor="middle" letter-spacing="0.5">2.0</text><text x="212.85" y="394.30" text-anchor="middle" letter-spacing="0.5">2.5</text><text x="25.00" y="386.60" text-anchor="end" letter-spacing="0.6">-20</text><text x="25.00" y="354.36" text-anchor="end" letter-spacing="0.6">0</text><text x="25.00" y="322.12" text-anchor="end" letter-spacing="0.6">20</text><text x="25.00" y="289.88" text-anchor="end" letter-spacing="0.6">40</text><text x="25.00" y="257.64" text-anchor="end" letter-spacing="0.6">60</text><text x="25.00" y="225.40" text-anchor="end" letter-spacing="0.6">80</text></g>
<text x="119.80" y="404.70" text-anchor="middle" font-size="9" fill="#3a3a3a">Frequency in kHz</text>
<text transform="translate(8.70 303.70) rotate(-90)" text-anchor="middle" font-size="9.3" fill="#3a3a3a">PSD of pressure level in dB(A)/Hz</text>
<rect x="30.50" y="314.70" width="27.00" height="65.40" fill="#fff" stroke="#555" stroke-width="0.6"/>
<line x1="31.30" y1="319.40" x2="43.90" y2="319.40" stroke="#4f9473" stroke-width="2.00"/>
<text x="45.50" y="322.20" font-size="8.2" fill="#3a3a3a"><tspan font-style="italic">C</tspan><tspan font-size="5.4" dy="1.5">01</tspan></text>
<line x1="31.30" y1="328.75" x2="43.90" y2="328.75" stroke="#2f8c4e" stroke-width="1.20"/>
<text x="45.50" y="331.55" font-size="8.2" fill="#3a3a3a"><tspan font-style="italic">C</tspan><tspan font-size="5.4" dy="1.5">02</tspan></text>
<line x1="31.30" y1="338.10" x2="43.90" y2="338.10" stroke="#3f9f55" stroke-width="1.20"/>
<text x="45.50" y="340.90" font-size="8.2" fill="#3a3a3a"><tspan font-style="italic">C</tspan><tspan font-size="5.4" dy="1.5">03</tspan></text>
<line x1="31.30" y1="347.45" x2="43.90" y2="347.45" stroke="#7cc57c" stroke-width="1.40"/>
<text x="45.50" y="350.25" font-size="8.2" fill="#3a3a3a"><tspan font-style="italic">C</tspan><tspan font-size="5.4" dy="1.5">04</tspan></text>
<line x1="31.30" y1="356.80" x2="43.90" y2="356.80" stroke="#a8d9a0" stroke-width="1.40"/>
<text x="45.50" y="359.60" font-size="8.2" fill="#3a3a3a"><tspan font-style="italic">C</tspan><tspan font-size="5.4" dy="1.5">05</tspan></text>
<line x1="31.30" y1="366.15" x2="43.90" y2="366.15" stroke="#e02a2a" stroke-width="1.20"/>
<text x="45.50" y="368.95" font-size="8.2" fill="#3a3a3a"><tspan font-style="italic">P</tspan><tspan font-size="5.4" dy="1.5" font-style="italic">L</tspan></text>
<line x1="31.30" y1="375.50" x2="43.90" y2="375.50" stroke="#5a98cc" stroke-width="1.40"/>
<text x="45.50" y="378.30" font-size="8.2" fill="#3a3a3a"><tspan font-style="italic">P</tspan><tspan font-size="5.4" dy="1.5" font-style="italic">U</tspan></text>
<line x1="290.23" y1="223.10" x2="290.23" y2="384.30" stroke="#e6e6e6" stroke-width="0.6"/>
<line x1="328.90" y1="223.10" x2="328.90" y2="384.30" stroke="#e6e6e6" stroke-width="0.6"/>
<line x1="367.57" y1="223.10" x2="367.57" y2="384.30" stroke="#e6e6e6" stroke-width="0.6"/>
<line x1="406.23" y1="223.10" x2="406.23" y2="384.30" stroke="#e6e6e6" stroke-width="0.6"/>
<line x1="259.30" y1="352.06" x2="444.90" y2="352.06" stroke="#e6e6e6" stroke-width="0.6"/>
<line x1="259.30" y1="319.82" x2="444.90" y2="319.82" stroke="#e6e6e6" stroke-width="0.6"/>
<line x1="259.30" y1="287.58" x2="444.90" y2="287.58" stroke="#e6e6e6" stroke-width="0.6"/>
<line x1="259.30" y1="255.34" x2="444.90" y2="255.34" stroke="#e6e6e6" stroke-width="0.6"/>
<polyline points="259.0,266.3 259.7,267.6 260.3,268.9 261.0,267.0 261.6,266.3 262.3,267.6 262.9,268.3 263.6,267.0 264.2,265.7 264.9,267.0 265.5,268.3 266.2,268.9 266.8,267.6 267.5,266.3 268.1,265.7 268.8,267.6 269.4,269.6 270.1,270.2 270.7,269.6 271.4,270.2 272.0,270.9 272.7,271.5 273.3,270.9 274.0,270.2 274.6,271.5 275.3,272.2 275.9,270.9 276.6,270.2 277.2,271.5 277.9,270.2 278.6,268.9 279.2,270.2 279.9,272.8 280.5,275.4 281.2,278.0 281.8,279.3 282.5,278.7 283.1,277.4 283.8,276.7 284.4,277.4 285.1,276.1 285.7,275.4 286.4,276.7 287.0,278.7 287.7,280.6 288.3,281.9 289.0,283.2 289.6,284.6 290.3,285.9 290.9,287.2 291.6,285.9 292.2,284.6 292.9,285.2 293.5,284.6 294.2,285.2 294.8,286.5 295.5,285.9 296.1,284.6 296.8,285.2 297.5,287.2 298.1,288.5 298.8,287.8 299.4,287.2 300.1,285.9 300.7,285.2 301.4,286.5 302.0,287.8 302.7,289.1 303.3,288.5 304.0,289.8 304.6,291.7 305.3,293.0 305.9,293.7 306.6,294.3 307.2,295.6 307.9,298.2 308.5,298.9 309.2,295.0 309.8,290.4 310.5,288.5 311.1,289.8 311.8,292.4 312.4,293.0 313.1,294.3 313.7,295.0 314.4,297.6 315.0,300.2 315.7,302.8 316.4,304.1 317.0,300.8 317.7,298.2 318.3,300.2 319.0,301.5 319.6,302.8 320.3,302.1 320.9,301.5 321.7,303.5 322.3,304.1 323.0,304.4 323.6,303.9 324.3,303.1 324.9,302.2 325.6,301.8 326.2,302.8 326.9,305.4 327.5,307.4 328.2,308.0 328.8,307.4 329.5,308.0 330.1,309.3 330.8,308.7 331.4,307.4 332.1,306.7 332.7,306.1 333.4,305.4 334.0,305.2 334.7,306.1 335.3,307.4 336.0,308.7 336.6,310.0 337.3,311.9 337.9,315.9 338.6,318.5 339.2,319.8 339.9,318.5 340.6,316.5 341.2,315.2 341.9,316.5 342.5,318.5 343.2,319.1 343.8,317.2 344.5,314.6 345.1,313.9 345.8,315.9 346.4,318.5 347.1,319.1 347.7,317.8 348.4,319.8 349.0,321.7 349.7,320.4 350.3,318.5 351.0,319.8 351.6,321.1 352.3,321.7 352.9,321.1 353.6,320.4 354.2,319.8 354.9,318.5 355.5,319.8 356.2,322.4 356.8,324.3 357.5,323.7 358.1,321.7 358.8,320.4 359.5,321.1 360.1,322.4 360.8,323.0 361.4,323.7 362.1,325.0 362.7,325.6 363.4,324.3 364.0,325.0 364.7,328.2 365.3,331.5 366.0,332.8 366.6,329.5 367.3,326.9 367.9,325.6 368.6,324.3 369.2,325.0 369.9,327.6 370.5,329.5 371.2,328.2 371.8,326.3 372.5,325.6 373.1,326.9 373.8,328.9 374.4,330.2 375.1,329.5 375.7,327.6 376.4,326.3 377.0,326.9 377.7,329.5 378.4,330.8 379.0,329.5 379.7,328.2 380.3,329.5 381.0,331.5 381.6,332.8 382.3,333.5 382.9,332.8 383.0,333.0 383.7,332.4 384.3,331.7 385.0,331.1 385.6,331.7 386.3,331.1 386.9,330.4 387.6,329.8 388.2,330.4 388.9,332.4 389.5,334.3 390.2,333.7 390.8,333.0 391.5,333.7 392.1,335.0 392.8,335.6 393.4,334.3 394.1,333.7 394.7,335.0 395.4,336.3 396.0,335.0 396.7,334.3 397.3,335.0 398.0,336.3 398.6,337.6 399.3,338.2 399.9,336.3 400.6,334.3 401.2,332.4 401.9,330.4 402.6,329.1 403.2,330.4 403.9,333.0 404.5,334.3 405.2,335.0 405.8,335.6 406.5,336.9 407.1,338.2 407.8,336.9 408.4,336.3 409.1,336.9 409.7,338.2 410.4,338.9 411.0,339.6 411.7,338.9 412.3,339.6 413.0,340.9 413.6,341.5 414.3,340.2 414.9,340.9 415.6,342.2 416.2,342.8 416.9,343.5 417.5,344.1 418.2,344.8 418.8,345.4 419.5,344.8 420.1,343.5 420.8,342.2 421.5,340.9 422.1,339.6 422.8,337.6 423.4,339.6 424.1,342.2 424.7,343.5 425.4,344.8 426.0,344.1 426.7,343.5 427.3,342.8 428.0,340.9 428.6,338.9 429.3,338.2 429.9,342.2 430.6,346.1 431.2,347.4 431.9,345.4 432.5,344.1 433.2,344.8 433.8,346.1 434.5,345.4 435.1,344.8 435.8,346.1 436.4,345.4 437.1,344.8 437.7,346.1 438.4,346.7 439.0,348.0 439.7,347.4 440.4,348.7 441.0,349.3 441.7,348.0 442.3,347.4 443.0,348.7 443.6,350.0 444.3,348.0 445.0,346.7" fill="none" stroke="#1a6840" stroke-width="1.40" stroke-linejoin="round"/>
<polyline points="259.0,274.5 260.5,269.6 261.7,271.9 263.4,272.2 265.2,273.6 266.9,270.0 268.1,274.2 269.6,273.4 270.9,278.2 272.5,273.2 274.3,278.1 275.6,274.8 277.1,277.3 278.4,277.3 280.1,284.3 281.9,279.2 283.5,284.3 285.1,284.2 286.8,286.5 288.1,286.3 289.6,290.5 291.3,289.0 292.7,295.6 294.5,297.8 296.0,298.6 297.3,296.1 298.9,299.3 300.3,298.4 301.6,300.9 303.3,298.9 304.7,302.3 306.1,300.3 307.5,304.5 309.2,302.2 310.9,307.2 312.2,304.2 313.7,307.9 315.3,305.2 317.0,308.3 318.8,306.0 320.5,309.2 322.0,306.8 323.7,311.5 325.1,311.8 326.3,308.2 327.8,309.1 329.5,312.1 330.7,311.0 332.3,313.2 333.9,311.0 335.6,323.2 337.1,313.8 338.8,322.8 340.2,322.3 341.9,320.6 343.5,320.7 345.2,320.2 346.7,323.7 348.2,323.6 349.6,322.3 351.1,325.3 352.7,323.3 353.9,324.8 355.3,323.1 357.1,327.2 358.3,322.6 359.6,327.0 361.0,324.6 362.7,329.8 364.0,332.9 365.4,335.7 366.9,331.4 368.7,330.6 370.2,331.8 371.8,332.4 373.6,331.0 374.9,333.7 376.1,329.9 377.5,333.1 379.1,330.4 380.7,334.8 382.3,333.8 383.5,337.2 385.3,332.9 386.8,336.3 388.2,335.6 389.6,337.1 391.1,342.4 392.6,338.2 394.1,337.4 395.9,337.8 397.3,335.8 398.9,338.8 400.1,344.2 401.4,338.4 402.8,332.2 404.1,338.2 405.7,338.7 407.0,342.6 408.2,338.6 409.7,342.8 411.4,340.7 412.7,344.6 413.9,343.3 415.3,345.3 416.5,345.0 417.9,348.5 419.4,346.4 420.9,347.3 422.4,342.2 423.8,345.1 425.5,344.7 426.8,347.9 428.0,343.2 429.4,344.8 430.8,350.5 432.6,348.9 434.1,347.3 435.4,351.5 436.9,351.2 438.4,350.3 440.1,348.8 441.3,351.9 442.8,351.1 444.5,354.7" fill="none" stroke="#2a8a48" stroke-width="1.30" stroke-linejoin="round"/>
<polyline points="259.0,278.4 260.3,278.2 261.8,274.2 263.3,275.1 264.9,275.7 266.6,275.2 268.2,273.7 269.6,275.7 271.3,283.2 272.9,278.7 274.5,281.0 275.8,275.4 277.5,281.3 279.0,278.6 280.5,294.0 281.7,297.1 283.3,290.9 284.7,291.3 285.9,289.0 287.4,288.8 288.9,291.7 290.7,297.5 292.4,305.5 293.9,302.5 295.7,296.6 297.3,295.7 298.9,297.6 300.5,300.9 302.1,303.0 303.8,302.4 305.6,310.0 307.0,304.2 308.3,309.5 309.8,311.3 311.3,311.2 312.9,306.7 314.7,309.5 316.2,305.9 317.6,311.2 319.3,306.4 320.6,310.9 322.2,309.6 323.6,315.7 325.1,313.8 326.8,313.0 328.5,310.7 330.1,313.0 331.8,314.1 333.1,318.0 334.9,325.1 336.3,325.6 337.6,317.4 339.1,326.1 340.3,327.4 341.5,325.4 343.2,320.9 344.7,325.6 346.2,326.3 347.7,326.7 349.4,323.9 351.1,329.9 352.4,324.9 353.9,326.0 355.3,326.5 356.8,326.3 358.5,326.4 359.8,330.2 361.2,332.1 362.9,330.6 364.3,332.2 366.0,339.4 367.4,332.0 369.0,333.2 370.7,335.1 372.3,334.3 373.7,333.2 375.2,335.3 376.6,337.4 378.2,334.9 379.7,331.9 381.0,336.8 382.8,335.2 384.2,339.2 386.0,334.5 387.3,340.4 389.0,331.9 390.8,346.8 392.4,335.9 393.8,343.6 395.2,338.0 396.4,338.0 398.1,335.2 399.6,343.4 400.9,344.7 402.3,336.9 404.1,337.6 405.7,344.6 406.9,344.2 408.2,342.6 409.5,341.9 410.9,347.0 412.1,343.6 413.7,347.9 415.0,345.7 416.4,349.0 417.8,345.9 419.1,351.0 420.4,344.0 421.7,347.4 423.4,344.1 424.7,348.3 425.9,345.9 427.6,350.0 429.4,344.7 430.9,356.4 432.3,348.7 433.5,351.9 434.8,352.0 436.3,352.2 437.8,347.3 439.5,351.5 440.8,351.3 442.3,355.5 443.9,357.4" fill="none" stroke="#45a858" stroke-width="1.30" stroke-linejoin="round"/>
<polyline points="259.0,277.4 260.5,274.4 262.2,278.1 263.7,275.2 265.0,277.7 266.3,274.9 268.0,276.5 269.3,280.6 271.0,282.6 272.7,280.3 274.1,282.1 275.4,276.8 276.8,281.0 278.1,280.2 279.5,285.4 281.0,295.1 282.8,292.0 284.1,293.5 285.9,289.6 287.6,294.9 289.3,295.5 291.0,299.9 292.7,307.0 293.9,309.6 295.2,299.4 296.4,296.9 298.2,300.6 299.9,300.0 301.4,307.3 302.6,301.2 303.9,306.3 305.3,307.2 306.8,307.9 308.2,314.2 309.5,309.9 311.1,309.0 312.8,310.3 314.2,308.8 315.6,310.3 317.2,309.3 318.7,312.6 320.5,308.6 321.8,313.2 323.2,314.2 324.8,320.0 326.1,309.4 327.8,315.2 329.3,311.8 330.8,317.7 332.5,316.1 333.8,322.6 335.2,330.1 337.0,321.3 338.4,322.3 340.0,330.1 341.5,322.4 343.1,324.5 344.8,322.7 346.0,330.0 347.7,324.0 349.2,326.5 350.7,326.7 352.4,330.2 354.1,325.3 355.3,330.3 357.0,326.3 358.4,329.7 359.7,329.4 361.2,332.1 362.5,333.2 364.1,337.8 365.7,337.2 366.9,338.1 368.4,332.2 369.6,336.5 370.9,336.2 372.3,335.6 373.8,334.4 375.1,337.8 376.3,333.3 377.6,337.7 378.9,332.4 380.7,337.9 382.2,335.3 383.9,343.3 385.3,340.9 386.9,341.6 388.2,341.1 389.4,338.3 391.1,340.6 392.5,339.8 394.0,342.2 395.4,343.6 397.1,338.0 398.3,340.2 399.9,349.3 401.3,345.1 403.0,335.5 404.8,343.5 406.1,350.3 407.4,349.2 408.9,341.9 410.6,350.7 411.8,342.6 413.0,347.3 414.4,347.6 415.6,349.3 417.3,348.8 419.0,351.8 420.3,347.0 421.5,348.1 423.0,346.1 424.3,349.8 425.9,346.2 427.7,352.8 429.2,346.3 430.9,358.7 432.6,349.4 434.2,353.2 435.5,354.3 437.0,352.2 438.5,349.4 439.7,355.3 441.0,352.0 442.3,356.0 443.7,359.8" fill="none" stroke="#78c47a" stroke-width="1.30" stroke-linejoin="round"/>
<polyline points="259.0,278.0 260.2,276.7 261.9,276.7 263.5,277.7 264.8,277.6 266.4,277.8 268.1,276.5 269.6,279.0 271.0,283.3 272.7,281.6 274.3,282.8 276.0,277.0 277.3,284.7 278.7,281.3 280.0,291.2 281.2,296.2 283.0,296.0 284.2,294.4 285.7,291.8 287.0,292.0 288.8,294.1 290.6,301.3 292.3,308.6 293.7,305.3 295.0,301.3 296.6,298.3 298.1,300.9 299.8,300.1 301.0,307.2 302.7,302.2 304.4,308.9 305.8,306.9 307.3,309.3 308.7,310.2 310.0,311.7 311.8,309.8 313.5,313.2 314.9,313.8 316.2,312.2 317.8,311.6 319.3,312.4 320.5,309.9 321.8,314.2 323.6,320.5 324.9,321.2 326.3,311.0 328.0,318.1 329.3,318.7 330.9,317.9 332.4,322.1 334.1,324.1 335.3,335.3 337.0,322.8 338.3,321.6 339.9,331.8 341.5,324.1 342.9,323.6 344.2,325.9 345.7,328.1 346.9,328.2 348.5,326.0 350.1,327.2 351.9,331.6 353.1,326.1 354.6,330.4 356.0,328.2 357.4,328.7 359.1,329.2 360.6,332.5 361.8,328.5 363.5,335.5 365.0,336.5 366.6,340.6 368.0,338.2 369.7,339.2 371.5,335.6 372.9,337.7 374.1,337.2 375.8,336.1 377.5,335.7 379.1,337.0 380.6,334.3 381.8,339.7 383.1,337.7 384.6,340.8 386.1,337.4 387.6,340.8 389.1,333.8 390.5,346.7 392.2,338.1 393.9,346.4 395.7,338.9 397.3,343.6 398.8,337.8 400.0,348.8 401.7,340.5 403.3,340.4 405.0,346.2 406.6,349.0 408.4,346.4 410.1,348.8 411.6,345.0 413.3,349.3 415.0,347.6 416.8,353.4 418.2,349.2 419.6,354.0 421.3,345.3 422.6,350.5 423.8,346.5 425.5,349.5 427.2,351.0 428.8,350.8 430.5,355.5 432.2,354.7 433.9,350.3 435.3,358.2 436.8,351.3 438.0,354.2 439.5,349.8 441.0,357.8 442.7,356.8 444.0,362.1" fill="none" stroke="#a5d99e" stroke-width="1.30" stroke-linejoin="round"/>
<polyline points="259.0,266.7 259.7,262.8 260.3,259.5 261.0,256.9 261.6,255.6 262.3,254.3 262.9,253.0 263.6,251.7 264.2,251.1 264.9,251.7 265.5,254.3 266.2,255.6 266.8,254.3 267.5,251.7 268.1,249.8 268.8,250.4 269.4,251.7 270.1,249.8 270.7,248.5 271.4,249.1 272.0,251.1 272.7,252.4 273.3,251.7 274.0,250.4 274.6,249.1 275.3,249.8 275.9,251.1 276.6,251.7 277.2,252.4 277.9,250.4 278.6,249.1 279.2,248.5 279.9,247.8 280.5,249.1 281.2,250.4 281.8,251.1 282.5,252.4 283.1,254.3 283.8,255.6 284.4,253.7 285.1,251.7 285.7,251.1 286.4,252.4 287.0,253.7 287.7,253.0 288.3,251.1 289.0,249.1 289.6,247.8 290.3,247.2 290.9,249.1 291.6,251.1 292.2,253.0 292.9,251.7 293.5,250.4 294.2,249.8 294.8,250.4 295.5,251.1 296.1,251.7 296.8,251.1 297.5,250.4 298.1,249.8 298.8,250.4 299.4,251.1 300.1,251.7 300.7,252.4 301.4,253.7 302.0,255.0 302.7,256.3 303.3,255.6 304.0,255.0 304.6,254.3 305.3,255.0 305.9,255.6 306.6,256.3 307.2,256.9 307.9,256.3 308.5,256.9 309.2,258.2 309.8,258.9 310.5,258.2 311.1,259.5 311.8,260.2 312.4,259.5 313.1,257.6 313.7,255.6 314.4,254.3 315.0,253.7 315.7,254.3 316.4,255.0 317.0,255.6 317.7,256.9 318.3,258.2 319.0,258.9 319.6,259.5 320.3,260.8 320.9,262.1 321.0,261.3 321.7,260.6 322.3,259.3 323.0,258.7 323.6,258.0 324.3,258.4 324.9,258.7 325.6,258.0 326.2,257.4 326.9,257.1 327.5,257.4 328.2,258.0 328.8,259.3 329.5,261.3 330.1,263.9 330.8,265.2 331.4,265.8 332.1,266.5 332.7,265.8 333.4,265.2 334.0,264.5 334.7,263.9 335.3,263.2 336.0,262.6 336.6,262.3 337.3,261.9 337.9,262.6 338.6,263.2 339.2,262.6 339.9,262.3 340.6,262.8 341.2,263.2 341.9,263.6 342.5,264.2 343.2,265.2 343.8,266.5 344.5,267.8 345.1,268.5 345.8,268.8 346.4,269.1 347.1,269.4 347.7,269.1 348.4,268.8 349.0,268.5 349.7,268.1 350.3,267.8 351.0,268.1 351.6,267.8 352.3,267.5 352.9,267.1 353.6,267.8 354.2,269.1 354.9,270.4 355.5,271.7 356.2,272.8 356.8,273.7 357.5,274.1 358.1,273.7 358.8,273.3 359.5,273.7 360.1,273.0 360.8,272.4 361.4,271.7 362.1,271.4 362.7,271.1 363.4,271.4 364.0,271.7 364.7,272.0 365.3,272.4 366.0,273.0 366.6,273.7 367.3,274.3 367.9,274.6 368.6,275.0 369.2,275.4 369.9,275.6 370.5,275.4 371.2,275.6 371.8,275.9 372.5,276.3 373.1,276.7 373.8,276.9 374.4,276.7 375.1,276.3 375.7,276.7 376.4,276.9 377.0,276.7 377.7,276.4 378.4,276.3 379.0,276.7 379.7,276.9 380.3,277.2 381.0,277.6 381.6,278.2 382.3,278.9 382.9,279.5 383.0,278.5 383.7,279.1 384.3,280.4 385.0,281.1 385.6,281.3 386.3,281.1 386.9,281.7 387.6,281.1 388.2,280.4 388.9,279.8 389.5,279.1 390.2,279.1 390.8,279.5 391.5,279.1 392.1,279.8 392.8,280.4 393.4,281.1 394.1,281.7 394.7,282.4 395.4,283.0 396.0,283.7 396.7,284.3 397.3,285.0 398.0,285.2 398.6,285.0 399.3,284.3 399.9,283.9 400.6,284.3 401.2,285.0 401.9,284.7 402.6,284.3 403.2,283.9 403.9,284.3 404.5,285.0 405.2,285.6 405.8,286.3 406.5,286.9 407.1,287.3 407.8,287.8 408.4,288.2 409.1,288.4 409.7,288.2 410.4,288.4 411.0,288.6 411.7,288.2 412.3,288.0 413.0,288.2 413.6,288.4 414.3,288.2 414.9,288.0 415.6,288.2 416.2,288.6 416.9,289.2 417.5,289.5 418.2,290.2 418.8,290.8 419.5,291.2 420.1,291.5 420.8,292.1 421.5,292.5 422.1,292.8 422.8,292.5 423.4,292.1 424.1,292.5 424.7,292.8 425.4,292.8 426.0,292.5 426.7,292.5 427.3,292.8 428.0,292.8 428.6,293.1 429.3,293.5 429.9,293.8 430.6,294.1 431.2,294.8 431.9,295.4 432.5,296.1 433.2,296.4 433.8,296.7 434.5,296.4 435.1,296.7 435.8,296.4 436.4,296.2 437.1,296.4 437.7,296.7 438.4,296.1 439.0,295.7 439.7,295.4 440.4,295.7 441.0,296.1 441.7,296.7 442.3,297.4 443.0,298.0 443.6,298.7 444.3,299.3 445.0,300.0" fill="none" stroke="#e0262a" stroke-width="1.35" stroke-linejoin="round"/>
<polyline points="259.0,255.0 259.7,254.3 260.3,253.7 261.0,253.0 261.6,252.4 262.3,253.0 262.9,251.1 263.6,247.8 264.2,243.2 264.9,240.6 265.5,244.6 266.2,245.9 266.8,243.2 267.5,241.9 268.1,244.6 268.8,247.2 269.4,245.2 270.1,243.2 270.7,244.6 271.4,239.3 272.0,236.1 272.7,234.8 273.3,236.7 274.0,238.7 274.6,240.6 275.3,239.3 275.9,243.2 276.6,245.2 277.2,243.9 277.9,243.2 278.6,240.6 279.2,238.0 279.9,236.7 280.5,238.0 281.2,240.6 281.8,239.3 282.5,238.0 283.1,240.0 283.8,243.2 284.4,239.3 285.1,236.7 285.7,236.1 286.4,238.0 287.0,241.3 287.7,243.2 288.3,238.7 289.0,235.4 289.6,234.1 290.3,236.7 290.9,240.0 291.6,241.3 292.2,240.6 292.9,239.3 293.5,238.0 294.2,240.0 294.8,242.6 295.5,241.9 296.1,239.3 296.8,236.7 297.5,235.4 298.1,238.0 298.8,241.3 299.4,243.2 300.1,245.9 300.7,243.9 301.4,241.9 302.0,244.6 302.7,247.8 303.3,245.9 304.0,244.6 304.6,243.2 305.3,242.6 305.9,241.3 306.6,240.6 307.2,241.9 307.9,241.3 308.5,242.6 309.2,243.9 309.8,241.9 310.5,241.3 311.1,243.2 311.8,242.6 312.4,241.3 313.1,241.9 313.7,242.6 314.4,243.9 315.0,243.2 315.7,241.9 316.4,242.6 317.0,244.6 317.7,245.2 318.3,243.9 319.0,244.6 319.6,246.5 320.3,248.5 320.9,250.4 321.0,248.2 321.7,251.5 322.3,254.1 323.0,252.2 323.6,250.2 324.3,249.6 324.9,250.9 325.6,249.6 326.2,248.9 326.9,249.6 327.5,248.2 328.2,246.9 328.8,245.6 329.5,244.3 330.1,245.6 330.8,248.2 331.4,250.2 332.1,248.9 332.7,246.9 333.4,243.7 334.0,241.7 334.7,243.0 335.3,246.9 336.0,249.6 336.6,248.2 337.3,246.9 337.9,247.6 338.6,246.3 339.2,246.3 339.9,246.9 340.6,246.3 341.2,247.6 341.9,249.6 342.5,252.2 343.2,255.4 343.8,258.0 344.5,254.1 345.1,250.9 345.8,250.2 346.4,250.9 347.1,251.5 347.7,252.2 348.4,251.5 349.0,253.5 349.7,254.8 350.3,256.1 351.0,258.0 351.6,254.1 352.3,253.5 352.9,255.4 353.6,258.0 354.2,256.1 354.9,257.4 355.5,261.9 356.2,256.1 356.8,254.8 357.5,255.4 358.1,254.8 358.8,254.1 359.5,255.4 360.1,253.5 360.8,252.8 361.4,254.1 362.1,256.1 362.7,258.0 363.4,260.6 364.0,265.2 364.7,260.0 365.3,257.4 366.0,263.2 366.6,267.8 367.3,262.6 367.9,258.0 368.6,258.7 369.2,259.3 369.9,258.0 370.5,259.3 371.2,261.9 371.8,263.9 372.5,266.5 373.1,265.8 373.8,265.2 374.4,266.5 375.1,265.8 375.7,265.2 376.4,263.9 377.0,261.9 377.7,260.6 378.4,261.3 379.0,262.6 379.7,263.9 380.3,265.2 381.0,266.5 381.6,265.8 382.3,264.5 382.9,263.2 383.0,261.5 383.7,262.2 384.3,263.5 385.0,266.1 385.6,268.0 386.3,269.3 386.9,268.7 387.6,266.7 388.2,264.1 388.9,262.8 389.5,263.5 390.2,264.8 390.8,265.4 391.5,266.1 392.1,267.4 392.8,269.3 393.4,272.6 394.1,274.6 394.7,270.6 395.4,267.4 396.0,268.0 396.7,270.0 397.3,271.9 398.0,270.6 398.6,269.3 399.3,268.0 399.9,269.3 400.6,275.9 401.2,286.3 401.9,278.5 402.6,271.9 403.2,270.0 403.9,270.6 404.5,271.3 405.2,271.9 405.8,271.3 406.5,273.2 407.1,276.5 407.8,279.1 408.4,281.7 409.1,279.8 409.7,277.8 410.4,276.5 411.0,275.2 411.7,273.9 412.3,273.2 413.0,274.6 413.6,275.9 414.3,275.2 414.9,273.9 415.6,272.6 416.2,271.3 416.9,270.6 417.5,271.3 418.2,271.9 418.8,272.6 419.5,273.9 420.1,275.9 420.8,277.2 421.5,275.9 422.1,274.6 422.8,276.5 423.4,279.1 424.1,277.8 424.7,275.9 425.4,275.2 426.0,277.2 426.7,284.3 427.3,281.1 428.0,277.8 428.6,276.5 429.3,277.2 429.9,278.5 430.6,279.8 431.2,281.1 431.9,282.4 432.5,285.0 433.2,283.7 433.8,281.1 434.5,280.4 435.1,281.7 435.8,283.0 436.4,284.3 437.1,285.6 437.7,283.7 438.4,280.4 439.0,279.1 439.7,285.0 440.4,289.5 441.0,285.0 441.7,278.5 442.3,276.5 443.0,277.8 443.6,282.4 444.3,287.6 445.0,290.2" fill="none" stroke="#3a7fc0" stroke-width="1.35" stroke-linejoin="round"/>
<path d="M259.30 384.30v-2.20M259.30 223.10v2.20M263.17 384.30v-1.30M263.17 223.10v1.30M267.03 384.30v-1.30M267.03 223.10v1.30M270.90 384.30v-1.30M270.90 223.10v1.30M274.77 384.30v-1.30M274.77 223.10v1.30M278.63 384.30v-1.30M278.63 223.10v1.30M282.50 384.30v-1.30M282.50 223.10v1.30M286.37 384.30v-1.30M286.37 223.10v1.30M290.23 384.30v-2.20M290.23 223.10v2.20M297.97 384.30v-1.30M297.97 223.10v1.30M305.70 384.30v-1.30M305.70 223.10v1.30M313.43 384.30v-1.30M313.43 223.10v1.30M321.17 384.30v-1.30M321.17 223.10v1.30M328.90 384.30v-2.20M328.90 223.10v2.20M336.63 384.30v-1.30M336.63 223.10v1.30M344.37 384.30v-1.30M344.37 223.10v1.30M352.10 384.30v-1.30M352.10 223.10v1.30M359.83 384.30v-1.30M359.83 223.10v1.30M367.57 384.30v-2.20M367.57 223.10v2.20M375.30 384.30v-1.30M375.30 223.10v1.30M383.03 384.30v-1.30M383.03 223.10v1.30M390.77 384.30v-1.30M390.77 223.10v1.30M398.50 384.30v-1.30M398.50 223.10v1.30M406.23 384.30v-2.20M406.23 223.10v2.20M413.97 384.30v-1.30M413.97 223.10v1.30M421.70 384.30v-1.30M421.70 223.10v1.30M429.43 384.30v-1.30M429.43 223.10v1.30M437.17 384.30v-1.30M437.17 223.10v1.30M444.90 384.30v-2.20M444.90 223.10v2.20M259.30 384.30h2.20M444.90 384.30h-2.20M259.30 352.06h2.20M444.90 352.06h-2.20M259.30 319.82h2.20M444.90 319.82h-2.20M259.30 287.58h2.20M444.90 287.58h-2.20M259.30 255.34h2.20M444.90 255.34h-2.20M259.30 223.10h2.20M444.90 223.10h-2.20" stroke="#555" stroke-width="0.6" fill="none"/>
<path d="M258.80 223.10H445.40M258.80 384.30H445.40" stroke="#6e6e6e" stroke-width="0.9" fill="none"/>
<path d="M259.30 223.10V384.30M444.90 223.10V384.30" stroke="#8c8c8c" stroke-width="0.9" fill="none"/>
<g font-size="8" fill="#3a3a3a"><text x="259.55" y="394.30" text-anchor="middle" letter-spacing="0.5">0.1</text><text x="290.48" y="394.30" text-anchor="middle" letter-spacing="0.5">0.5</text><text x="329.15" y="394.30" text-anchor="middle" letter-spacing="0.5">1.0</text><text x="367.82" y="394.30" text-anchor="middle" letter-spacing="0.5">1.5</text><text x="406.48" y="394.30" text-anchor="middle" letter-spacing="0.5">2.0</text><text x="445.15" y="394.30" text-anchor="middle" letter-spacing="0.5">2.5</text><text x="257.30" y="386.60" text-anchor="end" letter-spacing="0.6">-20</text><text x="257.30" y="354.36" text-anchor="end" letter-spacing="0.6">0</text><text x="257.30" y="322.12" text-anchor="end" letter-spacing="0.6">20</text><text x="257.30" y="289.88" text-anchor="end" letter-spacing="0.6">40</text><text x="257.30" y="257.64" text-anchor="end" letter-spacing="0.6">60</text><text x="257.30" y="225.40" text-anchor="end" letter-spacing="0.6">80</text></g>
<text x="352.10" y="404.70" text-anchor="middle" font-size="9" fill="#3a3a3a">Frequency in kHz</text>
<text transform="translate(241.00 303.70) rotate(-90)" text-anchor="middle" font-size="9.3" fill="#3a3a3a">PSD of pressure level in dB(A)/Hz</text>
<rect x="262.80" y="314.70" width="27.00" height="65.40" fill="#fff" stroke="#555" stroke-width="0.6"/>
<line x1="263.60" y1="319.40" x2="276.20" y2="319.40" stroke="#4f9473" stroke-width="2.00"/>
<text x="277.80" y="322.20" font-size="8.2" fill="#3a3a3a"><tspan font-style="italic">C</tspan><tspan font-size="5.4" dy="1.5">01</tspan></text>
<line x1="263.60" y1="328.75" x2="276.20" y2="328.75" stroke="#2f8c4e" stroke-width="1.20"/>
<text x="277.80" y="331.55" font-size="8.2" fill="#3a3a3a"><tspan font-style="italic">C</tspan><tspan font-size="5.4" dy="1.5">02</tspan></text>
<line x1="263.60" y1="338.10" x2="276.20" y2="338.10" stroke="#3f9f55" stroke-width="1.20"/>
<text x="277.80" y="340.90" font-size="8.2" fill="#3a3a3a"><tspan font-style="italic">C</tspan><tspan font-size="5.4" dy="1.5">03</tspan></text>
<line x1="263.60" y1="347.45" x2="276.20" y2="347.45" stroke="#7cc57c" stroke-width="1.40"/>
<text x="277.80" y="350.25" font-size="8.2" fill="#3a3a3a"><tspan font-style="italic">C</tspan><tspan font-size="5.4" dy="1.5">04</tspan></text>
<line x1="263.60" y1="356.80" x2="276.20" y2="356.80" stroke="#a8d9a0" stroke-width="1.40"/>
<text x="277.80" y="359.60" font-size="8.2" fill="#3a3a3a"><tspan font-style="italic">C</tspan><tspan font-size="5.4" dy="1.5">05</tspan></text>
<line x1="263.60" y1="366.15" x2="276.20" y2="366.15" stroke="#e02a2a" stroke-width="1.20"/>
<text x="277.80" y="368.95" font-size="8.2" fill="#3a3a3a"><tspan font-style="italic">P</tspan><tspan font-size="5.4" dy="1.5" font-style="italic">L</tspan></text>
<line x1="263.60" y1="375.50" x2="276.20" y2="375.50" stroke="#5a98cc" stroke-width="1.40"/>
<text x="277.80" y="378.30" font-size="8.2" fill="#3a3a3a"><tspan font-style="italic">P</tspan><tspan font-size="5.4" dy="1.5" font-style="italic">U</tspan></text>
<line x1="522.33" y1="223.10" x2="522.33" y2="384.30" stroke="#e6e6e6" stroke-width="0.6"/>
<line x1="561.00" y1="223.10" x2="561.00" y2="384.30" stroke="#e6e6e6" stroke-width="0.6"/>
<line x1="599.67" y1="223.10" x2="599.67" y2="384.30" stroke="#e6e6e6" stroke-width="0.6"/>
<line x1="638.33" y1="223.10" x2="638.33" y2="384.30" stroke="#e6e6e6" stroke-width="0.6"/>
<line x1="491.40" y1="352.06" x2="677.00" y2="352.06" stroke="#e6e6e6" stroke-width="0.6"/>
<line x1="491.40" y1="319.82" x2="677.00" y2="319.82" stroke="#e6e6e6" stroke-width="0.6"/>
<line x1="491.40" y1="287.58" x2="677.00" y2="287.58" stroke="#e6e6e6" stroke-width="0.6"/>
<line x1="491.40" y1="255.34" x2="677.00" y2="255.34" stroke="#e6e6e6" stroke-width="0.6"/>
<polyline points="492.3,261.5 493.5,262.3 494.8,261.7 496.1,260.8 497.2,264.9 498.4,261.2 500.0,263.5 501.6,263.9 503.0,265.6 504.6,263.8 505.8,266.5 507.4,265.9 508.9,267.4 510.4,266.3 511.8,270.6 512.9,267.8 514.5,271.7 515.7,270.7 516.9,273.0 518.2,276.0 519.3,275.7 520.7,274.7 522.2,276.9 523.7,276.1 524.9,279.5 526.4,278.2 527.7,279.5 528.9,278.5 530.1,280.5 531.3,283.2 532.5,282.3 534.1,281.3 535.7,283.6 537.1,282.3 538.5,286.0 539.8,288.6 541.0,286.6 542.2,283.9 543.7,286.0 545.4,285.8 547.0,291.0 548.5,287.6 550.0,289.6 551.3,291.9 552.9,287.4 554.3,286.8 555.9,289.6 557.3,287.6 558.7,292.8 559.9,290.6 561.1,295.6 562.4,293.6 564.0,295.4 565.4,291.8 566.7,293.1 568.1,291.0 569.5,294.4 571.1,294.2 572.5,296.7 573.6,294.5 575.1,297.8 576.7,297.6 578.3,299.7 579.4,299.0 581.0,302.1 582.3,301.4 583.6,304.1 585.2,304.6 586.4,307.9 587.7,305.4 589.1,308.0 590.6,307.5 591.9,312.3 593.0,310.5 594.4,311.4 595.6,310.8 596.8,315.4 598.5,312.0 599.7,314.1 601.0,312.1 602.2,311.7 603.5,308.7 604.9,313.0 606.5,309.1 607.8,312.7 609.1,313.3 610.5,314.8 612.1,314.2 613.5,317.6 614.9,316.5 616.2,320.1 617.5,323.5 618.6,324.3 620.1,322.4 621.6,323.5 622.9,321.2 624.4,325.6 625.5,324.9 626.8,327.7 628.1,326.2 629.8,330.7 631.3,328.8 632.7,330.8 633.8,327.3 635.1,330.9 636.6,329.7 637.9,332.1 639.6,331.8 641.0,335.5 642.2,331.9 643.5,334.5 644.7,333.0 645.9,335.5 647.5,334.7 648.8,337.3 649.9,335.4 651.3,337.2 652.4,336.5 653.7,338.4 655.3,336.0 656.9,338.9 658.2,337.4 659.7,341.2 661.2,338.5 662.3,339.6 663.8,339.4 665.2,342.1 666.7,339.2 668.2,339.6 669.5,337.8 671.1,342.2 672.2,339.8 673.9,341.3 675.2,339.9 676.6,341.8" fill="none" stroke="#1a6840" stroke-width="1.40" stroke-linejoin="round"/>
<polyline points="492.3,266.7 493.5,263.2 495.1,265.6 496.7,268.0 498.1,266.3 499.4,265.9 501.0,269.4 502.3,268.3 503.8,271.9 504.9,269.0 506.5,273.2 507.7,270.9 509.3,274.9 510.9,271.2 512.4,274.9 514.1,273.8 515.2,278.1 516.6,275.1 518.0,279.8 519.5,277.3 520.9,282.4 522.5,276.7 523.9,281.7 525.2,286.5 526.6,283.9 528.1,282.3 529.8,289.1 531.0,285.0 532.6,288.8 534.2,287.8 535.8,293.7 537.1,290.4 538.5,293.6 539.8,291.3 541.5,294.9 543.0,292.6 544.3,297.0 545.5,295.1 546.8,298.3 548.2,296.1 549.5,300.0 550.9,296.2 552.3,301.1 553.9,295.9 555.1,300.5 556.5,297.6 557.8,302.5 559.0,299.2 560.6,304.0 562.2,307.8 563.6,306.2 565.1,303.0 566.7,309.0 567.9,304.8 569.1,308.1 570.6,306.2 571.7,309.9 573.1,307.4 574.7,312.6 575.8,309.1 577.5,314.9 578.9,310.9 580.0,314.0 581.2,312.2 582.5,316.1 583.7,313.4 585.2,317.4 586.9,316.0 588.3,320.4 589.5,316.7 590.6,321.0 592.1,314.4 593.6,320.8 595.0,317.4 596.4,319.9 598.0,318.2 599.3,322.9 600.5,320.5 602.0,324.3 603.2,321.4 604.7,325.8 606.1,323.2 607.5,327.7 609.1,321.1 610.3,326.9 611.7,330.7 613.3,324.2 614.9,324.0 616.3,329.0 617.9,324.9 619.2,330.8 620.4,326.5 622.0,331.1 623.5,328.7 624.6,330.7 626.0,329.0 627.5,333.9 628.7,331.3 630.1,332.9 631.6,335.2 632.9,334.8 634.5,332.2 636.1,335.8 637.3,334.0 638.8,338.4 640.0,335.4 641.2,339.8 642.6,338.2 644.1,341.2 645.3,345.2 646.8,348.6 648.0,343.6 649.6,344.4 650.7,342.5 651.9,347.9 653.4,347.3 654.9,348.2 656.2,341.9 657.8,344.2 659.4,341.5 660.9,345.6 662.1,343.2 663.5,346.5 664.7,343.4 666.1,347.3 667.5,344.8 668.7,348.0 669.9,344.4 671.5,345.6 673.1,344.5 674.3,349.0 675.7,343.8" fill="none" stroke="#2a8a48" stroke-width="1.30" stroke-linejoin="round"/>
<polyline points="492.3,270.7 493.9,268.6 495.2,269.0 496.3,264.6 497.7,269.7 499.3,268.5 500.5,272.4 502.1,271.2 503.5,274.8 505.0,272.1 506.2,275.8 507.7,275.9 509.1,279.0 510.8,274.6 512.3,278.2 513.7,275.7 515.3,280.7 516.7,278.0 518.1,282.2 519.4,280.1 520.8,282.9 522.0,280.6 523.6,283.8 525.1,282.3 526.5,286.4 527.7,284.9 529.1,289.9 530.6,288.5 531.9,292.7 533.6,291.0 535.0,294.1 536.6,290.9 538.0,296.7 539.4,299.9 540.6,298.2 542.0,296.2 543.4,299.7 544.8,297.2 546.1,301.4 547.2,299.0 548.5,301.3 550.2,299.5 551.6,301.2 553.1,297.1 554.2,303.4 555.9,299.9 557.2,304.9 558.6,303.2 560.0,307.7 561.1,305.2 562.7,309.0 564.1,313.5 565.4,311.2 566.6,307.1 568.0,312.7 569.2,308.7 570.4,312.3 571.6,308.4 573.1,312.6 574.4,311.3 575.6,314.1 577.3,312.2 578.8,316.5 580.3,313.8 581.6,320.1 583.1,322.1 584.6,318.8 585.8,316.6 587.1,322.3 588.7,319.2 589.9,321.8 591.0,318.8 592.4,320.9 594.0,319.4 595.3,321.9 596.7,319.4 598.2,324.6 599.4,329.3 601.1,327.5 602.2,323.7 603.8,327.6 604.9,325.2 606.4,332.5 607.8,327.7 609.3,329.2 610.6,327.9 612.0,332.5 613.7,328.3 614.9,332.3 616.4,329.5 617.5,333.2 619.1,337.6 620.5,333.9 621.7,332.3 623.1,337.6 624.7,333.1 626.1,335.1 627.5,333.5 628.9,339.1 630.3,334.4 631.8,337.9 633.0,333.6 634.3,338.3 635.8,336.3 637.5,341.5 638.9,338.2 640.2,342.5 641.9,341.3 643.3,344.4 644.5,342.5 645.8,352.2 647.4,346.3 648.6,348.1 650.2,345.3 651.8,350.3 653.0,349.0 654.2,350.8 655.8,350.8 657.5,346.2 658.9,344.3 660.5,347.5 662.0,345.2 663.5,349.8 665.1,345.5 666.3,349.2 668.0,348.6 669.6,350.4 670.9,345.8 672.0,348.9 673.4,347.1 674.9,350.0 676.5,344.7" fill="none" stroke="#45a858" stroke-width="1.30" stroke-linejoin="round"/>
<polyline points="492.3,274.2 493.7,273.5 495.1,270.9 496.5,268.6 498.0,272.2 499.3,271.3 500.7,278.6 502.0,274.6 503.3,277.8 504.6,275.9 505.7,280.3 507.2,279.2 508.3,284.0 509.9,279.3 511.4,281.4 512.7,278.3 514.3,282.9 515.6,280.5 516.9,283.1 518.0,280.8 519.3,285.7 521.0,289.7 522.3,287.7 523.8,283.8 525.1,289.2 526.6,286.1 528.2,291.2 529.6,289.0 531.0,294.9 532.4,293.5 533.8,298.3 535.1,293.5 536.6,296.9 538.3,300.0 539.5,298.9 541.0,296.7 542.2,302.4 543.6,299.9 545.2,304.2 546.4,307.3 547.8,304.1 549.2,300.3 550.6,302.9 552.1,300.6 553.3,302.3 554.4,301.2 555.6,306.6 557.2,305.0 558.5,308.3 559.7,306.9 561.2,310.8 562.6,308.9 563.9,317.3 565.1,311.8 566.5,313.7 567.7,313.2 569.0,315.2 570.6,311.1 572.2,313.9 573.3,312.0 574.7,316.7 576.0,313.4 577.3,318.2 578.9,314.7 580.0,318.2 581.3,320.9 582.7,320.0 584.1,318.3 585.7,322.3 586.9,320.7 588.5,324.2 590.2,320.6 591.6,323.9 593.3,321.5 594.6,324.2 596.2,322.5 597.8,328.7 598.9,326.1 600.5,330.0 601.9,326.5 603.4,329.1 604.7,327.6 605.9,330.5 607.4,328.7 608.7,333.1 610.1,332.0 611.6,339.8 612.9,334.1 614.2,337.9 615.5,334.8 617.0,337.3 618.4,335.7 620.1,339.0 621.5,336.1 622.6,341.6 623.9,338.6 625.3,340.1 626.8,335.9 628.2,341.2 629.5,340.7 630.6,343.5 631.9,344.8 633.5,339.9 634.9,338.2 636.1,344.1 637.3,339.9 638.8,348.6 640.3,343.6 641.9,348.4 643.1,345.9 644.8,349.9 646.2,353.9 647.8,352.4 649.4,353.7 650.7,353.7 652.3,351.4 653.6,355.4 654.7,349.7 656.1,350.1 657.5,346.4 659.2,350.5 660.4,347.7 661.6,352.1 663.1,348.2 664.5,351.1 665.7,349.6 667.3,354.5 668.6,350.1 670.1,351.8 671.2,348.7 672.6,351.9 673.9,350.0 675.2,351.6 676.8,348.3" fill="none" stroke="#78c47a" stroke-width="1.30" stroke-linejoin="round"/>
<polyline points="492.3,277.6 493.7,284.6 495.1,274.4 496.7,271.5 498.0,276.8 499.2,273.8 500.4,279.0 501.5,275.6 503.0,281.1 504.3,279.8 505.5,286.3 506.7,281.7 508.2,288.7 509.5,282.2 510.9,284.5 512.2,281.2 513.4,285.9 515.0,290.3 516.2,286.5 517.7,283.3 519.2,288.0 520.5,286.7 521.7,290.2 523.0,286.6 524.6,291.2 526.3,289.9 527.8,294.7 529.1,292.4 530.5,297.4 531.7,296.6 532.8,301.2 534.4,296.3 535.7,300.0 536.9,297.2 538.0,301.3 539.5,305.1 540.8,302.2 542.2,301.3 543.8,309.1 545.2,302.7 546.5,306.0 547.8,303.6 549.0,305.8 550.1,307.7 551.5,304.6 552.7,302.4 553.9,305.0 555.4,309.6 556.8,310.5 558.3,308.9 559.6,316.5 561.2,311.3 562.9,316.2 564.1,326.6 565.4,319.0 566.6,315.8 568.2,320.0 569.8,314.3 571.0,316.3 572.4,314.3 573.9,317.8 575.1,314.4 576.3,318.6 577.9,316.7 579.6,321.5 580.7,319.0 582.0,322.6 583.5,320.6 585.1,326.0 586.4,330.2 587.6,329.8 589.0,324.2 590.3,326.0 591.5,328.1 592.8,326.0 594.1,324.0 595.5,327.1 597.0,325.5 598.2,330.5 599.8,330.7 601.4,331.8 603.0,329.3 604.6,332.2 605.9,330.4 607.2,334.5 608.5,333.9 609.7,337.5 611.0,337.1 612.6,342.5 614.0,345.2 615.6,342.2 617.1,338.7 618.6,345.1 619.9,341.7 621.4,341.9 622.7,349.2 624.3,346.5 625.9,340.7 627.0,345.8 628.2,346.7 629.8,349.0 631.0,349.9 632.6,344.8 633.8,339.9 635.0,344.8 636.2,343.6 637.9,347.8 639.3,345.2 640.9,350.4 642.2,348.9 643.8,351.4 645.3,354.7 646.7,354.4 648.0,351.5 649.3,353.8 650.7,350.8 652.0,356.4 653.4,354.9 654.7,359.0 655.9,350.8 657.3,351.4 659.0,349.8 660.2,353.3 661.6,350.6 662.9,353.0 664.4,351.5 665.7,354.6 667.0,353.1 668.3,357.9 670.0,350.5 671.5,353.8 672.7,351.9 674.3,354.6 675.7,351.6" fill="none" stroke="#a5d99e" stroke-width="1.30" stroke-linejoin="round"/>
<polyline points="492.0,253.9 492.7,252.9 493.3,255.0 494.0,257.1 494.6,258.3 495.3,256.4 496.0,256.8 496.6,253.7 497.3,251.2 497.9,251.2 498.6,249.8 499.2,251.3 499.9,253.1 500.5,256.5 501.2,260.6 501.8,261.8 502.5,262.8 503.1,265.4 503.8,263.6 504.4,262.8 505.1,261.1 505.7,260.7 506.4,261.1 507.0,262.6 507.7,263.0 508.3,264.1 509.0,262.1 509.6,264.9 510.3,265.5 510.9,265.9 511.6,264.8 512.2,264.1 512.9,264.4 513.5,263.9 514.2,264.2 514.9,265.6 515.5,267.3 516.2,269.4 516.8,270.7 517.5,266.1 518.1,265.0 518.8,265.0 519.4,266.5 520.1,269.2 520.7,270.2 521.4,271.5 522.0,269.5 522.7,268.6 523.3,268.3 524.0,271.1 524.6,270.2 525.3,272.3 525.9,272.0 526.6,270.9 527.2,269.2 527.9,273.3 528.5,271.5 529.2,272.1 529.8,271.0 530.5,269.6 531.1,269.0 531.8,267.8 532.4,268.9 533.1,273.6 533.8,273.3 534.4,275.6 535.1,273.1 535.7,274.0 536.4,273.9 537.0,274.4 537.7,275.8 538.3,277.1 539.0,276.2 539.6,276.3 540.3,277.6 540.9,279.2 541.6,281.2 542.2,280.3 542.9,280.8 543.5,280.8 544.2,283.7 544.8,285.6 545.5,286.4 546.1,286.2 546.8,283.1 547.4,281.8 548.1,283.7 548.7,284.8 549.4,282.8 550.0,280.4 550.7,281.6 551.3,282.8 552.0,284.7 552.7,284.1 553.0,281.1 553.7,283.5 554.3,285.6 555.0,286.6 555.6,286.8 556.3,285.2 556.9,285.3 557.6,288.1 558.2,285.2 558.9,286.1 559.5,287.2 560.2,288.7 560.8,291.1 561.5,289.4 562.1,288.8 562.8,294.4 563.4,298.0 564.1,300.1 564.7,296.8 565.4,295.5 566.0,297.1 566.7,299.5 567.3,298.7 568.0,297.4 568.6,297.2 569.3,296.6 569.9,298.4 570.6,300.4 571.2,298.4 571.9,297.7 572.6,298.4 573.2,300.0 573.9,298.2 574.5,298.7 575.2,299.3 575.8,302.2 576.5,309.1 577.1,303.4 577.8,299.4 578.4,299.7 579.1,300.4 579.7,300.3 580.4,299.9 581.0,301.1 581.7,300.6 582.3,299.8 583.0,301.9 583.6,300.1 584.3,302.5 584.9,302.0 585.6,304.9 586.2,301.3 586.9,300.8 587.5,301.3 588.2,302.9 588.8,305.2 589.5,306.1 590.1,305.1 590.8,305.9 591.5,305.6 592.1,306.0 592.8,302.4 593.4,303.9 594.1,303.8 594.7,307.4 595.4,308.2 596.0,305.7 596.7,305.7 597.3,305.9 598.0,308.0 598.6,307.8 599.3,310.7 599.9,309.3 600.6,309.8 601.2,310.8 601.9,313.5 602.5,313.2 603.2,313.1 603.8,313.8 604.5,315.6 605.1,314.8 605.8,317.5 606.4,314.3 607.1,314.8 607.7,312.3 608.4,314.8 609.0,314.8 609.7,313.3 610.4,313.2 611.0,312.7 611.7,312.0 612.3,312.5 613.0,314.4 613.0,312.6 613.7,313.1 614.3,314.8 615.0,315.2 615.6,317.3 616.3,315.7 616.9,316.4 617.6,315.7 618.2,317.2 618.9,318.5 619.5,320.5 620.2,322.0 620.8,322.5 621.5,318.2 622.1,319.4 622.8,319.9 623.4,320.2 624.1,319.5 624.7,321.5 625.4,321.5 626.0,320.4 626.7,323.6 627.3,328.8 628.0,329.0 628.6,326.3 629.3,325.5 629.9,323.3 630.6,325.2 631.2,325.6 631.9,325.5 632.6,324.5 633.2,324.8 633.9,324.9 634.5,325.3 635.2,326.3 635.8,325.7 636.5,325.0 637.1,326.7 637.8,327.1 638.4,329.1 639.1,328.5 639.7,326.8 640.4,327.6 641.0,328.8 641.7,330.4 642.3,330.3 643.0,332.7 643.6,331.5 644.3,331.0 644.9,330.4 645.6,330.3 646.2,330.1 646.9,334.0 647.5,332.1 648.2,329.5 648.8,329.7 649.5,330.3 650.1,331.4 650.8,333.1 651.5,330.2 652.1,327.4 652.8,329.0 653.4,329.9 654.1,332.7 654.7,330.8 655.4,331.1 656.0,328.6 656.7,332.7 657.3,329.8 658.0,325.4 658.6,327.8 659.3,329.7 659.9,330.6 660.6,331.7 661.2,329.3 661.9,331.8 662.5,333.0 663.2,334.8 663.8,333.9 664.5,332.9 665.1,333.4 665.8,333.2 666.4,335.8 667.1,335.7 667.7,332.5 668.4,332.0 669.0,334.0 669.7,334.2 670.4,335.2 671.0,334.3 671.7,333.1 672.3,333.1 673.0,335.5 673.6,335.2 674.3,334.1 674.9,332.3 675.6,333.7 677.0,335.0" fill="none" stroke="#e0262a" stroke-width="1.35" stroke-linejoin="round"/>
<polyline points="492.0,268.9 493.3,263.4 494.6,262.9 496.1,263.0 497.6,263.6 499.1,260.0 500.6,260.5 501.7,258.0 502.8,257.4 504.1,249.7 505.4,248.4 506.6,245.1 507.7,251.3 508.7,246.9 510.0,247.7 511.4,247.6 512.7,249.0 514.1,247.3 515.2,251.8 516.7,248.0 518.1,252.7 519.5,248.5 520.7,248.1 522.0,245.0 523.0,249.4 524.5,250.4 525.7,254.8 526.8,252.1 528.4,257.4 529.5,256.8 530.8,252.8 532.3,253.4 533.5,259.8 535.0,265.8 536.6,261.9 537.6,262.4 539.1,263.0 540.5,261.3 541.9,268.5 543.3,267.9 544.4,268.9 545.5,264.8 546.8,271.8 548.3,270.4 549.6,274.2 550.8,274.2 552.1,277.3 553.3,278.4 554.4,277.7 555.4,277.1 556.8,273.8 558.1,272.2 559.4,280.8 560.6,279.1 561.8,280.6 563.0,280.3 564.2,278.0 565.3,277.7 566.6,282.8 568.0,285.4 569.0,287.0 570.5,280.8 571.6,283.9 573.0,283.6 574.3,288.3 575.4,284.8 576.9,290.1 578.1,289.6 579.5,287.7 580.7,286.9 581.8,291.0 583.1,290.0 584.6,293.9 585.9,292.5 587.0,293.0 588.2,299.2 589.7,293.3 591.2,291.9 592.3,299.9 593.4,295.4 594.9,296.4 596.1,292.1 597.2,295.6 598.7,299.2 600.0,300.1 601.1,298.5 602.4,301.5 603.9,296.1 605.1,302.1 606.2,296.6 607.7,301.2 608.9,299.1 610.3,301.2 611.4,300.9 613.0,304.1 614.0,304.3 615.6,308.6 616.8,309.9 618.1,310.1 619.3,310.1 620.5,310.8 621.5,309.0 622.8,310.0 624.3,309.5 625.7,317.1 626.9,313.9 628.2,318.6 629.3,314.8 630.6,317.2 631.7,322.6 632.9,320.5 634.3,318.4 635.6,319.1 636.8,317.4 638.3,318.8 639.3,319.6 640.4,325.0 641.7,322.9 643.2,324.7 644.7,321.2 646.3,322.7 647.5,323.5 648.7,322.6 649.8,322.6 651.4,323.1 652.7,324.2 654.1,325.0 655.4,322.9 656.8,327.4 658.3,324.6 659.6,329.4 661.0,326.3 662.1,326.7 663.3,326.1 664.5,331.9 665.6,327.3 666.9,329.4 668.4,328.4 669.7,327.0 671.0,326.9 672.5,330.2 673.6,326.4 674.9,331.4 676.3,326.8" fill="none" stroke="#3a7fc0" stroke-width="1.35" stroke-linejoin="round"/>
<path d="M491.40 384.30v-2.20M491.40 223.10v2.20M495.27 384.30v-1.30M495.27 223.10v1.30M499.13 384.30v-1.30M499.13 223.10v1.30M503.00 384.30v-1.30M503.00 223.10v1.30M506.87 384.30v-1.30M506.87 223.10v1.30M510.73 384.30v-1.30M510.73 223.10v1.30M514.60 384.30v-1.30M514.60 223.10v1.30M518.47 384.30v-1.30M518.47 223.10v1.30M522.33 384.30v-2.20M522.33 223.10v2.20M530.07 384.30v-1.30M530.07 223.10v1.30M537.80 384.30v-1.30M537.80 223.10v1.30M545.53 384.30v-1.30M545.53 223.10v1.30M553.27 384.30v-1.30M553.27 223.10v1.30M561.00 384.30v-2.20M561.00 223.10v2.20M568.73 384.30v-1.30M568.73 223.10v1.30M576.47 384.30v-1.30M576.47 223.10v1.30M584.20 384.30v-1.30M584.20 223.10v1.30M591.93 384.30v-1.30M591.93 223.10v1.30M599.67 384.30v-2.20M599.67 223.10v2.20M607.40 384.30v-1.30M607.40 223.10v1.30M615.13 384.30v-1.30M615.13 223.10v1.30M622.87 384.30v-1.30M622.87 223.10v1.30M630.60 384.30v-1.30M630.60 223.10v1.30M638.33 384.30v-2.20M638.33 223.10v2.20M646.07 384.30v-1.30M646.07 223.10v1.30M653.80 384.30v-1.30M653.80 223.10v1.30M661.53 384.30v-1.30M661.53 223.10v1.30M669.27 384.30v-1.30M669.27 223.10v1.30M677.00 384.30v-2.20M677.00 223.10v2.20M491.40 384.30h2.20M677.00 384.30h-2.20M491.40 352.06h2.20M677.00 352.06h-2.20M491.40 319.82h2.20M677.00 319.82h-2.20M491.40 287.58h2.20M677.00 287.58h-2.20M491.40 255.34h2.20M677.00 255.34h-2.20M491.40 223.10h2.20M677.00 223.10h-2.20" stroke="#555" stroke-width="0.6" fill="none"/>
<path d="M490.90 223.10H677.50M490.90 384.30H677.50" stroke="#6e6e6e" stroke-width="0.9" fill="none"/>
<path d="M491.40 223.10V384.30M677.00 223.10V384.30" stroke="#8c8c8c" stroke-width="0.9" fill="none"/>
<g font-size="8" fill="#3a3a3a"><text x="491.65" y="394.30" text-anchor="middle" letter-spacing="0.5">0.1</text><text x="522.58" y="394.30" text-anchor="middle" letter-spacing="0.5">0.5</text><text x="561.25" y="394.30" text-anchor="middle" letter-spacing="0.5">1.0</text><text x="599.92" y="394.30" text-anchor="middle" letter-spacing="0.5">1.5</text><text x="638.58" y="394.30" text-anchor="middle" letter-spacing="0.5">2.0</text><text x="677.25" y="394.30" text-anchor="middle" letter-spacing="0.5">2.5</text><text x="489.40" y="386.60" text-anchor="end" letter-spacing="0.6">-20</text><text x="489.40" y="354.36" text-anchor="end" letter-spacing="0.6">0</text><text x="489.40" y="322.12" text-anchor="end" letter-spacing="0.6">20</text><text x="489.40" y="289.88" text-anchor="end" letter-spacing="0.6">40</text><text x="489.40" y="257.64" text-anchor="end" letter-spacing="0.6">60</text><text x="489.40" y="225.40" text-anchor="end" letter-spacing="0.6">80</text></g>
<text x="584.20" y="404.70" text-anchor="middle" font-size="9" fill="#3a3a3a">Frequency in kHz</text>
<text transform="translate(473.10 303.70) rotate(-90)" text-anchor="middle" font-size="9.3" fill="#3a3a3a">PSD of pressure level in dB(A)/Hz</text>
<rect x="494.90" y="314.70" width="27.00" height="65.40" fill="#fff" stroke="#555" stroke-width="0.6"/>
<line x1="495.70" y1="319.40" x2="508.30" y2="319.40" stroke="#4f9473" stroke-width="2.00"/>
<text x="509.90" y="322.20" font-size="8.2" fill="#3a3a3a"><tspan font-style="italic">C</tspan><tspan font-size="5.4" dy="1.5">01</tspan></text>
<line x1="495.70" y1="328.75" x2="508.30" y2="328.75" stroke="#2f8c4e" stroke-width="1.20"/>
<text x="509.90" y="331.55" font-size="8.2" fill="#3a3a3a"><tspan font-style="italic">C</tspan><tspan font-size="5.4" dy="1.5">02</tspan></text>
<line x1="495.70" y1="338.10" x2="508.30" y2="338.10" stroke="#3f9f55" stroke-width="1.20"/>
<text x="509.90" y="340.90" font-size="8.2" fill="#3a3a3a"><tspan font-style="italic">C</tspan><tspan font-size="5.4" dy="1.5">03</tspan></text>
<line x1="495.70" y1="347.45" x2="508.30" y2="347.45" stroke="#7cc57c" stroke-width="1.40"/>
<text x="509.90" y="350.25" font-size="8.2" fill="#3a3a3a"><tspan font-style="italic">C</tspan><tspan font-size="5.4" dy="1.5">04</tspan></text>
<line x1="495.70" y1="356.80" x2="508.30" y2="356.80" stroke="#a8d9a0" stroke-width="1.40"/>
<text x="509.90" y="359.60" font-size="8.2" fill="#3a3a3a"><tspan font-style="italic">C</tspan><tspan font-size="5.4" dy="1.5">05</tspan></text>
<line x1="495.70" y1="366.15" x2="508.30" y2="366.15" stroke="#e02a2a" stroke-width="1.20"/>
<text x="509.90" y="368.95" font-size="8.2" fill="#3a3a3a"><tspan font-style="italic">P</tspan><tspan font-size="5.4" dy="1.5" font-style="italic">L</tspan></text>
<line x1="495.70" y1="375.50" x2="508.30" y2="375.50" stroke="#5a98cc" stroke-width="1.40"/>
<text x="509.90" y="378.30" font-size="8.2" fill="#3a3a3a"><tspan font-style="italic">P</tspan><tspan font-size="5.4" dy="1.5" font-style="italic">U</tspan></text>
<text x="78.40" y="427" font-size="12.5" fill="#1a1a1a"><tspan font-family="Liberation Sans" font-weight="bold">(a)</tspan> KEMAR</text>
<text x="320.10" y="427" font-size="12.5" fill="#1a1a1a"><tspan font-family="Liberation Sans" font-weight="bold">(b)</tspan> male</text>
<text x="547.70" y="427" font-size="12.5" fill="#1a1a1a"><tspan font-family="Liberation Sans" font-weight="bold">(c)</tspan> female</text>
</svg>
</body></html>
